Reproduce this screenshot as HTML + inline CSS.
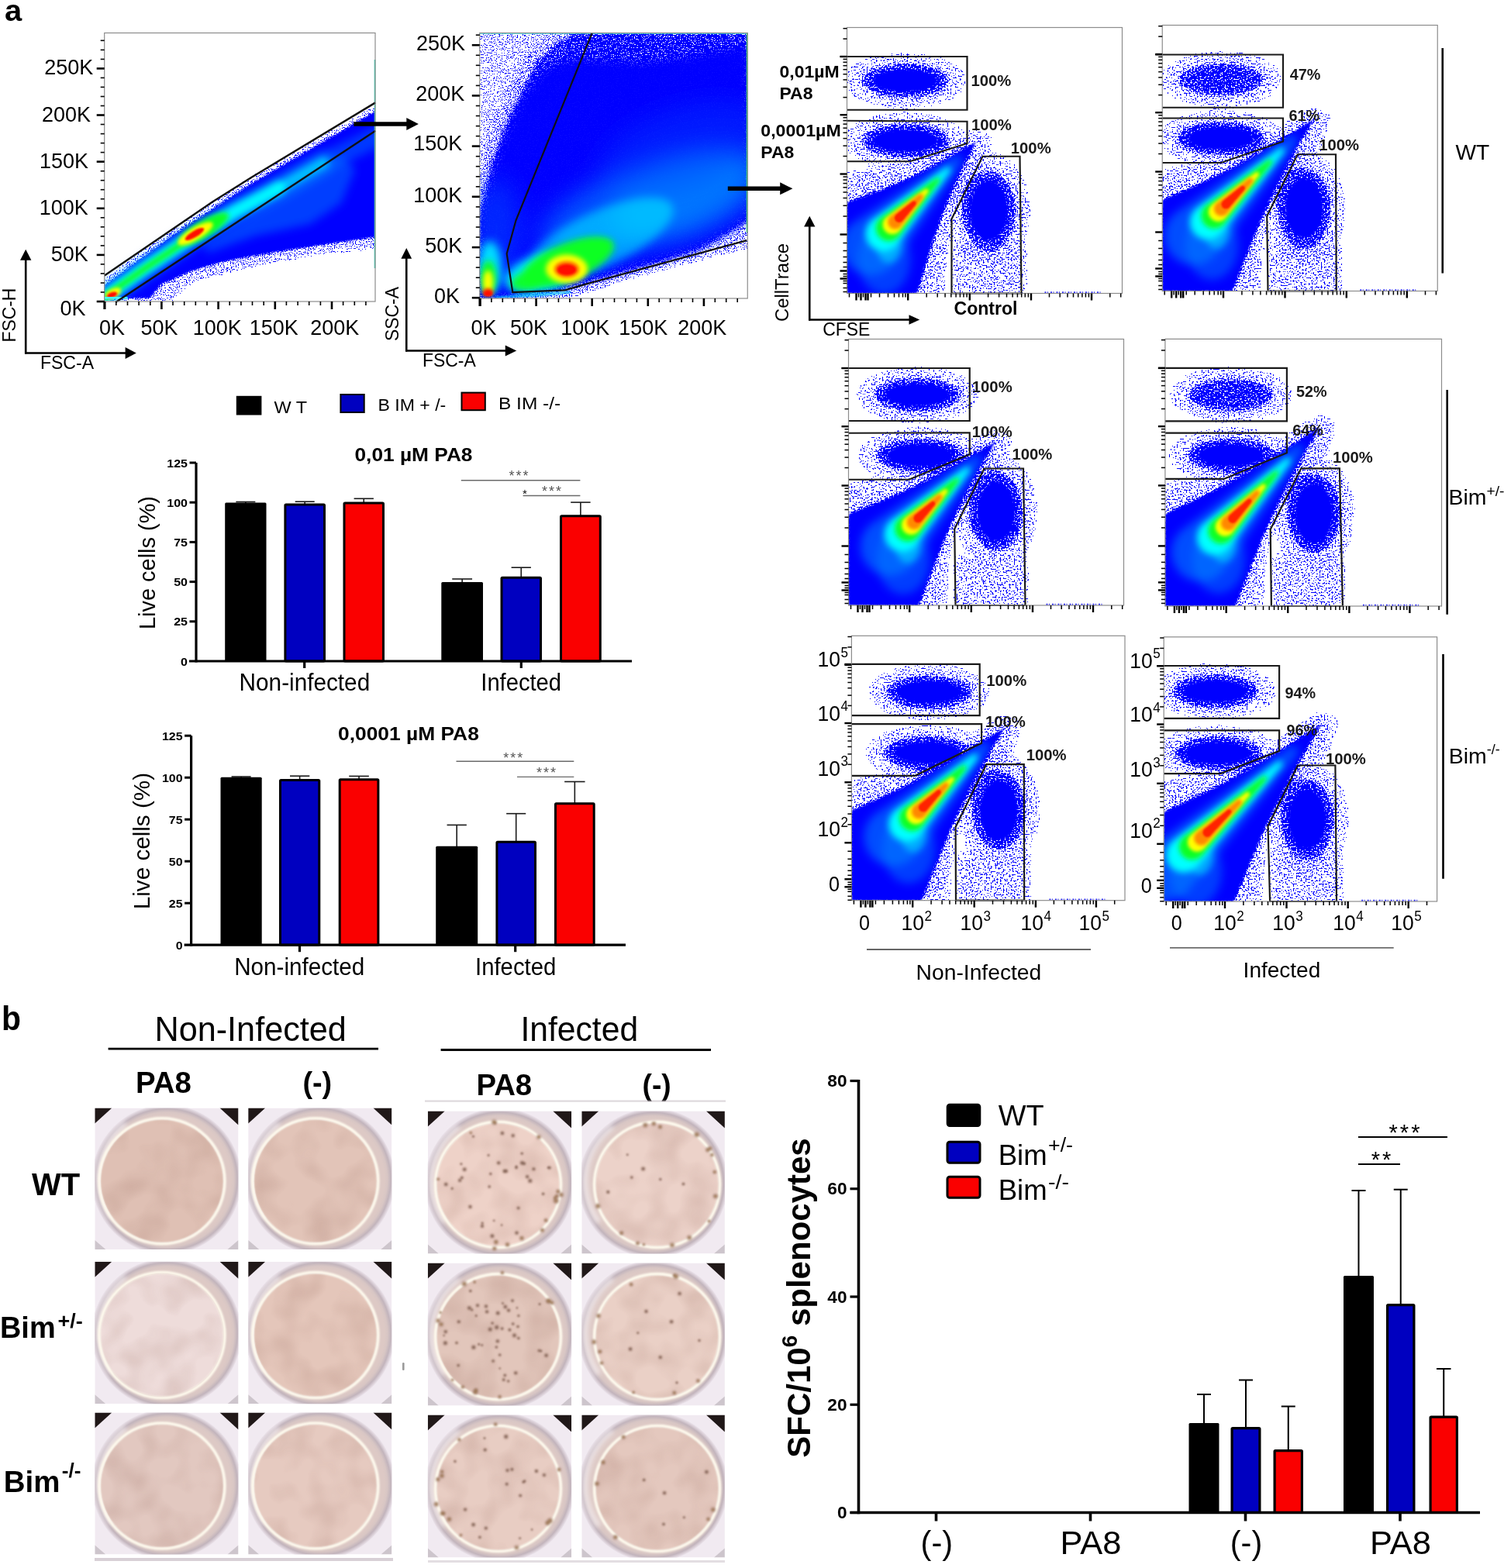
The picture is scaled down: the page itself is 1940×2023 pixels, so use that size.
<!DOCTYPE html>
<html><head><meta charset="utf-8"><title>Figure</title>
<style>html,body{margin:0;padding:0;background:#fff;}svg{display:block;}</style></head>
<body><svg xmlns="http://www.w3.org/2000/svg" width="1940" height="2023" viewBox="0 0 1940 2023" font-family="Liberation Sans, Arial, sans-serif">
<rect width="1940" height="2023" fill="#fff"/>
<defs>
<filter id="b1" x="-20%" y="-20%" width="140%" height="140%"><feGaussianBlur stdDeviation="1"/></filter>
<filter id="b2" x="-20%" y="-20%" width="140%" height="140%"><feGaussianBlur stdDeviation="2"/></filter>
<filter id="b3" x="-30%" y="-30%" width="160%" height="160%"><feGaussianBlur stdDeviation="3"/></filter>
<filter id="b4" x="-30%" y="-30%" width="160%" height="160%"><feGaussianBlur stdDeviation="4"/></filter>
<filter id="b6" x="-40%" y="-40%" width="180%" height="180%"><feGaussianBlur stdDeviation="6"/></filter>
<filter id="b10" x="-50%" y="-50%" width="200%" height="200%"><feGaussianBlur stdDeviation="10"/></filter>
<filter id="b16" x="-50%" y="-50%" width="200%" height="200%"><feGaussianBlur stdDeviation="16"/></filter>
<filter id="spk" x="-30%" y="-30%" width="160%" height="160%" color-interpolation-filters="sRGB">
  <feGaussianBlur in="SourceAlpha" stdDeviation="5" result="b"/>
  <feTurbulence type="fractalNoise" baseFrequency="0.5" numOctaves="2" seed="11" result="n"/>
  <feColorMatrix in="n" type="matrix" values="0 0 0 0 0  0 0 0 0 0  0 0 0 0 0  3.2 0 0 0 -1.1" result="na"/>
  <feComposite in="b" in2="na" operator="arithmetic" k1="0" k2="1" k3="1" k4="-1" result="s"/>
  <feComponentTransfer in="s" result="m"><feFuncA type="discrete" tableValues="0 1 1 1 1 1 1 1 1 1 1 1 1 1 1 1 1 1 1 1"/></feComponentTransfer>
  <feFlood flood-color="#0000ff" result="f"/>
  <feComposite in="f" in2="m" operator="in"/>
</filter>
<filter id="spk2" x="-30%" y="-30%" width="160%" height="160%" color-interpolation-filters="sRGB">
  <feGaussianBlur in="SourceAlpha" stdDeviation="2" result="b"/>
  <feTurbulence type="fractalNoise" baseFrequency="0.7" numOctaves="2" seed="5" result="n"/>
  <feColorMatrix in="n" type="matrix" values="0 0 0 0 0  0 0 0 0 0  0 0 0 0 0  3.2 0 0 0 -1.1" result="na"/>
  <feComposite in="b" in2="na" operator="arithmetic" k1="0" k2="1" k3="1" k4="-1" result="s"/>
  <feComponentTransfer in="s" result="m"><feFuncA type="discrete" tableValues="0 1 1 1 1 1 1 1 1 1 1 1 1 1 1 1 1 1 1 1"/></feComponentTransfer>
  <feFlood flood-color="#0000ff" result="f"/>
  <feComposite in="f" in2="m" operator="in"/>
</filter>
</defs>

<rect x="304.80" y="510.80" width="32.60" height="24.70" fill="#000"/>
<text x="353.4" y="533.0" font-size="22" textLength="42.6" lengthAdjust="spacingAndGlyphs">W T</text>
<rect x="439.40" y="509.00" width="30.30" height="23.00" fill="#0000c0" stroke="#000" stroke-width="2"/>
<text x="487.5" y="530.2" font-size="22" textLength="87.8" lengthAdjust="spacingAndGlyphs">B IM + /-</text>
<rect x="595.50" y="506.60" width="30.30" height="22.60" fill="#fa0000" stroke="#000" stroke-width="2"/>
<text x="643.0" y="527.8" font-size="22" textLength="80.2" lengthAdjust="spacingAndGlyphs">B IM -/-</text>
<line x1="316.85" y1="650.50" x2="316.85" y2="647.50" stroke="#1a1a1a" stroke-width="1.6" />
<line x1="304.35" y1="647.50" x2="329.35" y2="647.50" stroke="#1a1a1a" stroke-width="1.6" />
<line x1="393.20" y1="651.50" x2="393.20" y2="647.20" stroke="#1a1a1a" stroke-width="1.6" />
<line x1="380.70" y1="647.20" x2="405.70" y2="647.20" stroke="#1a1a1a" stroke-width="1.6" />
<line x1="469.25" y1="649.60" x2="469.25" y2="643.30" stroke="#1a1a1a" stroke-width="1.6" />
<line x1="456.60" y1="643.30" x2="481.90" y2="643.30" stroke="#1a1a1a" stroke-width="1.6" />
<line x1="596.15" y1="753.00" x2="596.15" y2="747.00" stroke="#1a1a1a" stroke-width="1.6" />
<line x1="583.25" y1="747.00" x2="609.05" y2="747.00" stroke="#1a1a1a" stroke-width="1.6" />
<line x1="672.25" y1="745.70" x2="672.25" y2="732.20" stroke="#1a1a1a" stroke-width="1.6" />
<line x1="659.60" y1="732.20" x2="684.90" y2="732.20" stroke="#1a1a1a" stroke-width="1.6" />
<line x1="748.90" y1="666.20" x2="748.90" y2="648.10" stroke="#1a1a1a" stroke-width="1.6" />
<line x1="736.20" y1="648.10" x2="761.60" y2="648.10" stroke="#1a1a1a" stroke-width="1.6" />
<rect x="290.20" y="648.50" width="53.30" height="204.50" fill="#000" rx="1.5"/>
<rect x="367.90" y="651.00" width="50.60" height="202.00" fill="#0000c0" stroke="#000" stroke-width="3" rx="1"/>
<rect x="444.00" y="649.10" width="50.50" height="203.90" fill="#fa0000" stroke="#000" stroke-width="3" rx="1"/>
<rect x="569.30" y="751.00" width="53.70" height="102.00" fill="#000" rx="1.5"/>
<rect x="647.00" y="745.20" width="50.50" height="107.80" fill="#0000c0" stroke="#000" stroke-width="3" rx="1"/>
<rect x="723.50" y="665.70" width="50.80" height="187.30" fill="#fa0000" stroke="#000" stroke-width="3" rx="1"/>
<line x1="253.00" y1="597.00" x2="253.00" y2="854.50" stroke="#000" stroke-width="3.2" />
<line x1="244.00" y1="853.00" x2="815.00" y2="853.00" stroke="#000" stroke-width="3.2" />
<line x1="244.50" y1="801.80" x2="253.00" y2="801.80" stroke="#000" stroke-width="3" />
<line x1="244.50" y1="750.60" x2="253.00" y2="750.60" stroke="#000" stroke-width="3" />
<line x1="244.50" y1="699.40" x2="253.00" y2="699.40" stroke="#000" stroke-width="3" />
<line x1="244.50" y1="648.20" x2="253.00" y2="648.20" stroke="#000" stroke-width="3" />
<line x1="244.50" y1="597.00" x2="253.00" y2="597.00" stroke="#000" stroke-width="3" />
<text x="242.0" y="858.5" font-size="15.5" font-weight="bold" text-anchor="end" textLength="8.9" lengthAdjust="spacingAndGlyphs">0</text>
<text x="242.0" y="807.3" font-size="15.5" font-weight="bold" text-anchor="end" textLength="17.8" lengthAdjust="spacingAndGlyphs">25</text>
<text x="242.0" y="756.1" font-size="15.5" font-weight="bold" text-anchor="end" textLength="17.8" lengthAdjust="spacingAndGlyphs">50</text>
<text x="242.0" y="704.9" font-size="15.5" font-weight="bold" text-anchor="end" textLength="17.8" lengthAdjust="spacingAndGlyphs">75</text>
<text x="242.0" y="653.7" font-size="15.5" font-weight="bold" text-anchor="end" textLength="26.7" lengthAdjust="spacingAndGlyphs">100</text>
<text x="242.0" y="602.5" font-size="15.5" font-weight="bold" text-anchor="end" textLength="26.7" lengthAdjust="spacingAndGlyphs">125</text>
<line x1="392.70" y1="853.00" x2="392.70" y2="862.00" stroke="#000" stroke-width="3.2" />
<line x1="672.30" y1="853.00" x2="672.30" y2="862.00" stroke="#000" stroke-width="3.2" />
<text x="457.5" y="595.3" font-size="24" font-weight="bold" textLength="152.0" lengthAdjust="spacingAndGlyphs">0,01 µM PA8</text>
<text x="308.6" y="890.6" font-size="31" textLength="168.6" lengthAdjust="spacingAndGlyphs">Non-infected</text>
<text x="620.3" y="890.6" font-size="31" textLength="103.7" lengthAdjust="spacingAndGlyphs">Infected</text>
<text transform="translate(200.0,726.0) rotate(-90)" font-size="29" text-anchor="middle" textLength="172.0" lengthAdjust="spacingAndGlyphs">Live cells (%)</text>
<line x1="594.80" y1="619.80" x2="748.40" y2="619.80" stroke="#6a6a6a" stroke-width="1.4" />
<text x="670.0" y="620.0" font-size="18" text-anchor="middle" fill="#555" letter-spacing="2">***</text>
<line x1="674.60" y1="639.50" x2="748.40" y2="639.50" stroke="#6a6a6a" stroke-width="1.4" />
<text x="712.6" y="639.5" font-size="18" text-anchor="middle" fill="#555" letter-spacing="2">***</text>
<text x="677.0" y="641.5" font-size="15" text-anchor="middle">*</text>
<line x1="311.10" y1="1004.80" x2="311.10" y2="1002.00" stroke="#1a1a1a" stroke-width="1.6" />
<line x1="298.60" y1="1002.00" x2="323.60" y2="1002.00" stroke="#1a1a1a" stroke-width="1.6" />
<line x1="386.65" y1="1007.00" x2="386.65" y2="1001.20" stroke="#1a1a1a" stroke-width="1.6" />
<line x1="374.00" y1="1001.20" x2="399.30" y2="1001.20" stroke="#1a1a1a" stroke-width="1.6" />
<line x1="463.05" y1="1006.30" x2="463.05" y2="1001.40" stroke="#1a1a1a" stroke-width="1.6" />
<line x1="450.25" y1="1001.40" x2="475.85" y2="1001.40" stroke="#1a1a1a" stroke-width="1.6" />
<line x1="589.20" y1="1093.80" x2="589.20" y2="1064.40" stroke="#1a1a1a" stroke-width="1.6" />
<line x1="576.55" y1="1064.40" x2="601.85" y2="1064.40" stroke="#1a1a1a" stroke-width="1.6" />
<line x1="665.70" y1="1086.70" x2="665.70" y2="1049.70" stroke="#1a1a1a" stroke-width="1.6" />
<line x1="653.15" y1="1049.70" x2="678.25" y2="1049.70" stroke="#1a1a1a" stroke-width="1.6" />
<line x1="741.35" y1="1037.30" x2="741.35" y2="1008.50" stroke="#1a1a1a" stroke-width="1.6" />
<line x1="728.15" y1="1008.50" x2="754.55" y2="1008.50" stroke="#1a1a1a" stroke-width="1.6" />
<rect x="284.50" y="1002.80" width="53.20" height="216.40" fill="#000" rx="1.5"/>
<rect x="361.50" y="1006.50" width="50.30" height="212.70" fill="#0000c0" stroke="#000" stroke-width="3" rx="1"/>
<rect x="438.20" y="1005.80" width="49.70" height="213.40" fill="#fa0000" stroke="#000" stroke-width="3" rx="1"/>
<rect x="562.20" y="1091.80" width="54.00" height="127.40" fill="#000" rx="1.5"/>
<rect x="640.90" y="1086.20" width="49.60" height="133.00" fill="#0000c0" stroke="#000" stroke-width="3" rx="1"/>
<rect x="716.50" y="1036.80" width="49.70" height="182.40" fill="#fa0000" stroke="#000" stroke-width="3" rx="1"/>
<line x1="246.60" y1="949.20" x2="246.60" y2="1220.70" stroke="#000" stroke-width="3.2" />
<line x1="237.60" y1="1219.20" x2="807.00" y2="1219.20" stroke="#000" stroke-width="3.2" />
<line x1="238.10" y1="1165.20" x2="246.60" y2="1165.20" stroke="#000" stroke-width="3" />
<line x1="238.10" y1="1111.20" x2="246.60" y2="1111.20" stroke="#000" stroke-width="3" />
<line x1="238.10" y1="1057.20" x2="246.60" y2="1057.20" stroke="#000" stroke-width="3" />
<line x1="238.10" y1="1003.20" x2="246.60" y2="1003.20" stroke="#000" stroke-width="3" />
<line x1="238.10" y1="949.20" x2="246.60" y2="949.20" stroke="#000" stroke-width="3" />
<text x="235.6" y="1224.7" font-size="15.5" font-weight="bold" text-anchor="end" textLength="8.9" lengthAdjust="spacingAndGlyphs">0</text>
<text x="235.6" y="1170.7" font-size="15.5" font-weight="bold" text-anchor="end" textLength="17.8" lengthAdjust="spacingAndGlyphs">25</text>
<text x="235.6" y="1116.7" font-size="15.5" font-weight="bold" text-anchor="end" textLength="17.8" lengthAdjust="spacingAndGlyphs">50</text>
<text x="235.6" y="1062.7" font-size="15.5" font-weight="bold" text-anchor="end" textLength="17.8" lengthAdjust="spacingAndGlyphs">75</text>
<text x="235.6" y="1008.7" font-size="15.5" font-weight="bold" text-anchor="end" textLength="26.7" lengthAdjust="spacingAndGlyphs">100</text>
<text x="235.6" y="954.7" font-size="15.5" font-weight="bold" text-anchor="end" textLength="26.7" lengthAdjust="spacingAndGlyphs">125</text>
<line x1="386.50" y1="1219.20" x2="386.50" y2="1228.20" stroke="#000" stroke-width="3.2" />
<line x1="664.70" y1="1219.20" x2="664.70" y2="1228.20" stroke="#000" stroke-width="3.2" />
<text x="436.0" y="955.0" font-size="24" font-weight="bold" textLength="181.8" lengthAdjust="spacingAndGlyphs">0,0001 µM PA8</text>
<text x="302.2" y="1257.9" font-size="31" textLength="168.1" lengthAdjust="spacingAndGlyphs">Non-infected</text>
<text x="613.0" y="1257.9" font-size="31" textLength="104.3" lengthAdjust="spacingAndGlyphs">Infected</text>
<text transform="translate(193.2,1085.1) rotate(-90)" font-size="29" text-anchor="middle" textLength="176.2" lengthAdjust="spacingAndGlyphs">Live cells (%)</text>
<line x1="588.50" y1="982.30" x2="740.30" y2="982.30" stroke="#6a6a6a" stroke-width="1.4" />
<text x="662.8" y="983.5" font-size="18" text-anchor="middle" fill="#555" letter-spacing="2">***</text>
<line x1="667.00" y1="1002.40" x2="740.30" y2="1002.40" stroke="#6a6a6a" stroke-width="1.4" />
<text x="705.5" y="1003.0" font-size="18" text-anchor="middle" fill="#555" letter-spacing="2">***</text>
<line x1="1553.00" y1="1838.00" x2="1553.00" y2="1799.00" stroke="#000" stroke-width="2" />
<line x1="1544.00" y1="1799.00" x2="1562.00" y2="1799.00" stroke="#000" stroke-width="2" />
<line x1="1607.00" y1="1843.00" x2="1607.00" y2="1780.50" stroke="#000" stroke-width="2" />
<line x1="1598.00" y1="1780.50" x2="1616.00" y2="1780.50" stroke="#000" stroke-width="2" />
<line x1="1661.75" y1="1872.00" x2="1661.75" y2="1814.50" stroke="#000" stroke-width="2" />
<line x1="1652.75" y1="1814.50" x2="1670.75" y2="1814.50" stroke="#000" stroke-width="2" />
<line x1="1752.50" y1="1648.00" x2="1752.50" y2="1536.00" stroke="#000" stroke-width="2" />
<line x1="1743.50" y1="1536.00" x2="1761.50" y2="1536.00" stroke="#000" stroke-width="2" />
<line x1="1806.75" y1="1684.00" x2="1806.75" y2="1534.70" stroke="#000" stroke-width="2" />
<line x1="1797.75" y1="1534.70" x2="1815.75" y2="1534.70" stroke="#000" stroke-width="2" />
<line x1="1862.25" y1="1828.50" x2="1862.25" y2="1766.00" stroke="#000" stroke-width="2" />
<line x1="1853.00" y1="1766.00" x2="1871.50" y2="1766.00" stroke="#000" stroke-width="2" />
<rect x="1533.50" y="1836.00" width="39.00" height="115.50" fill="#000" rx="1.5"/>
<rect x="1589.10" y="1842.60" width="35.80" height="108.90" fill="#0000c0" stroke="#000" stroke-width="3.2" rx="1"/>
<rect x="1644.10" y="1871.60" width="35.30" height="79.90" fill="#fa0000" stroke="#000" stroke-width="3.2" rx="1"/>
<rect x="1733.00" y="1646.00" width="39.00" height="305.50" fill="#000" rx="1.5"/>
<rect x="1789.60" y="1683.60" width="34.30" height="267.90" fill="#0000c0" stroke="#000" stroke-width="3.2" rx="1"/>
<rect x="1845.10" y="1828.10" width="34.30" height="123.40" fill="#fa0000" stroke="#000" stroke-width="3.2" rx="1"/>
<line x1="1107.50" y1="1393.00" x2="1107.50" y2="1953.25" stroke="#000" stroke-width="3.6" />
<line x1="1096.50" y1="1951.50" x2="1909.00" y2="1951.50" stroke="#000" stroke-width="3.6" />
<line x1="1096.50" y1="1951.50" x2="1107.50" y2="1951.50" stroke="#000" stroke-width="3.2" />
<text x="1092.5" y="1959.0" font-size="22" font-weight="bold" text-anchor="end" textLength="12.6" lengthAdjust="spacingAndGlyphs">0</text>
<line x1="1096.50" y1="1812.25" x2="1107.50" y2="1812.25" stroke="#000" stroke-width="3.2" />
<text x="1092.5" y="1819.8" font-size="22" font-weight="bold" text-anchor="end" textLength="25.2" lengthAdjust="spacingAndGlyphs">20</text>
<line x1="1096.50" y1="1673.00" x2="1107.50" y2="1673.00" stroke="#000" stroke-width="3.2" />
<text x="1092.5" y="1680.5" font-size="22" font-weight="bold" text-anchor="end" textLength="25.2" lengthAdjust="spacingAndGlyphs">40</text>
<line x1="1096.50" y1="1533.75" x2="1107.50" y2="1533.75" stroke="#000" stroke-width="3.2" />
<text x="1092.5" y="1541.2" font-size="22" font-weight="bold" text-anchor="end" textLength="25.2" lengthAdjust="spacingAndGlyphs">60</text>
<line x1="1096.50" y1="1394.50" x2="1107.50" y2="1394.50" stroke="#000" stroke-width="3.2" />
<text x="1092.5" y="1402.0" font-size="22" font-weight="bold" text-anchor="end" textLength="25.2" lengthAdjust="spacingAndGlyphs">80</text>
<line x1="1207.50" y1="1951.50" x2="1207.50" y2="1962.50" stroke="#000" stroke-width="3.6" />
<line x1="1406.50" y1="1951.50" x2="1406.50" y2="1962.50" stroke="#000" stroke-width="3.6" />
<line x1="1606.50" y1="1951.50" x2="1606.50" y2="1962.50" stroke="#000" stroke-width="3.6" />
<line x1="1806.00" y1="1951.50" x2="1806.00" y2="1962.50" stroke="#000" stroke-width="3.6" />
<text x="1208.3" y="2005.0" font-size="42" text-anchor="middle" textLength="41.5" lengthAdjust="spacingAndGlyphs">(-)</text>
<text x="1407.0" y="2005.0" font-size="42" text-anchor="middle" textLength="79.0" lengthAdjust="spacingAndGlyphs">PA8</text>
<text x="1607.5" y="2005.0" font-size="42" text-anchor="middle" textLength="41.5" lengthAdjust="spacingAndGlyphs">(-)</text>
<text x="1806.5" y="2005.0" font-size="42" text-anchor="middle" textLength="79.0" lengthAdjust="spacingAndGlyphs">PA8</text>
<rect x="1222.00" y="1425.00" width="42.00" height="27.60" fill="#000" stroke="#000" stroke-width="2.6" rx="3"/>
<rect x="1222.00" y="1473.20" width="42.00" height="27.00" fill="#0000c0" stroke="#000" stroke-width="3" rx="3"/>
<rect x="1222.00" y="1518.30" width="42.00" height="27.00" fill="#fa0000" stroke="#000" stroke-width="3" rx="3"/>
<text x="1287.7" y="1451.9" font-size="37" textLength="59.0" lengthAdjust="spacingAndGlyphs">WT</text>
<text x="1287.7" y="1503.0" font-size="37" textLength="63.0" lengthAdjust="spacingAndGlyphs">Bim</text>
<text x="1352.0" y="1486.0" font-size="26" textLength="32.0" lengthAdjust="spacingAndGlyphs">+/-</text>
<text x="1287.7" y="1547.7" font-size="37" textLength="63.0" lengthAdjust="spacingAndGlyphs">Bim</text>
<text x="1352.0" y="1533.8" font-size="26" textLength="27.0" lengthAdjust="spacingAndGlyphs">-/-</text>
<line x1="1752.00" y1="1467.00" x2="1867.00" y2="1467.00" stroke="#000" stroke-width="2" />
<text x="1813.0" y="1471.0" font-size="29" text-anchor="middle" letter-spacing="3">***</text>
<line x1="1752.00" y1="1502.00" x2="1806.00" y2="1502.00" stroke="#000" stroke-width="2" />
<text x="1783.0" y="1506.0" font-size="29" text-anchor="middle" letter-spacing="3">**</text>
<text transform="translate(1045,1674.5) rotate(-90)" font-size="42" font-weight="bold" text-anchor="middle">SFC/10<tspan font-size="28" dy="-17">6</tspan><tspan dy="17"> splenocytes</tspan></text>
<clipPath id="cp1"><rect x="1092.50" y="35.50" width="355.00" height="343.00"/></clipPath>
<clipPath id="cp2"><polygon points="1092.5,378.5 1092.5,261.5 1113.4,254.3 1134.2,246.7 1155.1,238.3 1176.0,229.0 1196.9,218.6 1217.8,207.2 1238.6,195.1 1259.5,182.5 1245.4,207.0 1233.4,231.5 1222.7,256.0 1213.2,280.5 1204.7,305.0 1196.9,329.5 1189.6,354.0 1182.5,378.5"/></clipPath>
<g clip-path="url(#cp1)"><g filter="url(#spk)"><ellipse cx="1167.5" cy="104.0" rx="77.0" ry="34.0" fill="#000" fill-opacity="0.16"/><ellipse cx="1168.0" cy="181.5" rx="78.0" ry="34.0" fill="#000" fill-opacity="0.16"/><ellipse cx="1167.5" cy="104.0" rx="55.0" ry="21.0" fill="#000"/><ellipse cx="1168.0" cy="181.5" rx="56.0" ry="21.0" fill="#000"/><polygon points="1092.5,225.5 1132.5,217.5 1192.5,205.5 1255.5,170.5 1277.5,178.5 1263.5,222.5 1242.5,250.5 1222.5,295.5 1217.5,335.5 1214.5,378.5 1092.5,378.5" fill="#000" fill-opacity="0.3"/><polygon points="1092.5,378.5 1092.5,261.5 1113.4,254.3 1134.2,246.7 1155.1,238.3 1176.0,229.0 1196.9,218.6 1217.8,207.2 1238.6,195.1 1259.5,182.5 1245.4,207.0 1233.4,231.5 1222.7,256.0 1213.2,280.5 1204.7,305.0 1196.9,329.5 1189.6,354.0 1182.5,378.5" fill="#000"/><ellipse cx="1275.5" cy="271.5" rx="50.0" ry="72.0" fill="#000" fill-opacity="0.22"/><ellipse cx="1275.5" cy="271.5" rx="34.0" ry="50.0" fill="#000" fill-opacity="0.95"/><polygon points="1232.5,315.5 1320.5,315.5 1320.5,378.5 1232.5,378.5" fill="#000" fill-opacity="0.26"/></g><g filter="url(#b1)"><ellipse cx="1167.5" cy="104.0" rx="41.2" ry="14.0" fill="#0000ff"/><ellipse cx="1168.0" cy="181.5" rx="42.0" ry="14.0" fill="#0000ff"/><polygon points="1092.5,378.5 1092.5,261.5 1113.4,254.3 1134.2,246.7 1155.1,238.3 1176.0,229.0 1196.9,218.6 1217.8,207.2 1238.6,195.1 1259.5,182.5 1245.4,207.0 1233.4,231.5 1222.7,256.0 1213.2,280.5 1204.7,305.0 1196.9,329.5 1189.6,354.0 1182.5,378.5" fill="#0000ff"/><ellipse cx="1275.5" cy="271.5" rx="24.0" ry="38.0" fill="#0000ff"/></g><line x1="1347.5" y1="377.3" x2="1422.5" y2="377.3" stroke="#0000ff" stroke-width="2.2" stroke-dasharray="2 1.5 1 3" stroke-opacity="0.8"/><g clip-path="url(#cp2)"><g filter="url(#b6)"><ellipse cx="1171.5" cy="106.0" rx="32.0" ry="9.0" fill="#0050ff" fill-opacity="0.6"/><ellipse cx="1172.0" cy="183.5" rx="32.0" ry="9.0" fill="#0050ff" fill-opacity="0.6"/><ellipse cx="1140.5" cy="334.5" rx="34.0" ry="45.0" fill="#0070ff" fill-opacity="0.55"/><polygon points="1239.2,212.4 1240.7,210.2 1241.3,207.5 1240.8,204.8 1239.3,202.5 1237.0,201.0 1234.3,200.4 1231.6,201.0 1229.4,202.5 1096.5,290.3 1088.2,302.6 1085.2,317.1 1088.0,331.7 1096.2,344.0 1108.4,352.3 1123.0,355.3 1137.5,352.5 1149.9,344.3" fill="#0080ff" fill-opacity="0.6"/></g><g filter="url(#b4)"><polygon points="1225.4,221.9 1226.3,220.6 1226.6,219.0 1226.3,217.5 1225.4,216.2 1224.1,215.3 1222.6,215.0 1221.1,215.3 1219.8,216.2 1123.1,285.1 1118.1,292.5 1116.3,301.3 1118.0,310.1 1122.9,317.6 1130.3,322.6 1139.1,324.4 1147.9,322.7 1155.4,317.8" fill="#00ffff"/><ellipse cx="1146.5" cy="317.5" rx="16.0" ry="22.0" fill="#00ffff" fill-opacity="0.45"/></g><g filter="url(#b3)"><polygon points="1211.5,234.2 1212.2,233.2 1212.4,232.0 1212.2,230.9 1211.6,229.9 1210.6,229.3 1209.4,229.0 1208.3,229.2 1207.3,229.9 1134.6,282.1 1130.9,287.6 1129.6,294.1 1130.8,300.6 1134.5,306.1 1140.0,309.9 1146.5,311.2 1153.0,309.9 1158.5,306.3" fill="#10ff20"/></g><g filter="url(#b2)"><polygon points="1196.9,248.6 1197.6,247.6 1197.8,246.5 1197.6,245.3 1196.9,244.4 1196.0,243.7 1194.8,243.5 1193.7,243.7 1192.7,244.3 1142.2,281.0 1139.4,285.0 1138.5,289.8 1139.4,294.6 1142.1,298.6 1146.1,301.4 1150.9,302.3 1155.7,301.4 1159.7,298.7" fill="#ffff00"/></g><g filter="url(#b2)"><polygon points="1190.0,256.2 1190.7,255.1 1191.0,253.7 1190.7,252.4 1190.0,251.2 1188.9,250.5 1187.5,250.2 1186.2,250.5 1185.0,251.2 1147.9,279.5 1145.9,282.6 1145.1,286.2 1145.8,289.8 1147.9,292.9 1150.9,295.0 1154.6,295.7 1158.2,295.0 1161.3,293.0" fill="#ff8800"/></g><g filter="url(#b1)"><polygon points="1180.8,264.5 1181.5,263.5 1181.7,262.4 1181.5,261.2 1180.9,260.3 1179.9,259.6 1178.7,259.4 1177.6,259.6 1176.6,260.2 1155.7,277.1 1154.4,278.9 1153.9,281.1 1154.4,283.4 1155.6,285.3 1157.5,286.5 1159.7,287.0 1161.9,286.5 1163.8,285.3" fill="#ff2000"/></g></g></g>
<polyline points="1083.50,73.00 1247.50,73.00 1247.50,141.75 1092.50,141.75" fill="none" stroke="#1a1a1a" stroke-width="2.2" />
<polyline points="1092.50,155.75 1247.50,156.75 1247.50,185.00 1173.75,208.25 1092.50,208.25" fill="none" stroke="#1a1a1a" stroke-width="2.2" />
<polygon points="1227.50,378.50 1227.50,282.50 1267.50,201.75 1315.50,201.75 1317.50,378.50" fill="none" stroke="#1a1a1a" stroke-width="2.2" />
<rect x="1092.50" y="35.50" width="355.00" height="343.00" fill="none" stroke="#8c8c8c" stroke-width="1.2"/>
<g stroke="#000"><line x1="1083.5" y1="73.0" x2="1092.5" y2="73.0" stroke-width="2.4"/><line x1="1083.5" y1="148.2" x2="1092.5" y2="148.2" stroke-width="2.4"/><line x1="1083.5" y1="224.5" x2="1092.5" y2="224.5" stroke-width="2.4"/><line x1="1083.5" y1="302.5" x2="1092.5" y2="302.5" stroke-width="2.4"/><line x1="1087.5" y1="125.6" x2="1092.5" y2="125.6" stroke-width="1.5"/><line x1="1087.5" y1="112.3" x2="1092.5" y2="112.3" stroke-width="1.5"/><line x1="1087.5" y1="102.9" x2="1092.5" y2="102.9" stroke-width="1.5"/><line x1="1087.5" y1="95.7" x2="1092.5" y2="95.7" stroke-width="1.5"/><line x1="1087.5" y1="89.7" x2="1092.5" y2="89.7" stroke-width="1.5"/><line x1="1087.5" y1="84.7" x2="1092.5" y2="84.7" stroke-width="1.5"/><line x1="1087.5" y1="80.3" x2="1092.5" y2="80.3" stroke-width="1.5"/><line x1="1087.5" y1="76.4" x2="1092.5" y2="76.4" stroke-width="1.5"/><line x1="1087.5" y1="201.5" x2="1092.5" y2="201.5" stroke-width="1.5"/><line x1="1087.5" y1="188.1" x2="1092.5" y2="188.1" stroke-width="1.5"/><line x1="1087.5" y1="178.6" x2="1092.5" y2="178.6" stroke-width="1.5"/><line x1="1087.5" y1="171.2" x2="1092.5" y2="171.2" stroke-width="1.5"/><line x1="1087.5" y1="165.2" x2="1092.5" y2="165.2" stroke-width="1.5"/><line x1="1087.5" y1="160.1" x2="1092.5" y2="160.1" stroke-width="1.5"/><line x1="1087.5" y1="155.6" x2="1092.5" y2="155.6" stroke-width="1.5"/><line x1="1087.5" y1="151.7" x2="1092.5" y2="151.7" stroke-width="1.5"/><line x1="1087.5" y1="279.0" x2="1092.5" y2="279.0" stroke-width="1.5"/><line x1="1087.5" y1="265.3" x2="1092.5" y2="265.3" stroke-width="1.5"/><line x1="1087.5" y1="255.5" x2="1092.5" y2="255.5" stroke-width="1.5"/><line x1="1087.5" y1="248.0" x2="1092.5" y2="248.0" stroke-width="1.5"/><line x1="1087.5" y1="241.8" x2="1092.5" y2="241.8" stroke-width="1.5"/><line x1="1087.5" y1="236.6" x2="1092.5" y2="236.6" stroke-width="1.5"/><line x1="1087.5" y1="232.1" x2="1092.5" y2="232.1" stroke-width="1.5"/><line x1="1087.5" y1="228.1" x2="1092.5" y2="228.1" stroke-width="1.5"/><line x1="1087.5" y1="50.1" x2="1092.5" y2="50.1" stroke-width="1.5"/><line x1="1087.5" y1="36.7" x2="1092.5" y2="36.7" stroke-width="1.5"/><line x1="1087.5" y1="313.5" x2="1092.5" y2="313.5" stroke-width="1.5"/><line x1="1087.5" y1="323.5" x2="1092.5" y2="323.5" stroke-width="1.5"/><line x1="1087.5" y1="331.5" x2="1092.5" y2="331.5" stroke-width="1.5"/><line x1="1087.5" y1="338.5" x2="1092.5" y2="338.5" stroke-width="1.5"/><line x1="1087.5" y1="344.5" x2="1092.5" y2="344.5" stroke-width="1.5"/><line x1="1083.5" y1="349.5" x2="1092.5" y2="349.5" stroke-width="2.4"/><line x1="1087.5" y1="353.5" x2="1092.5" y2="353.5" stroke-width="1.5"/><line x1="1087.5" y1="356.5" x2="1092.5" y2="356.5" stroke-width="1.5"/><line x1="1083.5" y1="359.5" x2="1092.5" y2="359.5" stroke-width="2.4"/><line x1="1087.5" y1="362.5" x2="1092.5" y2="362.5" stroke-width="1.5"/><line x1="1087.5" y1="365.5" x2="1092.5" y2="365.5" stroke-width="1.5"/><line x1="1087.5" y1="371.5" x2="1092.5" y2="371.5" stroke-width="1.5"/><line x1="1087.5" y1="376.5" x2="1092.5" y2="376.5" stroke-width="1.5"/><line x1="1171.2" y1="378.5" x2="1171.2" y2="387.5" stroke-width="2.4"/><line x1="1250.8" y1="378.5" x2="1250.8" y2="387.5" stroke-width="2.4"/><line x1="1330.0" y1="378.5" x2="1330.0" y2="387.5" stroke-width="2.4"/><line x1="1408.0" y1="378.5" x2="1408.0" y2="387.5" stroke-width="2.4"/><line x1="1195.2" y1="378.5" x2="1195.2" y2="383.5" stroke-width="1.5"/><line x1="1209.2" y1="378.5" x2="1209.2" y2="383.5" stroke-width="1.5"/><line x1="1219.1" y1="378.5" x2="1219.1" y2="383.5" stroke-width="1.5"/><line x1="1226.8" y1="378.5" x2="1226.8" y2="383.5" stroke-width="1.5"/><line x1="1233.1" y1="378.5" x2="1233.1" y2="383.5" stroke-width="1.5"/><line x1="1238.4" y1="378.5" x2="1238.4" y2="383.5" stroke-width="1.5"/><line x1="1243.0" y1="378.5" x2="1243.0" y2="383.5" stroke-width="1.5"/><line x1="1247.1" y1="378.5" x2="1247.1" y2="383.5" stroke-width="1.5"/><line x1="1274.6" y1="378.5" x2="1274.6" y2="383.5" stroke-width="1.5"/><line x1="1288.6" y1="378.5" x2="1288.6" y2="383.5" stroke-width="1.5"/><line x1="1298.5" y1="378.5" x2="1298.5" y2="383.5" stroke-width="1.5"/><line x1="1306.1" y1="378.5" x2="1306.1" y2="383.5" stroke-width="1.5"/><line x1="1312.4" y1="378.5" x2="1312.4" y2="383.5" stroke-width="1.5"/><line x1="1317.7" y1="378.5" x2="1317.7" y2="383.5" stroke-width="1.5"/><line x1="1322.3" y1="378.5" x2="1322.3" y2="383.5" stroke-width="1.5"/><line x1="1326.4" y1="378.5" x2="1326.4" y2="383.5" stroke-width="1.5"/><line x1="1353.5" y1="378.5" x2="1353.5" y2="383.5" stroke-width="1.5"/><line x1="1367.2" y1="378.5" x2="1367.2" y2="383.5" stroke-width="1.5"/><line x1="1377.0" y1="378.5" x2="1377.0" y2="383.5" stroke-width="1.5"/><line x1="1384.5" y1="378.5" x2="1384.5" y2="383.5" stroke-width="1.5"/><line x1="1390.7" y1="378.5" x2="1390.7" y2="383.5" stroke-width="1.5"/><line x1="1395.9" y1="378.5" x2="1395.9" y2="383.5" stroke-width="1.5"/><line x1="1400.4" y1="378.5" x2="1400.4" y2="383.5" stroke-width="1.5"/><line x1="1404.4" y1="378.5" x2="1404.4" y2="383.5" stroke-width="1.5"/><line x1="1431.8" y1="378.5" x2="1431.8" y2="383.5" stroke-width="1.5"/><line x1="1445.7" y1="378.5" x2="1445.7" y2="383.5" stroke-width="1.5"/><line x1="1134.5" y1="378.5" x2="1134.5" y2="383.5" stroke-width="1.5"/><line x1="1145.5" y1="378.5" x2="1145.5" y2="383.5" stroke-width="1.5"/><line x1="1153.5" y1="378.5" x2="1153.5" y2="383.5" stroke-width="1.5"/><line x1="1159.5" y1="378.5" x2="1159.5" y2="383.5" stroke-width="1.5"/><line x1="1164.5" y1="378.5" x2="1164.5" y2="383.5" stroke-width="1.5"/><line x1="1168.0" y1="378.5" x2="1168.0" y2="383.5" stroke-width="1.5"/><line x1="1095.5" y1="378.5" x2="1095.5" y2="383.5" stroke-width="1.5"/><line x1="1104.5" y1="378.5" x2="1104.5" y2="387.5" stroke-width="2.4"/><line x1="1107.5" y1="378.5" x2="1107.5" y2="383.5" stroke-width="1.5"/><line x1="1110.5" y1="378.5" x2="1110.5" y2="387.5" stroke-width="2.4"/><line x1="1113.5" y1="378.5" x2="1113.5" y2="383.5" stroke-width="1.5"/><line x1="1116.5" y1="378.5" x2="1116.5" y2="387.5" stroke-width="2.4"/><line x1="1119.5" y1="378.5" x2="1119.5" y2="387.5" stroke-width="2.4"/><line x1="1123.5" y1="378.5" x2="1123.5" y2="383.5" stroke-width="1.5"/></g>
<text x="1252.5" y="111.0" font-size="20" font-weight="bold" fill="#1a1a1a" textLength="51.9" lengthAdjust="spacingAndGlyphs">100%</text>
<text x="1253.0" y="167.5" font-size="20" font-weight="bold" fill="#1a1a1a" textLength="51.9" lengthAdjust="spacingAndGlyphs">100%</text>
<text x="1303.8" y="197.5" font-size="20" font-weight="bold" fill="#1a1a1a" textLength="51.9" lengthAdjust="spacingAndGlyphs">100%</text>
<clipPath id="cp3"><rect x="1499.25" y="32.50" width="355.00" height="343.00"/></clipPath>
<clipPath id="cp4"><polygon points="1499.2,375.5 1499.2,258.5 1523.8,248.1 1548.2,237.2 1572.8,225.6 1597.2,213.0 1621.8,199.3 1646.2,184.7 1670.8,169.3 1695.2,153.5 1677.5,181.2 1661.9,209.0 1647.6,236.8 1634.5,264.5 1622.3,292.2 1610.9,320.0 1600.0,347.8 1589.2,375.5"/></clipPath>
<g clip-path="url(#cp3)"><g filter="url(#spk)"><ellipse cx="1575.0" cy="102.5" rx="77.0" ry="34.0" fill="#000" fill-opacity="0.16"/><ellipse cx="1574.8" cy="178.5" rx="78.0" ry="34.0" fill="#000" fill-opacity="0.16"/><ellipse cx="1575.0" cy="102.5" rx="55.0" ry="21.0" fill="#000" fill-opacity="0.85"/><ellipse cx="1574.8" cy="178.5" rx="56.0" ry="21.0" fill="#000"/><polygon points="1499.2,222.5 1539.2,214.5 1599.2,202.5 1691.2,141.5 1713.2,149.5 1699.2,193.5 1649.2,247.5 1629.2,292.5 1624.2,332.5 1621.2,375.5 1499.2,375.5" fill="#000" fill-opacity="0.3"/><polygon points="1499.2,375.5 1499.2,258.5 1523.8,248.1 1548.2,237.2 1572.8,225.6 1597.2,213.0 1621.8,199.3 1646.2,184.7 1670.8,169.3 1695.2,153.5 1677.5,181.2 1661.9,209.0 1647.6,236.8 1634.5,264.5 1622.3,292.2 1610.9,320.0 1600.0,347.8 1589.2,375.5" fill="#000"/><ellipse cx="1682.2" cy="268.5" rx="50.0" ry="72.0" fill="#000" fill-opacity="0.22"/><ellipse cx="1682.2" cy="268.5" rx="34.0" ry="50.0" fill="#000" fill-opacity="0.95"/><polygon points="1639.2,312.5 1727.2,312.5 1727.2,375.5 1639.2,375.5" fill="#000" fill-opacity="0.26"/></g><g filter="url(#b1)"><ellipse cx="1575.0" cy="102.5" rx="41.2" ry="14.0" fill="#0000ff" fill-opacity="0"/><ellipse cx="1574.8" cy="178.5" rx="42.0" ry="14.0" fill="#0000ff"/><polygon points="1499.2,375.5 1499.2,258.5 1523.8,248.1 1548.2,237.2 1572.8,225.6 1597.2,213.0 1621.8,199.3 1646.2,184.7 1670.8,169.3 1695.2,153.5 1677.5,181.2 1661.9,209.0 1647.6,236.8 1634.5,264.5 1622.3,292.2 1610.9,320.0 1600.0,347.8 1589.2,375.5" fill="#0000ff"/><ellipse cx="1682.2" cy="268.5" rx="24.0" ry="38.0" fill="#0000ff"/></g><line x1="1754.25" y1="374.3" x2="1829.25" y2="374.3" stroke="#0000ff" stroke-width="2.2" stroke-dasharray="2 1.5 1 3" stroke-opacity="0.8"/><g clip-path="url(#cp4)"><g filter="url(#b6)"><ellipse cx="1579.0" cy="104.5" rx="32.0" ry="9.0" fill="#0050ff" fill-opacity="0.6"/><ellipse cx="1578.8" cy="180.5" rx="32.0" ry="9.0" fill="#0050ff" fill-opacity="0.6"/><ellipse cx="1563.2" cy="316.0" rx="34.0" ry="45.0" fill="#0070ff" fill-opacity="0.55"/><polygon points="1671.3,186.4 1672.9,184.1 1673.4,181.5 1672.9,178.8 1671.5,176.5 1669.2,174.9 1666.6,174.4 1663.9,174.8 1661.6,176.3 1513.1,276.7 1504.6,288.9 1501.5,303.4 1504.1,318.0 1512.1,330.5 1524.3,338.9 1538.8,342.0 1553.4,339.4 1565.9,331.4" fill="#0080ff" fill-opacity="0.6"/></g><g filter="url(#b4)"><polygon points="1655.8,197.1 1656.7,195.9 1657.1,194.3 1656.8,192.8 1655.9,191.5 1654.7,190.6 1653.1,190.3 1651.6,190.5 1650.3,191.4 1541.9,269.7 1536.7,277.1 1534.8,285.9 1536.4,294.7 1541.3,302.3 1548.7,307.4 1557.4,309.3 1566.3,307.7 1573.8,302.8" fill="#00ffff"/><ellipse cx="1569.2" cy="299.0" rx="16.0" ry="22.0" fill="#00ffff" fill-opacity="0.45"/></g><g filter="url(#b3)"><polygon points="1640.1,211.0 1640.8,210.0 1641.0,208.8 1640.8,207.7 1640.2,206.7 1639.2,206.0 1638.1,205.8 1636.9,206.0 1635.9,206.6 1554.4,266.0 1550.6,271.4 1549.2,277.9 1550.4,284.5 1554.0,290.0 1559.4,293.8 1565.9,295.2 1572.4,294.0 1578.0,290.4" fill="#10ff20"/></g><g filter="url(#b2)"><polygon points="1623.4,227.1 1624.1,226.1 1624.3,225.0 1624.1,223.8 1623.5,222.9 1622.5,222.2 1621.4,221.9 1620.2,222.1 1619.2,222.8 1562.5,264.4 1559.7,268.4 1558.7,273.2 1559.6,278.0 1562.2,282.1 1566.2,284.8 1571.0,285.9 1575.8,285.0 1579.9,282.4" fill="#ffff00"/></g><g filter="url(#b2)"><polygon points="1615.4,235.5 1616.2,234.4 1616.5,233.1 1616.2,231.7 1615.5,230.6 1614.4,229.8 1613.0,229.5 1611.7,229.8 1610.5,230.5 1568.8,262.5 1566.7,265.6 1565.9,269.2 1566.5,272.8 1568.5,275.9 1571.6,278.1 1575.2,278.8 1578.9,278.2 1582.0,276.2" fill="#ff8800"/></g><g filter="url(#b1)"><polygon points="1605.0,244.9 1605.7,243.9 1605.9,242.8 1605.7,241.6 1605.1,240.6 1604.1,239.9 1603.0,239.7 1601.8,239.9 1600.9,240.5 1577.2,259.5 1575.9,261.4 1575.4,263.6 1575.8,265.8 1577.1,267.7 1578.9,269.0 1581.1,269.5 1583.4,269.1 1585.3,267.9" fill="#ff2000"/></g></g></g>
<polyline points="1490.25,70.50 1655.00,70.50 1655.00,138.75 1499.25,138.75" fill="none" stroke="#1a1a1a" stroke-width="2.2" />
<polyline points="1499.25,152.50 1655.00,152.50 1655.00,182.50 1575.00,210.00 1499.25,210.00" fill="none" stroke="#1a1a1a" stroke-width="2.2" />
<polygon points="1635.50,375.50 1634.25,278.75 1673.75,199.25 1723.00,199.25 1723.75,375.50" fill="none" stroke="#1a1a1a" stroke-width="2.2" />
<rect x="1499.25" y="32.50" width="355.00" height="343.00" fill="none" stroke="#8c8c8c" stroke-width="1.2"/>
<g stroke="#000"><line x1="1490.2" y1="70.0" x2="1499.2" y2="70.0" stroke-width="2.4"/><line x1="1490.2" y1="145.2" x2="1499.2" y2="145.2" stroke-width="2.4"/><line x1="1490.2" y1="221.5" x2="1499.2" y2="221.5" stroke-width="2.4"/><line x1="1490.2" y1="299.5" x2="1499.2" y2="299.5" stroke-width="2.4"/><line x1="1494.2" y1="122.6" x2="1499.2" y2="122.6" stroke-width="1.5"/><line x1="1494.2" y1="109.3" x2="1499.2" y2="109.3" stroke-width="1.5"/><line x1="1494.2" y1="99.9" x2="1499.2" y2="99.9" stroke-width="1.5"/><line x1="1494.2" y1="92.7" x2="1499.2" y2="92.7" stroke-width="1.5"/><line x1="1494.2" y1="86.7" x2="1499.2" y2="86.7" stroke-width="1.5"/><line x1="1494.2" y1="81.7" x2="1499.2" y2="81.7" stroke-width="1.5"/><line x1="1494.2" y1="77.3" x2="1499.2" y2="77.3" stroke-width="1.5"/><line x1="1494.2" y1="73.4" x2="1499.2" y2="73.4" stroke-width="1.5"/><line x1="1494.2" y1="198.5" x2="1499.2" y2="198.5" stroke-width="1.5"/><line x1="1494.2" y1="185.1" x2="1499.2" y2="185.1" stroke-width="1.5"/><line x1="1494.2" y1="175.6" x2="1499.2" y2="175.6" stroke-width="1.5"/><line x1="1494.2" y1="168.2" x2="1499.2" y2="168.2" stroke-width="1.5"/><line x1="1494.2" y1="162.2" x2="1499.2" y2="162.2" stroke-width="1.5"/><line x1="1494.2" y1="157.1" x2="1499.2" y2="157.1" stroke-width="1.5"/><line x1="1494.2" y1="152.6" x2="1499.2" y2="152.6" stroke-width="1.5"/><line x1="1494.2" y1="148.7" x2="1499.2" y2="148.7" stroke-width="1.5"/><line x1="1494.2" y1="276.0" x2="1499.2" y2="276.0" stroke-width="1.5"/><line x1="1494.2" y1="262.3" x2="1499.2" y2="262.3" stroke-width="1.5"/><line x1="1494.2" y1="252.5" x2="1499.2" y2="252.5" stroke-width="1.5"/><line x1="1494.2" y1="245.0" x2="1499.2" y2="245.0" stroke-width="1.5"/><line x1="1494.2" y1="238.8" x2="1499.2" y2="238.8" stroke-width="1.5"/><line x1="1494.2" y1="233.6" x2="1499.2" y2="233.6" stroke-width="1.5"/><line x1="1494.2" y1="229.1" x2="1499.2" y2="229.1" stroke-width="1.5"/><line x1="1494.2" y1="225.1" x2="1499.2" y2="225.1" stroke-width="1.5"/><line x1="1494.2" y1="47.1" x2="1499.2" y2="47.1" stroke-width="1.5"/><line x1="1494.2" y1="33.7" x2="1499.2" y2="33.7" stroke-width="1.5"/><line x1="1494.2" y1="310.5" x2="1499.2" y2="310.5" stroke-width="1.5"/><line x1="1494.2" y1="320.5" x2="1499.2" y2="320.5" stroke-width="1.5"/><line x1="1494.2" y1="328.5" x2="1499.2" y2="328.5" stroke-width="1.5"/><line x1="1494.2" y1="335.5" x2="1499.2" y2="335.5" stroke-width="1.5"/><line x1="1494.2" y1="341.5" x2="1499.2" y2="341.5" stroke-width="1.5"/><line x1="1490.2" y1="346.5" x2="1499.2" y2="346.5" stroke-width="2.4"/><line x1="1494.2" y1="350.5" x2="1499.2" y2="350.5" stroke-width="1.5"/><line x1="1494.2" y1="353.5" x2="1499.2" y2="353.5" stroke-width="1.5"/><line x1="1490.2" y1="356.5" x2="1499.2" y2="356.5" stroke-width="2.4"/><line x1="1494.2" y1="359.5" x2="1499.2" y2="359.5" stroke-width="1.5"/><line x1="1494.2" y1="362.5" x2="1499.2" y2="362.5" stroke-width="1.5"/><line x1="1494.2" y1="368.5" x2="1499.2" y2="368.5" stroke-width="1.5"/><line x1="1494.2" y1="373.5" x2="1499.2" y2="373.5" stroke-width="1.5"/><line x1="1578.0" y1="375.5" x2="1578.0" y2="384.5" stroke-width="2.4"/><line x1="1657.5" y1="375.5" x2="1657.5" y2="384.5" stroke-width="2.4"/><line x1="1736.8" y1="375.5" x2="1736.8" y2="384.5" stroke-width="2.4"/><line x1="1814.8" y1="375.5" x2="1814.8" y2="384.5" stroke-width="2.4"/><line x1="1601.9" y1="375.5" x2="1601.9" y2="380.5" stroke-width="1.5"/><line x1="1615.9" y1="375.5" x2="1615.9" y2="380.5" stroke-width="1.5"/><line x1="1625.9" y1="375.5" x2="1625.9" y2="380.5" stroke-width="1.5"/><line x1="1633.6" y1="375.5" x2="1633.6" y2="380.5" stroke-width="1.5"/><line x1="1639.9" y1="375.5" x2="1639.9" y2="380.5" stroke-width="1.5"/><line x1="1645.2" y1="375.5" x2="1645.2" y2="380.5" stroke-width="1.5"/><line x1="1649.8" y1="375.5" x2="1649.8" y2="380.5" stroke-width="1.5"/><line x1="1653.9" y1="375.5" x2="1653.9" y2="380.5" stroke-width="1.5"/><line x1="1681.4" y1="375.5" x2="1681.4" y2="380.5" stroke-width="1.5"/><line x1="1695.3" y1="375.5" x2="1695.3" y2="380.5" stroke-width="1.5"/><line x1="1705.2" y1="375.5" x2="1705.2" y2="380.5" stroke-width="1.5"/><line x1="1712.9" y1="375.5" x2="1712.9" y2="380.5" stroke-width="1.5"/><line x1="1719.2" y1="375.5" x2="1719.2" y2="380.5" stroke-width="1.5"/><line x1="1724.5" y1="375.5" x2="1724.5" y2="380.5" stroke-width="1.5"/><line x1="1729.1" y1="375.5" x2="1729.1" y2="380.5" stroke-width="1.5"/><line x1="1733.1" y1="375.5" x2="1733.1" y2="380.5" stroke-width="1.5"/><line x1="1760.2" y1="375.5" x2="1760.2" y2="380.5" stroke-width="1.5"/><line x1="1774.0" y1="375.5" x2="1774.0" y2="380.5" stroke-width="1.5"/><line x1="1783.7" y1="375.5" x2="1783.7" y2="380.5" stroke-width="1.5"/><line x1="1791.3" y1="375.5" x2="1791.3" y2="380.5" stroke-width="1.5"/><line x1="1797.4" y1="375.5" x2="1797.4" y2="380.5" stroke-width="1.5"/><line x1="1802.7" y1="375.5" x2="1802.7" y2="380.5" stroke-width="1.5"/><line x1="1807.2" y1="375.5" x2="1807.2" y2="380.5" stroke-width="1.5"/><line x1="1811.2" y1="375.5" x2="1811.2" y2="380.5" stroke-width="1.5"/><line x1="1838.5" y1="375.5" x2="1838.5" y2="380.5" stroke-width="1.5"/><line x1="1852.4" y1="375.5" x2="1852.4" y2="380.5" stroke-width="1.5"/><line x1="1541.2" y1="375.5" x2="1541.2" y2="380.5" stroke-width="1.5"/><line x1="1552.2" y1="375.5" x2="1552.2" y2="380.5" stroke-width="1.5"/><line x1="1560.2" y1="375.5" x2="1560.2" y2="380.5" stroke-width="1.5"/><line x1="1566.2" y1="375.5" x2="1566.2" y2="380.5" stroke-width="1.5"/><line x1="1571.2" y1="375.5" x2="1571.2" y2="380.5" stroke-width="1.5"/><line x1="1574.8" y1="375.5" x2="1574.8" y2="380.5" stroke-width="1.5"/><line x1="1502.2" y1="375.5" x2="1502.2" y2="380.5" stroke-width="1.5"/><line x1="1511.2" y1="375.5" x2="1511.2" y2="384.5" stroke-width="2.4"/><line x1="1514.2" y1="375.5" x2="1514.2" y2="380.5" stroke-width="1.5"/><line x1="1517.2" y1="375.5" x2="1517.2" y2="384.5" stroke-width="2.4"/><line x1="1520.2" y1="375.5" x2="1520.2" y2="380.5" stroke-width="1.5"/><line x1="1523.2" y1="375.5" x2="1523.2" y2="384.5" stroke-width="2.4"/><line x1="1526.2" y1="375.5" x2="1526.2" y2="384.5" stroke-width="2.4"/><line x1="1530.2" y1="375.5" x2="1530.2" y2="380.5" stroke-width="1.5"/></g>
<text x="1663.8" y="103.0" font-size="20" font-weight="bold" fill="#1a1a1a" textLength="39.6" lengthAdjust="spacingAndGlyphs">47%</text>
<text x="1662.5" y="156.0" font-size="20" font-weight="bold" fill="#1a1a1a" textLength="39.6" lengthAdjust="spacingAndGlyphs">61%</text>
<text x="1701.2" y="193.8" font-size="20" font-weight="bold" fill="#1a1a1a" textLength="51.9" lengthAdjust="spacingAndGlyphs">100%</text>
<clipPath id="cp5"><rect x="1094.50" y="437.50" width="355.00" height="343.50"/></clipPath>
<clipPath id="cp6"><polygon points="1094.5,781.0 1094.5,663.5 1118.2,654.4 1142.0,644.9 1165.8,634.7 1189.5,623.5 1213.2,611.2 1237.0,597.9 1260.8,583.9 1284.5,569.5 1267.5,595.9 1252.6,622.4 1239.1,648.8 1226.7,675.2 1215.3,701.7 1204.7,728.1 1194.5,754.6 1184.5,781.0"/></clipPath>
<g clip-path="url(#cp5)"><g filter="url(#spk)"><ellipse cx="1183.5" cy="509.5" rx="77.0" ry="34.0" fill="#000" fill-opacity="0.16"/><ellipse cx="1186.5" cy="587.5" rx="78.0" ry="34.0" fill="#000" fill-opacity="0.16"/><ellipse cx="1183.5" cy="509.5" rx="55.0" ry="21.0" fill="#000"/><ellipse cx="1186.5" cy="587.5" rx="56.0" ry="21.0" fill="#000"/><polygon points="1094.5,627.5 1134.5,619.5 1194.5,607.5 1280.5,557.5 1302.5,565.5 1288.5,609.5 1244.5,652.5 1224.5,697.5 1219.5,737.5 1216.5,781.0 1094.5,781.0" fill="#000" fill-opacity="0.3"/><polygon points="1094.5,781.0 1094.5,663.5 1118.2,654.4 1142.0,644.9 1165.8,634.7 1189.5,623.5 1213.2,611.2 1237.0,597.9 1260.8,583.9 1284.5,569.5 1267.5,595.9 1252.6,622.4 1239.1,648.8 1226.7,675.2 1215.3,701.7 1204.7,728.1 1194.5,754.6 1184.5,781.0" fill="#000"/><ellipse cx="1285.0" cy="660.0" rx="50.0" ry="72.0" fill="#000" fill-opacity="0.22"/><ellipse cx="1285.0" cy="660.0" rx="34.0" ry="50.0" fill="#000" fill-opacity="0.95"/><polygon points="1234.5,717.5 1322.5,717.5 1322.5,781.0 1234.5,781.0" fill="#000" fill-opacity="0.26"/></g><g filter="url(#b1)"><ellipse cx="1183.5" cy="509.5" rx="41.2" ry="14.0" fill="#0000ff"/><ellipse cx="1186.5" cy="587.5" rx="42.0" ry="14.0" fill="#0000ff"/><polygon points="1094.5,781.0 1094.5,663.5 1118.2,654.4 1142.0,644.9 1165.8,634.7 1189.5,623.5 1213.2,611.2 1237.0,597.9 1260.8,583.9 1284.5,569.5 1267.5,595.9 1252.6,622.4 1239.1,648.8 1226.7,675.2 1215.3,701.7 1204.7,728.1 1194.5,754.6 1184.5,781.0" fill="#0000ff"/><ellipse cx="1285.0" cy="660.0" rx="24.0" ry="38.0" fill="#0000ff"/></g><line x1="1349.5" y1="779.8" x2="1424.5" y2="779.8" stroke="#0000ff" stroke-width="2.2" stroke-dasharray="2 1.5 1 3" stroke-opacity="0.8"/><g clip-path="url(#cp6)"><g filter="url(#b6)"><ellipse cx="1187.5" cy="511.5" rx="32.0" ry="9.0" fill="#0050ff" fill-opacity="0.6"/><ellipse cx="1190.5" cy="589.5" rx="32.0" ry="9.0" fill="#0050ff" fill-opacity="0.6"/><ellipse cx="1165.0" cy="722.0" rx="34.0" ry="45.0" fill="#0070ff" fill-opacity="0.55"/><polygon points="1264.1,599.6 1265.6,597.3 1266.1,594.6 1265.6,591.9 1264.1,589.7 1261.9,588.1 1259.2,587.6 1256.5,588.1 1254.2,589.6 1120.7,678.1 1112.4,690.3 1109.4,704.9 1112.2,719.4 1120.4,731.8 1132.7,740.1 1147.2,743.1 1161.8,740.3 1174.2,732.1" fill="#0080ff" fill-opacity="0.6"/></g><g filter="url(#b4)"><polygon points="1250.2,609.1 1251.1,607.8 1251.4,606.2 1251.1,604.7 1250.2,603.4 1248.9,602.5 1247.4,602.2 1245.9,602.5 1244.6,603.4 1147.4,672.7 1142.4,680.2 1140.6,688.9 1142.3,697.8 1147.2,705.3 1154.7,710.3 1163.5,712.1 1172.3,710.4 1179.8,705.4" fill="#00ffff"/><ellipse cx="1171.0" cy="705.0" rx="16.0" ry="22.0" fill="#00ffff" fill-opacity="0.45"/></g><g filter="url(#b3)"><polygon points="1236.3,621.4 1236.9,620.5 1237.2,619.3 1236.9,618.2 1236.3,617.2 1235.3,616.5 1234.2,616.3 1233.0,616.5 1232.0,617.2 1159.0,669.7 1155.3,675.2 1154.0,681.7 1155.2,688.2 1158.9,693.8 1164.4,697.5 1170.9,698.8 1177.4,697.5 1182.9,693.9" fill="#10ff20"/></g><g filter="url(#b2)"><polygon points="1221.6,636.0 1222.2,635.0 1222.5,633.8 1222.2,632.7 1221.6,631.7 1220.6,631.1 1219.5,630.8 1218.3,631.1 1217.3,631.7 1166.6,668.6 1163.8,672.6 1162.9,677.4 1163.8,682.2 1166.5,686.2 1170.5,689.0 1175.3,689.9 1180.1,689.0 1184.2,686.3" fill="#ffff00"/></g><g filter="url(#b2)"><polygon points="1214.6,643.6 1215.3,642.5 1215.6,641.1 1215.3,639.8 1214.6,638.6 1213.5,637.9 1212.1,637.6 1210.8,637.9 1209.6,638.6 1172.4,667.1 1170.3,670.1 1169.5,673.8 1170.2,677.4 1172.3,680.5 1175.4,682.6 1179.0,683.3 1182.6,682.6 1185.7,680.6" fill="#ff8800"/></g><g filter="url(#b1)"><polygon points="1205.4,652.0 1206.1,651.0 1206.3,649.8 1206.1,648.7 1205.4,647.7 1204.5,647.1 1203.3,646.8 1202.2,647.0 1201.2,647.7 1180.1,664.6 1178.8,666.5 1178.4,668.7 1178.8,670.9 1180.1,672.8 1181.9,674.1 1184.1,674.5 1186.4,674.1 1188.3,672.8" fill="#ff2000"/></g></g></g>
<polyline points="1085.50,475.00 1250.75,475.00 1250.75,543.00 1094.50,543.00" fill="none" stroke="#1a1a1a" stroke-width="2.2" />
<polyline points="1094.50,558.75 1250.75,558.25 1250.75,586.25 1172.50,618.75 1094.50,618.75" fill="none" stroke="#1a1a1a" stroke-width="2.2" />
<polygon points="1232.50,781.00 1231.25,682.50 1269.50,604.50 1320.00,604.50 1322.50,781.00" fill="none" stroke="#1a1a1a" stroke-width="2.2" />
<rect x="1094.50" y="437.50" width="355.00" height="343.50" fill="none" stroke="#8c8c8c" stroke-width="1.2"/>
<g stroke="#000"><line x1="1085.5" y1="475.0" x2="1094.5" y2="475.0" stroke-width="2.4"/><line x1="1085.5" y1="550.2" x2="1094.5" y2="550.2" stroke-width="2.4"/><line x1="1085.5" y1="626.5" x2="1094.5" y2="626.5" stroke-width="2.4"/><line x1="1085.5" y1="704.5" x2="1094.5" y2="704.5" stroke-width="2.4"/><line x1="1089.5" y1="527.6" x2="1094.5" y2="527.6" stroke-width="1.5"/><line x1="1089.5" y1="514.3" x2="1094.5" y2="514.3" stroke-width="1.5"/><line x1="1089.5" y1="504.9" x2="1094.5" y2="504.9" stroke-width="1.5"/><line x1="1089.5" y1="497.7" x2="1094.5" y2="497.7" stroke-width="1.5"/><line x1="1089.5" y1="491.7" x2="1094.5" y2="491.7" stroke-width="1.5"/><line x1="1089.5" y1="486.7" x2="1094.5" y2="486.7" stroke-width="1.5"/><line x1="1089.5" y1="482.3" x2="1094.5" y2="482.3" stroke-width="1.5"/><line x1="1089.5" y1="478.4" x2="1094.5" y2="478.4" stroke-width="1.5"/><line x1="1089.5" y1="603.5" x2="1094.5" y2="603.5" stroke-width="1.5"/><line x1="1089.5" y1="590.1" x2="1094.5" y2="590.1" stroke-width="1.5"/><line x1="1089.5" y1="580.6" x2="1094.5" y2="580.6" stroke-width="1.5"/><line x1="1089.5" y1="573.2" x2="1094.5" y2="573.2" stroke-width="1.5"/><line x1="1089.5" y1="567.2" x2="1094.5" y2="567.2" stroke-width="1.5"/><line x1="1089.5" y1="562.1" x2="1094.5" y2="562.1" stroke-width="1.5"/><line x1="1089.5" y1="557.6" x2="1094.5" y2="557.6" stroke-width="1.5"/><line x1="1089.5" y1="553.7" x2="1094.5" y2="553.7" stroke-width="1.5"/><line x1="1089.5" y1="681.0" x2="1094.5" y2="681.0" stroke-width="1.5"/><line x1="1089.5" y1="667.3" x2="1094.5" y2="667.3" stroke-width="1.5"/><line x1="1089.5" y1="657.5" x2="1094.5" y2="657.5" stroke-width="1.5"/><line x1="1089.5" y1="650.0" x2="1094.5" y2="650.0" stroke-width="1.5"/><line x1="1089.5" y1="643.8" x2="1094.5" y2="643.8" stroke-width="1.5"/><line x1="1089.5" y1="638.6" x2="1094.5" y2="638.6" stroke-width="1.5"/><line x1="1089.5" y1="634.1" x2="1094.5" y2="634.1" stroke-width="1.5"/><line x1="1089.5" y1="630.1" x2="1094.5" y2="630.1" stroke-width="1.5"/><line x1="1089.5" y1="452.1" x2="1094.5" y2="452.1" stroke-width="1.5"/><line x1="1089.5" y1="438.7" x2="1094.5" y2="438.7" stroke-width="1.5"/><line x1="1089.5" y1="715.5" x2="1094.5" y2="715.5" stroke-width="1.5"/><line x1="1089.5" y1="725.5" x2="1094.5" y2="725.5" stroke-width="1.5"/><line x1="1089.5" y1="733.5" x2="1094.5" y2="733.5" stroke-width="1.5"/><line x1="1089.5" y1="740.5" x2="1094.5" y2="740.5" stroke-width="1.5"/><line x1="1089.5" y1="746.5" x2="1094.5" y2="746.5" stroke-width="1.5"/><line x1="1085.5" y1="751.5" x2="1094.5" y2="751.5" stroke-width="2.4"/><line x1="1089.5" y1="755.5" x2="1094.5" y2="755.5" stroke-width="1.5"/><line x1="1089.5" y1="758.5" x2="1094.5" y2="758.5" stroke-width="1.5"/><line x1="1085.5" y1="761.5" x2="1094.5" y2="761.5" stroke-width="2.4"/><line x1="1089.5" y1="764.5" x2="1094.5" y2="764.5" stroke-width="1.5"/><line x1="1089.5" y1="767.5" x2="1094.5" y2="767.5" stroke-width="1.5"/><line x1="1089.5" y1="773.5" x2="1094.5" y2="773.5" stroke-width="1.5"/><line x1="1089.5" y1="778.5" x2="1094.5" y2="778.5" stroke-width="1.5"/><line x1="1173.2" y1="781.0" x2="1173.2" y2="790.0" stroke-width="2.4"/><line x1="1252.8" y1="781.0" x2="1252.8" y2="790.0" stroke-width="2.4"/><line x1="1332.0" y1="781.0" x2="1332.0" y2="790.0" stroke-width="2.4"/><line x1="1410.0" y1="781.0" x2="1410.0" y2="790.0" stroke-width="2.4"/><line x1="1197.2" y1="781.0" x2="1197.2" y2="786.0" stroke-width="1.5"/><line x1="1211.2" y1="781.0" x2="1211.2" y2="786.0" stroke-width="1.5"/><line x1="1221.1" y1="781.0" x2="1221.1" y2="786.0" stroke-width="1.5"/><line x1="1228.8" y1="781.0" x2="1228.8" y2="786.0" stroke-width="1.5"/><line x1="1235.1" y1="781.0" x2="1235.1" y2="786.0" stroke-width="1.5"/><line x1="1240.4" y1="781.0" x2="1240.4" y2="786.0" stroke-width="1.5"/><line x1="1245.0" y1="781.0" x2="1245.0" y2="786.0" stroke-width="1.5"/><line x1="1249.1" y1="781.0" x2="1249.1" y2="786.0" stroke-width="1.5"/><line x1="1276.6" y1="781.0" x2="1276.6" y2="786.0" stroke-width="1.5"/><line x1="1290.6" y1="781.0" x2="1290.6" y2="786.0" stroke-width="1.5"/><line x1="1300.5" y1="781.0" x2="1300.5" y2="786.0" stroke-width="1.5"/><line x1="1308.1" y1="781.0" x2="1308.1" y2="786.0" stroke-width="1.5"/><line x1="1314.4" y1="781.0" x2="1314.4" y2="786.0" stroke-width="1.5"/><line x1="1319.7" y1="781.0" x2="1319.7" y2="786.0" stroke-width="1.5"/><line x1="1324.3" y1="781.0" x2="1324.3" y2="786.0" stroke-width="1.5"/><line x1="1328.4" y1="781.0" x2="1328.4" y2="786.0" stroke-width="1.5"/><line x1="1355.5" y1="781.0" x2="1355.5" y2="786.0" stroke-width="1.5"/><line x1="1369.2" y1="781.0" x2="1369.2" y2="786.0" stroke-width="1.5"/><line x1="1379.0" y1="781.0" x2="1379.0" y2="786.0" stroke-width="1.5"/><line x1="1386.5" y1="781.0" x2="1386.5" y2="786.0" stroke-width="1.5"/><line x1="1392.7" y1="781.0" x2="1392.7" y2="786.0" stroke-width="1.5"/><line x1="1397.9" y1="781.0" x2="1397.9" y2="786.0" stroke-width="1.5"/><line x1="1402.4" y1="781.0" x2="1402.4" y2="786.0" stroke-width="1.5"/><line x1="1406.4" y1="781.0" x2="1406.4" y2="786.0" stroke-width="1.5"/><line x1="1433.8" y1="781.0" x2="1433.8" y2="786.0" stroke-width="1.5"/><line x1="1447.7" y1="781.0" x2="1447.7" y2="786.0" stroke-width="1.5"/><line x1="1136.5" y1="781.0" x2="1136.5" y2="786.0" stroke-width="1.5"/><line x1="1147.5" y1="781.0" x2="1147.5" y2="786.0" stroke-width="1.5"/><line x1="1155.5" y1="781.0" x2="1155.5" y2="786.0" stroke-width="1.5"/><line x1="1161.5" y1="781.0" x2="1161.5" y2="786.0" stroke-width="1.5"/><line x1="1166.5" y1="781.0" x2="1166.5" y2="786.0" stroke-width="1.5"/><line x1="1170.0" y1="781.0" x2="1170.0" y2="786.0" stroke-width="1.5"/><line x1="1097.5" y1="781.0" x2="1097.5" y2="786.0" stroke-width="1.5"/><line x1="1106.5" y1="781.0" x2="1106.5" y2="790.0" stroke-width="2.4"/><line x1="1109.5" y1="781.0" x2="1109.5" y2="786.0" stroke-width="1.5"/><line x1="1112.5" y1="781.0" x2="1112.5" y2="790.0" stroke-width="2.4"/><line x1="1115.5" y1="781.0" x2="1115.5" y2="786.0" stroke-width="1.5"/><line x1="1118.5" y1="781.0" x2="1118.5" y2="790.0" stroke-width="2.4"/><line x1="1121.5" y1="781.0" x2="1121.5" y2="790.0" stroke-width="2.4"/><line x1="1125.5" y1="781.0" x2="1125.5" y2="786.0" stroke-width="1.5"/></g>
<text x="1253.8" y="506.2" font-size="20" font-weight="bold" fill="#1a1a1a" textLength="51.9" lengthAdjust="spacingAndGlyphs">100%</text>
<text x="1253.8" y="563.8" font-size="20" font-weight="bold" fill="#1a1a1a" textLength="51.9" lengthAdjust="spacingAndGlyphs">100%</text>
<text x="1305.5" y="593.2" font-size="20" font-weight="bold" fill="#1a1a1a" textLength="51.9" lengthAdjust="spacingAndGlyphs">100%</text>
<clipPath id="cp7"><rect x="1502.90" y="437.40" width="356.60" height="344.60"/></clipPath>
<clipPath id="cp8"><polygon points="1502.9,782.0 1502.9,663.4 1527.9,652.0 1552.9,640.1 1577.9,627.5 1602.9,613.9 1627.9,599.2 1652.9,583.6 1677.9,567.2 1702.9,550.4 1684.7,579.3 1668.5,608.3 1653.7,637.2 1640.1,666.2 1627.5,695.1 1615.6,724.1 1604.1,753.0 1592.9,782.0"/></clipPath>
<g clip-path="url(#cp7)"><g filter="url(#spk)"><ellipse cx="1587.6" cy="509.4" rx="77.0" ry="34.0" fill="#000" fill-opacity="0.16"/><ellipse cx="1587.9" cy="587.4" rx="78.0" ry="34.0" fill="#000" fill-opacity="0.16"/><ellipse cx="1587.6" cy="509.4" rx="55.0" ry="21.0" fill="#000" fill-opacity="0.85"/><ellipse cx="1587.9" cy="587.4" rx="56.0" ry="21.0" fill="#000"/><polygon points="1502.9,627.4 1542.9,619.4 1602.9,607.4 1698.9,538.4 1720.9,546.4 1706.9,590.4 1652.9,652.4 1632.9,697.4 1627.9,737.4 1624.9,782.0 1502.9,782.0" fill="#000" fill-opacity="0.3"/><polygon points="1502.9,782.0 1502.9,663.4 1527.9,652.0 1552.9,640.1 1577.9,627.5 1602.9,613.9 1627.9,599.2 1652.9,583.6 1677.9,567.2 1702.9,550.4 1684.7,579.3 1668.5,608.3 1653.7,637.2 1640.1,666.2 1627.5,695.1 1615.6,724.1 1604.1,753.0 1592.9,782.0" fill="#000"/><ellipse cx="1694.9" cy="662.4" rx="50.0" ry="72.0" fill="#000" fill-opacity="0.22"/><ellipse cx="1694.9" cy="662.4" rx="34.0" ry="50.0" fill="#000" fill-opacity="0.95"/><polygon points="1642.9,717.4 1730.9,717.4 1730.9,782.0 1642.9,782.0" fill="#000" fill-opacity="0.26"/></g><g filter="url(#b1)"><ellipse cx="1587.6" cy="509.4" rx="41.2" ry="14.0" fill="#0000ff" fill-opacity="0"/><ellipse cx="1587.9" cy="587.4" rx="42.0" ry="14.0" fill="#0000ff"/><polygon points="1502.9,782.0 1502.9,663.4 1527.9,652.0 1552.9,640.1 1577.9,627.5 1602.9,613.9 1627.9,599.2 1652.9,583.6 1677.9,567.2 1702.9,550.4 1684.7,579.3 1668.5,608.3 1653.7,637.2 1640.1,666.2 1627.5,695.1 1615.6,724.1 1604.1,753.0 1592.9,782.0" fill="#0000ff"/><ellipse cx="1694.9" cy="662.4" rx="24.0" ry="38.0" fill="#0000ff"/></g><line x1="1757.9" y1="780.8" x2="1832.9" y2="780.8" stroke="#0000ff" stroke-width="2.2" stroke-dasharray="2 1.5 1 3" stroke-opacity="0.8"/><g clip-path="url(#cp8)"><g filter="url(#b6)"><ellipse cx="1591.6" cy="511.4" rx="32.0" ry="9.0" fill="#0050ff" fill-opacity="0.6"/><ellipse cx="1591.9" cy="589.4" rx="32.0" ry="9.0" fill="#0050ff" fill-opacity="0.6"/><ellipse cx="1571.9" cy="720.7" rx="34.0" ry="45.0" fill="#0070ff" fill-opacity="0.55"/><polygon points="1679.4,585.2 1680.9,582.9 1681.4,580.2 1680.8,577.6 1679.2,575.3 1676.9,573.9 1674.2,573.4 1671.5,574.0 1669.3,575.6 1521.1,686.4 1513.1,699.0 1510.6,713.6 1513.9,728.1 1522.4,740.2 1534.9,748.1 1549.6,750.6 1564.0,747.4 1576.1,738.8" fill="#0080ff" fill-opacity="0.6"/></g><g filter="url(#b4)"><polygon points="1664.0,597.1 1664.9,595.8 1665.1,594.2 1664.8,592.7 1663.9,591.4 1662.6,590.6 1661.0,590.3 1659.5,590.7 1658.2,591.6 1550.1,677.6 1545.3,685.2 1543.8,694.1 1545.8,702.8 1551.0,710.2 1558.5,715.0 1567.4,716.5 1576.1,714.5 1583.5,709.3" fill="#00ffff"/><ellipse cx="1577.9" cy="703.7" rx="16.0" ry="22.0" fill="#00ffff" fill-opacity="0.45"/></g><g filter="url(#b3)"><polygon points="1648.4,612.1 1649.0,611.1 1649.2,609.9 1649.0,608.8 1648.3,607.8 1647.3,607.2 1646.2,607.0 1645.0,607.2 1644.1,607.9 1562.8,673.1 1559.2,678.7 1558.1,685.2 1559.5,691.7 1563.4,697.1 1569.0,700.7 1575.5,701.8 1582.0,700.3 1587.4,696.5" fill="#10ff20"/></g><g filter="url(#b2)"><polygon points="1631.9,629.5 1632.5,628.5 1632.7,627.3 1632.4,626.2 1631.8,625.2 1630.8,624.6 1629.6,624.4 1628.5,624.6 1627.5,625.3 1571.0,671.0 1568.4,675.1 1567.5,679.9 1568.6,684.6 1571.4,688.6 1575.6,691.2 1580.4,692.1 1585.1,691.0 1589.1,688.2" fill="#ffff00"/></g><g filter="url(#b2)"><polygon points="1623.9,638.5 1624.7,637.3 1624.9,636.0 1624.6,634.7 1623.8,633.5 1622.7,632.8 1621.3,632.6 1620.0,632.9 1618.9,633.7 1577.3,668.7 1575.3,671.8 1574.7,675.5 1575.5,679.1 1577.6,682.1 1580.8,684.1 1584.4,684.7 1588.0,683.9 1591.1,681.8" fill="#ff8800"/></g><g filter="url(#b1)"><polygon points="1613.7,648.6 1614.3,647.6 1614.5,646.4 1614.2,645.3 1613.5,644.3 1612.6,643.7 1611.4,643.5 1610.3,643.8 1609.3,644.5 1585.8,665.1 1584.6,667.1 1584.2,669.3 1584.7,671.5 1586.0,673.3 1587.9,674.6 1590.1,674.9 1592.3,674.4 1594.2,673.1" fill="#ff2000"/></g></g></g>
<polyline points="1493.90,474.90 1659.90,474.90 1659.90,543.40 1502.90,543.40" fill="none" stroke="#1a1a1a" stroke-width="2.2" />
<polyline points="1502.90,558.60 1659.90,558.60 1659.90,584.20 1578.70,617.90 1502.90,617.90" fill="none" stroke="#1a1a1a" stroke-width="2.2" />
<polygon points="1639.90,782.00 1638.70,683.00 1678.30,604.30 1727.90,604.30 1731.90,782.00" fill="none" stroke="#1a1a1a" stroke-width="2.2" />
<rect x="1502.90" y="437.40" width="356.60" height="344.60" fill="none" stroke="#8c8c8c" stroke-width="1.2"/>
<g stroke="#000"><line x1="1493.9" y1="474.9" x2="1502.9" y2="474.9" stroke-width="2.4"/><line x1="1493.9" y1="550.1" x2="1502.9" y2="550.1" stroke-width="2.4"/><line x1="1493.9" y1="626.4" x2="1502.9" y2="626.4" stroke-width="2.4"/><line x1="1493.9" y1="704.4" x2="1502.9" y2="704.4" stroke-width="2.4"/><line x1="1497.9" y1="527.5" x2="1502.9" y2="527.5" stroke-width="1.5"/><line x1="1497.9" y1="514.2" x2="1502.9" y2="514.2" stroke-width="1.5"/><line x1="1497.9" y1="504.8" x2="1502.9" y2="504.8" stroke-width="1.5"/><line x1="1497.9" y1="497.6" x2="1502.9" y2="497.6" stroke-width="1.5"/><line x1="1497.9" y1="491.6" x2="1502.9" y2="491.6" stroke-width="1.5"/><line x1="1497.9" y1="486.6" x2="1502.9" y2="486.6" stroke-width="1.5"/><line x1="1497.9" y1="482.2" x2="1502.9" y2="482.2" stroke-width="1.5"/><line x1="1497.9" y1="478.3" x2="1502.9" y2="478.3" stroke-width="1.5"/><line x1="1497.9" y1="603.4" x2="1502.9" y2="603.4" stroke-width="1.5"/><line x1="1497.9" y1="590.0" x2="1502.9" y2="590.0" stroke-width="1.5"/><line x1="1497.9" y1="580.5" x2="1502.9" y2="580.5" stroke-width="1.5"/><line x1="1497.9" y1="573.1" x2="1502.9" y2="573.1" stroke-width="1.5"/><line x1="1497.9" y1="567.1" x2="1502.9" y2="567.1" stroke-width="1.5"/><line x1="1497.9" y1="562.0" x2="1502.9" y2="562.0" stroke-width="1.5"/><line x1="1497.9" y1="557.5" x2="1502.9" y2="557.5" stroke-width="1.5"/><line x1="1497.9" y1="553.6" x2="1502.9" y2="553.6" stroke-width="1.5"/><line x1="1497.9" y1="680.9" x2="1502.9" y2="680.9" stroke-width="1.5"/><line x1="1497.9" y1="667.2" x2="1502.9" y2="667.2" stroke-width="1.5"/><line x1="1497.9" y1="657.4" x2="1502.9" y2="657.4" stroke-width="1.5"/><line x1="1497.9" y1="649.9" x2="1502.9" y2="649.9" stroke-width="1.5"/><line x1="1497.9" y1="643.7" x2="1502.9" y2="643.7" stroke-width="1.5"/><line x1="1497.9" y1="638.5" x2="1502.9" y2="638.5" stroke-width="1.5"/><line x1="1497.9" y1="634.0" x2="1502.9" y2="634.0" stroke-width="1.5"/><line x1="1497.9" y1="630.0" x2="1502.9" y2="630.0" stroke-width="1.5"/><line x1="1497.9" y1="452.0" x2="1502.9" y2="452.0" stroke-width="1.5"/><line x1="1497.9" y1="438.6" x2="1502.9" y2="438.6" stroke-width="1.5"/><line x1="1497.9" y1="715.4" x2="1502.9" y2="715.4" stroke-width="1.5"/><line x1="1497.9" y1="725.4" x2="1502.9" y2="725.4" stroke-width="1.5"/><line x1="1497.9" y1="733.4" x2="1502.9" y2="733.4" stroke-width="1.5"/><line x1="1497.9" y1="740.4" x2="1502.9" y2="740.4" stroke-width="1.5"/><line x1="1497.9" y1="746.4" x2="1502.9" y2="746.4" stroke-width="1.5"/><line x1="1493.9" y1="751.4" x2="1502.9" y2="751.4" stroke-width="2.4"/><line x1="1497.9" y1="755.4" x2="1502.9" y2="755.4" stroke-width="1.5"/><line x1="1497.9" y1="758.4" x2="1502.9" y2="758.4" stroke-width="1.5"/><line x1="1493.9" y1="761.4" x2="1502.9" y2="761.4" stroke-width="2.4"/><line x1="1497.9" y1="764.4" x2="1502.9" y2="764.4" stroke-width="1.5"/><line x1="1497.9" y1="767.4" x2="1502.9" y2="767.4" stroke-width="1.5"/><line x1="1497.9" y1="773.4" x2="1502.9" y2="773.4" stroke-width="1.5"/><line x1="1497.9" y1="778.4" x2="1502.9" y2="778.4" stroke-width="1.5"/><line x1="1581.7" y1="782.0" x2="1581.7" y2="791.0" stroke-width="2.4"/><line x1="1661.2" y1="782.0" x2="1661.2" y2="791.0" stroke-width="2.4"/><line x1="1740.4" y1="782.0" x2="1740.4" y2="791.0" stroke-width="2.4"/><line x1="1818.4" y1="782.0" x2="1818.4" y2="791.0" stroke-width="2.4"/><line x1="1605.6" y1="782.0" x2="1605.6" y2="787.0" stroke-width="1.5"/><line x1="1619.6" y1="782.0" x2="1619.6" y2="787.0" stroke-width="1.5"/><line x1="1629.5" y1="782.0" x2="1629.5" y2="787.0" stroke-width="1.5"/><line x1="1637.2" y1="782.0" x2="1637.2" y2="787.0" stroke-width="1.5"/><line x1="1643.5" y1="782.0" x2="1643.5" y2="787.0" stroke-width="1.5"/><line x1="1648.8" y1="782.0" x2="1648.8" y2="787.0" stroke-width="1.5"/><line x1="1653.4" y1="782.0" x2="1653.4" y2="787.0" stroke-width="1.5"/><line x1="1657.5" y1="782.0" x2="1657.5" y2="787.0" stroke-width="1.5"/><line x1="1685.0" y1="782.0" x2="1685.0" y2="787.0" stroke-width="1.5"/><line x1="1699.0" y1="782.0" x2="1699.0" y2="787.0" stroke-width="1.5"/><line x1="1708.9" y1="782.0" x2="1708.9" y2="787.0" stroke-width="1.5"/><line x1="1716.5" y1="782.0" x2="1716.5" y2="787.0" stroke-width="1.5"/><line x1="1722.8" y1="782.0" x2="1722.8" y2="787.0" stroke-width="1.5"/><line x1="1728.1" y1="782.0" x2="1728.1" y2="787.0" stroke-width="1.5"/><line x1="1732.7" y1="782.0" x2="1732.7" y2="787.0" stroke-width="1.5"/><line x1="1736.8" y1="782.0" x2="1736.8" y2="787.0" stroke-width="1.5"/><line x1="1763.9" y1="782.0" x2="1763.9" y2="787.0" stroke-width="1.5"/><line x1="1777.6" y1="782.0" x2="1777.6" y2="787.0" stroke-width="1.5"/><line x1="1787.4" y1="782.0" x2="1787.4" y2="787.0" stroke-width="1.5"/><line x1="1794.9" y1="782.0" x2="1794.9" y2="787.0" stroke-width="1.5"/><line x1="1801.1" y1="782.0" x2="1801.1" y2="787.0" stroke-width="1.5"/><line x1="1806.3" y1="782.0" x2="1806.3" y2="787.0" stroke-width="1.5"/><line x1="1810.8" y1="782.0" x2="1810.8" y2="787.0" stroke-width="1.5"/><line x1="1814.8" y1="782.0" x2="1814.8" y2="787.0" stroke-width="1.5"/><line x1="1842.2" y1="782.0" x2="1842.2" y2="787.0" stroke-width="1.5"/><line x1="1856.1" y1="782.0" x2="1856.1" y2="787.0" stroke-width="1.5"/><line x1="1544.9" y1="782.0" x2="1544.9" y2="787.0" stroke-width="1.5"/><line x1="1555.9" y1="782.0" x2="1555.9" y2="787.0" stroke-width="1.5"/><line x1="1563.9" y1="782.0" x2="1563.9" y2="787.0" stroke-width="1.5"/><line x1="1569.9" y1="782.0" x2="1569.9" y2="787.0" stroke-width="1.5"/><line x1="1574.9" y1="782.0" x2="1574.9" y2="787.0" stroke-width="1.5"/><line x1="1578.4" y1="782.0" x2="1578.4" y2="787.0" stroke-width="1.5"/><line x1="1505.9" y1="782.0" x2="1505.9" y2="787.0" stroke-width="1.5"/><line x1="1514.9" y1="782.0" x2="1514.9" y2="791.0" stroke-width="2.4"/><line x1="1517.9" y1="782.0" x2="1517.9" y2="787.0" stroke-width="1.5"/><line x1="1520.9" y1="782.0" x2="1520.9" y2="791.0" stroke-width="2.4"/><line x1="1523.9" y1="782.0" x2="1523.9" y2="787.0" stroke-width="1.5"/><line x1="1526.9" y1="782.0" x2="1526.9" y2="791.0" stroke-width="2.4"/><line x1="1529.9" y1="782.0" x2="1529.9" y2="791.0" stroke-width="2.4"/><line x1="1533.9" y1="782.0" x2="1533.9" y2="787.0" stroke-width="1.5"/></g>
<text x="1671.9" y="511.9" font-size="20" font-weight="bold" fill="#1a1a1a" textLength="39.6" lengthAdjust="spacingAndGlyphs">52%</text>
<text x="1667.3" y="561.7" font-size="20" font-weight="bold" fill="#1a1a1a" textLength="39.6" lengthAdjust="spacingAndGlyphs">64%</text>
<text x="1718.9" y="597.4" font-size="20" font-weight="bold" fill="#1a1a1a" textLength="51.9" lengthAdjust="spacingAndGlyphs">100%</text>
<clipPath id="cp9"><rect x="1098.40" y="820.30" width="352.60" height="341.40"/></clipPath>
<clipPath id="cp10"><polygon points="1098.4,1161.7 1098.4,1046.3 1123.2,1035.5 1147.9,1024.2 1172.7,1012.3 1197.4,999.3 1222.2,985.3 1246.9,970.2 1271.7,954.5 1296.4,938.3 1278.4,966.2 1262.5,994.1 1248.0,1022.1 1234.6,1050.0 1222.2,1077.9 1210.6,1105.8 1199.4,1133.8 1188.4,1161.7"/></clipPath>
<g clip-path="url(#cp9)"><g filter="url(#spk)"><ellipse cx="1198.8" cy="893.0" rx="77.0" ry="34.0" fill="#000" fill-opacity="0.16"/><ellipse cx="1196.3" cy="971.3" rx="78.0" ry="34.0" fill="#000" fill-opacity="0.16"/><ellipse cx="1198.8" cy="893.0" rx="55.0" ry="21.0" fill="#000"/><ellipse cx="1196.3" cy="971.3" rx="56.0" ry="21.0" fill="#000"/><polygon points="1098.4,1010.3 1138.4,1002.3 1198.4,990.3 1292.4,926.3 1314.4,934.3 1300.4,978.3 1248.4,1035.3 1228.4,1080.3 1223.4,1120.3 1220.4,1161.7 1098.4,1161.7" fill="#000" fill-opacity="0.3"/><polygon points="1098.4,1161.7 1098.4,1046.3 1123.2,1035.5 1147.9,1024.2 1172.7,1012.3 1197.4,999.3 1222.2,985.3 1246.9,970.2 1271.7,954.5 1296.4,938.3 1278.4,966.2 1262.5,994.1 1248.0,1022.1 1234.6,1050.0 1222.2,1077.9 1210.6,1105.8 1199.4,1133.8 1188.4,1161.7" fill="#000"/><ellipse cx="1288.4" cy="1045.3" rx="50.0" ry="72.0" fill="#000" fill-opacity="0.22"/><ellipse cx="1288.4" cy="1045.3" rx="34.0" ry="50.0" fill="#000" fill-opacity="0.95"/><polygon points="1238.4,1100.3 1326.4,1100.3 1326.4,1161.7 1238.4,1161.7" fill="#000" fill-opacity="0.26"/></g><g filter="url(#b1)"><ellipse cx="1198.8" cy="893.0" rx="41.2" ry="14.0" fill="#0000ff"/><ellipse cx="1196.3" cy="971.3" rx="42.0" ry="14.0" fill="#0000ff"/><polygon points="1098.4,1161.7 1098.4,1046.3 1123.2,1035.5 1147.9,1024.2 1172.7,1012.3 1197.4,999.3 1222.2,985.3 1246.9,970.2 1271.7,954.5 1296.4,938.3 1278.4,966.2 1262.5,994.1 1248.0,1022.1 1234.6,1050.0 1222.2,1077.9 1210.6,1105.8 1199.4,1133.8 1188.4,1161.7" fill="#0000ff"/><ellipse cx="1288.4" cy="1045.3" rx="24.0" ry="38.0" fill="#0000ff"/></g><line x1="1353.4" y1="1160.4999999999998" x2="1428.4" y2="1160.4999999999998" stroke="#0000ff" stroke-width="2.2" stroke-dasharray="2 1.5 1 3" stroke-opacity="0.8"/><g clip-path="url(#cp10)"><g filter="url(#b6)"><ellipse cx="1202.8" cy="895.0" rx="32.0" ry="9.0" fill="#0050ff" fill-opacity="0.6"/><ellipse cx="1200.3" cy="973.3" rx="32.0" ry="9.0" fill="#0050ff" fill-opacity="0.6"/><ellipse cx="1172.0" cy="1094.7" rx="34.0" ry="45.0" fill="#0070ff" fill-opacity="0.55"/><polygon points="1274.6,969.5 1276.1,967.2 1276.7,964.5 1276.2,961.8 1274.7,959.6 1272.4,958.0 1269.8,957.5 1267.1,958.0 1264.8,959.5 1125.4,1052.6 1117.0,1064.8 1114.0,1079.3 1116.7,1093.9 1124.8,1106.3 1137.1,1114.7 1151.6,1117.7 1166.2,1115.0 1178.6,1106.9" fill="#0080ff" fill-opacity="0.6"/></g><g filter="url(#b4)"><polygon points="1260.1,979.4 1261.0,978.2 1261.3,976.6 1261.0,975.1 1260.2,973.8 1258.9,972.9 1257.3,972.6 1255.8,972.9 1254.5,973.7 1152.9,1046.6 1147.9,1054.0 1146.0,1062.8 1147.7,1071.6 1152.6,1079.1 1160.0,1084.2 1168.8,1086.0 1177.6,1084.4 1185.1,1079.5" fill="#00ffff"/><ellipse cx="1178.0" cy="1077.7" rx="16.0" ry="22.0" fill="#00ffff" fill-opacity="0.45"/></g><g filter="url(#b3)"><polygon points="1245.5,992.4 1246.1,991.4 1246.4,990.3 1246.1,989.1 1245.5,988.1 1244.5,987.5 1243.4,987.2 1242.2,987.5 1241.3,988.1 1164.9,1043.3 1161.1,1048.8 1159.8,1055.3 1161.0,1061.8 1164.6,1067.3 1170.1,1071.1 1176.6,1072.4 1183.1,1071.2 1188.7,1067.6" fill="#10ff20"/></g><g filter="url(#b2)"><polygon points="1230.0,1007.5 1230.6,1006.6 1230.9,1005.4 1230.7,1004.3 1230.0,1003.3 1229.1,1002.6 1227.9,1002.4 1226.8,1002.6 1225.8,1003.3 1172.7,1042.0 1169.9,1046.0 1168.9,1050.8 1169.8,1055.6 1172.5,1059.6 1176.5,1062.4 1181.3,1063.4 1186.1,1062.5 1190.2,1059.8" fill="#ffff00"/></g><g filter="url(#b2)"><polygon points="1222.6,1015.5 1223.4,1014.4 1223.6,1013.0 1223.4,1011.7 1222.6,1010.5 1221.5,1009.8 1220.2,1009.5 1218.8,1009.7 1217.7,1010.5 1178.6,1040.3 1176.6,1043.4 1175.8,1047.0 1176.5,1050.6 1178.5,1053.8 1181.6,1055.8 1185.2,1056.6 1188.8,1055.9 1191.9,1053.9" fill="#ff8800"/></g><g filter="url(#b1)"><polygon points="1212.9,1024.2 1213.6,1023.3 1213.8,1022.1 1213.6,1021.0 1213.0,1020.0 1212.0,1019.3 1210.9,1019.1 1209.7,1019.3 1208.7,1019.9 1186.7,1037.7 1185.4,1039.5 1184.9,1041.7 1185.3,1044.0 1186.6,1045.9 1188.4,1047.1 1190.6,1047.6 1192.9,1047.2 1194.8,1045.9" fill="#ff2000"/></g></g></g>
<polyline points="1089.40,856.80 1263.70,856.80 1263.70,923.20 1098.40,923.20" fill="none" stroke="#1a1a1a" stroke-width="2.2" />
<polyline points="1098.40,934.20 1266.10,934.20 1266.10,958.70 1180.40,1000.80 1098.40,1000.80" fill="none" stroke="#1a1a1a" stroke-width="2.2" />
<polygon points="1233.00,1161.70 1232.60,1067.00 1272.30,986.10 1320.80,986.10 1321.20,1161.70" fill="none" stroke="#1a1a1a" stroke-width="2.2" />
<rect x="1098.40" y="820.30" width="352.60" height="341.40" fill="none" stroke="#8c8c8c" stroke-width="1.2"/>
<g stroke="#000"><line x1="1089.4" y1="857.8" x2="1098.4" y2="857.8" stroke-width="2.4"/><line x1="1089.4" y1="933.0" x2="1098.4" y2="933.0" stroke-width="2.4"/><line x1="1089.4" y1="1009.3" x2="1098.4" y2="1009.3" stroke-width="2.4"/><line x1="1089.4" y1="1087.3" x2="1098.4" y2="1087.3" stroke-width="2.4"/><line x1="1093.4" y1="910.4" x2="1098.4" y2="910.4" stroke-width="1.5"/><line x1="1093.4" y1="897.1" x2="1098.4" y2="897.1" stroke-width="1.5"/><line x1="1093.4" y1="887.7" x2="1098.4" y2="887.7" stroke-width="1.5"/><line x1="1093.4" y1="880.5" x2="1098.4" y2="880.5" stroke-width="1.5"/><line x1="1093.4" y1="874.5" x2="1098.4" y2="874.5" stroke-width="1.5"/><line x1="1093.4" y1="869.5" x2="1098.4" y2="869.5" stroke-width="1.5"/><line x1="1093.4" y1="865.1" x2="1098.4" y2="865.1" stroke-width="1.5"/><line x1="1093.4" y1="861.2" x2="1098.4" y2="861.2" stroke-width="1.5"/><line x1="1093.4" y1="986.3" x2="1098.4" y2="986.3" stroke-width="1.5"/><line x1="1093.4" y1="972.9" x2="1098.4" y2="972.9" stroke-width="1.5"/><line x1="1093.4" y1="963.4" x2="1098.4" y2="963.4" stroke-width="1.5"/><line x1="1093.4" y1="956.0" x2="1098.4" y2="956.0" stroke-width="1.5"/><line x1="1093.4" y1="950.0" x2="1098.4" y2="950.0" stroke-width="1.5"/><line x1="1093.4" y1="944.9" x2="1098.4" y2="944.9" stroke-width="1.5"/><line x1="1093.4" y1="940.4" x2="1098.4" y2="940.4" stroke-width="1.5"/><line x1="1093.4" y1="936.5" x2="1098.4" y2="936.5" stroke-width="1.5"/><line x1="1093.4" y1="1063.8" x2="1098.4" y2="1063.8" stroke-width="1.5"/><line x1="1093.4" y1="1050.1" x2="1098.4" y2="1050.1" stroke-width="1.5"/><line x1="1093.4" y1="1040.3" x2="1098.4" y2="1040.3" stroke-width="1.5"/><line x1="1093.4" y1="1032.8" x2="1098.4" y2="1032.8" stroke-width="1.5"/><line x1="1093.4" y1="1026.6" x2="1098.4" y2="1026.6" stroke-width="1.5"/><line x1="1093.4" y1="1021.4" x2="1098.4" y2="1021.4" stroke-width="1.5"/><line x1="1093.4" y1="1016.9" x2="1098.4" y2="1016.9" stroke-width="1.5"/><line x1="1093.4" y1="1012.9" x2="1098.4" y2="1012.9" stroke-width="1.5"/><line x1="1093.4" y1="834.9" x2="1098.4" y2="834.9" stroke-width="1.5"/><line x1="1093.4" y1="821.5" x2="1098.4" y2="821.5" stroke-width="1.5"/><line x1="1093.4" y1="1098.3" x2="1098.4" y2="1098.3" stroke-width="1.5"/><line x1="1093.4" y1="1108.3" x2="1098.4" y2="1108.3" stroke-width="1.5"/><line x1="1093.4" y1="1116.3" x2="1098.4" y2="1116.3" stroke-width="1.5"/><line x1="1093.4" y1="1123.3" x2="1098.4" y2="1123.3" stroke-width="1.5"/><line x1="1093.4" y1="1129.3" x2="1098.4" y2="1129.3" stroke-width="1.5"/><line x1="1089.4" y1="1134.3" x2="1098.4" y2="1134.3" stroke-width="2.4"/><line x1="1093.4" y1="1138.3" x2="1098.4" y2="1138.3" stroke-width="1.5"/><line x1="1093.4" y1="1141.3" x2="1098.4" y2="1141.3" stroke-width="1.5"/><line x1="1089.4" y1="1144.3" x2="1098.4" y2="1144.3" stroke-width="2.4"/><line x1="1093.4" y1="1147.3" x2="1098.4" y2="1147.3" stroke-width="1.5"/><line x1="1093.4" y1="1150.3" x2="1098.4" y2="1150.3" stroke-width="1.5"/><line x1="1093.4" y1="1156.3" x2="1098.4" y2="1156.3" stroke-width="1.5"/><line x1="1093.4" y1="1161.3" x2="1098.4" y2="1161.3" stroke-width="1.5"/><line x1="1177.2" y1="1161.7" x2="1177.2" y2="1170.7" stroke-width="2.4"/><line x1="1256.7" y1="1161.7" x2="1256.7" y2="1170.7" stroke-width="2.4"/><line x1="1335.9" y1="1161.7" x2="1335.9" y2="1170.7" stroke-width="2.4"/><line x1="1413.9" y1="1161.7" x2="1413.9" y2="1170.7" stroke-width="2.4"/><line x1="1201.1" y1="1161.7" x2="1201.1" y2="1166.7" stroke-width="1.5"/><line x1="1215.1" y1="1161.7" x2="1215.1" y2="1166.7" stroke-width="1.5"/><line x1="1225.0" y1="1161.7" x2="1225.0" y2="1166.7" stroke-width="1.5"/><line x1="1232.7" y1="1161.7" x2="1232.7" y2="1166.7" stroke-width="1.5"/><line x1="1239.0" y1="1161.7" x2="1239.0" y2="1166.7" stroke-width="1.5"/><line x1="1244.3" y1="1161.7" x2="1244.3" y2="1166.7" stroke-width="1.5"/><line x1="1248.9" y1="1161.7" x2="1248.9" y2="1166.7" stroke-width="1.5"/><line x1="1253.0" y1="1161.7" x2="1253.0" y2="1166.7" stroke-width="1.5"/><line x1="1280.5" y1="1161.7" x2="1280.5" y2="1166.7" stroke-width="1.5"/><line x1="1294.5" y1="1161.7" x2="1294.5" y2="1166.7" stroke-width="1.5"/><line x1="1304.4" y1="1161.7" x2="1304.4" y2="1166.7" stroke-width="1.5"/><line x1="1312.0" y1="1161.7" x2="1312.0" y2="1166.7" stroke-width="1.5"/><line x1="1318.3" y1="1161.7" x2="1318.3" y2="1166.7" stroke-width="1.5"/><line x1="1323.6" y1="1161.7" x2="1323.6" y2="1166.7" stroke-width="1.5"/><line x1="1328.2" y1="1161.7" x2="1328.2" y2="1166.7" stroke-width="1.5"/><line x1="1332.3" y1="1161.7" x2="1332.3" y2="1166.7" stroke-width="1.5"/><line x1="1359.4" y1="1161.7" x2="1359.4" y2="1166.7" stroke-width="1.5"/><line x1="1373.1" y1="1161.7" x2="1373.1" y2="1166.7" stroke-width="1.5"/><line x1="1382.9" y1="1161.7" x2="1382.9" y2="1166.7" stroke-width="1.5"/><line x1="1390.4" y1="1161.7" x2="1390.4" y2="1166.7" stroke-width="1.5"/><line x1="1396.6" y1="1161.7" x2="1396.6" y2="1166.7" stroke-width="1.5"/><line x1="1401.8" y1="1161.7" x2="1401.8" y2="1166.7" stroke-width="1.5"/><line x1="1406.3" y1="1161.7" x2="1406.3" y2="1166.7" stroke-width="1.5"/><line x1="1410.3" y1="1161.7" x2="1410.3" y2="1166.7" stroke-width="1.5"/><line x1="1437.7" y1="1161.7" x2="1437.7" y2="1166.7" stroke-width="1.5"/><line x1="1140.4" y1="1161.7" x2="1140.4" y2="1166.7" stroke-width="1.5"/><line x1="1151.4" y1="1161.7" x2="1151.4" y2="1166.7" stroke-width="1.5"/><line x1="1159.4" y1="1161.7" x2="1159.4" y2="1166.7" stroke-width="1.5"/><line x1="1165.4" y1="1161.7" x2="1165.4" y2="1166.7" stroke-width="1.5"/><line x1="1170.4" y1="1161.7" x2="1170.4" y2="1166.7" stroke-width="1.5"/><line x1="1173.9" y1="1161.7" x2="1173.9" y2="1166.7" stroke-width="1.5"/><line x1="1101.4" y1="1161.7" x2="1101.4" y2="1166.7" stroke-width="1.5"/><line x1="1110.4" y1="1161.7" x2="1110.4" y2="1170.7" stroke-width="2.4"/><line x1="1113.4" y1="1161.7" x2="1113.4" y2="1166.7" stroke-width="1.5"/><line x1="1116.4" y1="1161.7" x2="1116.4" y2="1170.7" stroke-width="2.4"/><line x1="1119.4" y1="1161.7" x2="1119.4" y2="1166.7" stroke-width="1.5"/><line x1="1122.4" y1="1161.7" x2="1122.4" y2="1170.7" stroke-width="2.4"/><line x1="1125.4" y1="1161.7" x2="1125.4" y2="1170.7" stroke-width="2.4"/><line x1="1129.4" y1="1161.7" x2="1129.4" y2="1166.7" stroke-width="1.5"/></g>
<text x="1272.3" y="884.5" font-size="20" font-weight="bold" fill="#1a1a1a" textLength="51.9" lengthAdjust="spacingAndGlyphs">100%</text>
<text x="1271.0" y="938.4" font-size="20" font-weight="bold" fill="#1a1a1a" textLength="51.9" lengthAdjust="spacingAndGlyphs">100%</text>
<text x="1323.7" y="981.2" font-size="20" font-weight="bold" fill="#1a1a1a" textLength="51.9" lengthAdjust="spacingAndGlyphs">100%</text>
<clipPath id="cp11"><rect x="1501.20" y="821.80" width="352.40" height="341.20"/></clipPath>
<clipPath id="cp12"><polygon points="1501.2,1163.0 1501.2,1047.8 1526.7,1036.2 1552.2,1024.2 1577.7,1011.5 1603.2,997.8 1628.7,983.0 1654.2,967.2 1679.7,950.7 1705.2,933.8 1686.5,962.4 1669.8,991.1 1654.5,1019.8 1640.4,1048.4 1627.3,1077.0 1614.9,1105.7 1602.9,1134.3 1591.2,1163.0"/></clipPath>
<g clip-path="url(#cp11)"><g filter="url(#spk)"><ellipse cx="1567.7" cy="891.8" rx="77.0" ry="34.0" fill="#000" fill-opacity="0.16"/><ellipse cx="1571.2" cy="971.8" rx="78.0" ry="34.0" fill="#000" fill-opacity="0.16"/><ellipse cx="1567.7" cy="891.8" rx="55.0" ry="21.0" fill="#000"/><ellipse cx="1571.2" cy="971.8" rx="56.0" ry="21.0" fill="#000"/><polygon points="1501.2,1011.8 1541.2,1003.8 1601.2,991.8 1701.2,921.8 1723.2,929.8 1709.2,973.8 1651.2,1036.8 1631.2,1081.8 1626.2,1121.8 1623.2,1163.0 1501.2,1163.0" fill="#000" fill-opacity="0.3"/><polygon points="1501.2,1163.0 1501.2,1047.8 1526.7,1036.2 1552.2,1024.2 1577.7,1011.5 1603.2,997.8 1628.7,983.0 1654.2,967.2 1679.7,950.7 1705.2,933.8 1686.5,962.4 1669.8,991.1 1654.5,1019.8 1640.4,1048.4 1627.3,1077.0 1614.9,1105.7 1602.9,1134.3 1591.2,1163.0" fill="#000"/><ellipse cx="1686.2" cy="1056.8" rx="50.0" ry="72.0" fill="#000" fill-opacity="0.22"/><ellipse cx="1686.2" cy="1056.8" rx="34.0" ry="50.0" fill="#000" fill-opacity="0.95"/><polygon points="1641.2,1101.8 1729.2,1101.8 1729.2,1163.0 1641.2,1163.0" fill="#000" fill-opacity="0.26"/></g><g filter="url(#b1)"><ellipse cx="1567.7" cy="891.8" rx="41.2" ry="14.0" fill="#0000ff"/><ellipse cx="1571.2" cy="971.8" rx="42.0" ry="14.0" fill="#0000ff"/><polygon points="1501.2,1163.0 1501.2,1047.8 1526.7,1036.2 1552.2,1024.2 1577.7,1011.5 1603.2,997.8 1628.7,983.0 1654.2,967.2 1679.7,950.7 1705.2,933.8 1686.5,962.4 1669.8,991.1 1654.5,1019.8 1640.4,1048.4 1627.3,1077.0 1614.9,1105.7 1602.9,1134.3 1591.2,1163.0" fill="#0000ff"/><ellipse cx="1686.2" cy="1056.8" rx="24.0" ry="38.0" fill="#0000ff"/></g><line x1="1756.2" y1="1161.8" x2="1831.2" y2="1161.8" stroke="#0000ff" stroke-width="2.2" stroke-dasharray="2 1.5 1 3" stroke-opacity="0.8"/><g clip-path="url(#cp12)"><g filter="url(#b6)"><ellipse cx="1571.7" cy="893.8" rx="32.0" ry="9.0" fill="#0050ff" fill-opacity="0.6"/><ellipse cx="1575.2" cy="973.8" rx="32.0" ry="9.0" fill="#0050ff" fill-opacity="0.6"/><ellipse cx="1542.2" cy="1123.8" rx="34.0" ry="45.0" fill="#0070ff" fill-opacity="0.55"/><polygon points="1672.6,974.3 1674.2,972.1 1674.8,969.5 1674.3,966.8 1672.9,964.5 1670.6,962.9 1668.0,962.3 1665.3,962.7 1663.0,964.2 1476.8,1098.0 1468.3,1110.1 1465.0,1124.5 1467.5,1139.1 1475.4,1151.7 1487.5,1160.3 1502.0,1163.5 1516.6,1161.0 1529.1,1153.1" fill="#0080ff" fill-opacity="0.6"/></g><g filter="url(#b4)"><polygon points="1653.2,988.6 1654.1,987.3 1654.4,985.8 1654.2,984.3 1653.3,983.0 1652.1,982.1 1650.5,981.7 1649.0,982.0 1647.7,982.8 1511.0,1086.2 1505.8,1093.6 1503.8,1102.3 1505.4,1111.2 1510.1,1118.7 1517.5,1123.9 1526.2,1125.9 1535.1,1124.4 1542.7,1119.6" fill="#00ffff"/><ellipse cx="1548.2" cy="1106.8" rx="16.0" ry="22.0" fill="#00ffff" fill-opacity="0.45"/></g><g filter="url(#b3)"><polygon points="1633.0,1006.4 1633.7,1005.4 1633.9,1004.3 1633.7,1003.2 1633.1,1002.2 1632.1,1001.5 1631.0,1001.2 1629.8,1001.4 1628.9,1002.0 1526.0,1080.3 1522.1,1085.7 1520.7,1092.2 1521.8,1098.7 1525.3,1104.3 1530.7,1108.2 1537.2,1109.6 1543.8,1108.5 1549.4,1105.0" fill="#10ff20"/></g><g filter="url(#b2)"><polygon points="1611.3,1027.0 1612.0,1026.0 1612.2,1024.9 1612.0,1023.7 1611.4,1022.7 1610.5,1022.0 1609.3,1021.8 1608.2,1022.0 1607.2,1022.6 1535.6,1077.4 1532.8,1081.4 1531.7,1086.1 1532.5,1090.9 1535.1,1095.1 1539.1,1097.9 1543.8,1099.0 1548.7,1098.1 1552.8,1095.5" fill="#ffff00"/></g><g filter="url(#b2)"><polygon points="1600.8,1037.6 1601.6,1036.5 1601.9,1035.2 1601.7,1033.8 1600.9,1032.7 1599.8,1031.9 1598.5,1031.6 1597.1,1031.8 1596.0,1032.5 1543.1,1074.4 1540.9,1077.5 1540.1,1081.1 1540.7,1084.7 1542.7,1087.9 1545.7,1090.0 1549.3,1090.8 1553.0,1090.2 1556.1,1088.2" fill="#ff8800"/></g><g filter="url(#b1)"><polygon points="1587.4,1049.6 1588.1,1048.6 1588.4,1047.5 1588.2,1046.3 1587.6,1045.3 1586.6,1044.7 1585.5,1044.4 1584.3,1044.6 1583.3,1045.2 1553.2,1069.9 1551.9,1071.8 1551.4,1074.0 1551.8,1076.2 1553.0,1078.1 1554.8,1079.4 1557.0,1079.9 1559.3,1079.6 1561.2,1078.3" fill="#ff2000"/></g></g></g>
<polyline points="1492.20,859.00 1650.10,859.00 1650.10,926.90 1501.20,926.90" fill="none" stroke="#1a1a1a" stroke-width="2.2" />
<polyline points="1501.20,942.30 1650.10,942.30 1650.10,968.90 1574.30,998.10 1501.20,998.10" fill="none" stroke="#1a1a1a" stroke-width="2.2" />
<polygon points="1638.10,1163.00 1635.50,1066.00 1674.00,987.50 1722.40,987.50 1724.00,1163.00" fill="none" stroke="#1a1a1a" stroke-width="2.2" />
<rect x="1501.20" y="821.80" width="352.40" height="341.20" fill="none" stroke="#8c8c8c" stroke-width="1.2"/>
<g stroke="#000"><line x1="1492.2" y1="859.3" x2="1501.2" y2="859.3" stroke-width="2.4"/><line x1="1492.2" y1="934.5" x2="1501.2" y2="934.5" stroke-width="2.4"/><line x1="1492.2" y1="1010.8" x2="1501.2" y2="1010.8" stroke-width="2.4"/><line x1="1492.2" y1="1088.8" x2="1501.2" y2="1088.8" stroke-width="2.4"/><line x1="1496.2" y1="911.9" x2="1501.2" y2="911.9" stroke-width="1.5"/><line x1="1496.2" y1="898.6" x2="1501.2" y2="898.6" stroke-width="1.5"/><line x1="1496.2" y1="889.2" x2="1501.2" y2="889.2" stroke-width="1.5"/><line x1="1496.2" y1="882.0" x2="1501.2" y2="882.0" stroke-width="1.5"/><line x1="1496.2" y1="876.0" x2="1501.2" y2="876.0" stroke-width="1.5"/><line x1="1496.2" y1="871.0" x2="1501.2" y2="871.0" stroke-width="1.5"/><line x1="1496.2" y1="866.6" x2="1501.2" y2="866.6" stroke-width="1.5"/><line x1="1496.2" y1="862.7" x2="1501.2" y2="862.7" stroke-width="1.5"/><line x1="1496.2" y1="987.8" x2="1501.2" y2="987.8" stroke-width="1.5"/><line x1="1496.2" y1="974.4" x2="1501.2" y2="974.4" stroke-width="1.5"/><line x1="1496.2" y1="964.9" x2="1501.2" y2="964.9" stroke-width="1.5"/><line x1="1496.2" y1="957.5" x2="1501.2" y2="957.5" stroke-width="1.5"/><line x1="1496.2" y1="951.5" x2="1501.2" y2="951.5" stroke-width="1.5"/><line x1="1496.2" y1="946.4" x2="1501.2" y2="946.4" stroke-width="1.5"/><line x1="1496.2" y1="941.9" x2="1501.2" y2="941.9" stroke-width="1.5"/><line x1="1496.2" y1="938.0" x2="1501.2" y2="938.0" stroke-width="1.5"/><line x1="1496.2" y1="1065.3" x2="1501.2" y2="1065.3" stroke-width="1.5"/><line x1="1496.2" y1="1051.6" x2="1501.2" y2="1051.6" stroke-width="1.5"/><line x1="1496.2" y1="1041.8" x2="1501.2" y2="1041.8" stroke-width="1.5"/><line x1="1496.2" y1="1034.3" x2="1501.2" y2="1034.3" stroke-width="1.5"/><line x1="1496.2" y1="1028.1" x2="1501.2" y2="1028.1" stroke-width="1.5"/><line x1="1496.2" y1="1022.9" x2="1501.2" y2="1022.9" stroke-width="1.5"/><line x1="1496.2" y1="1018.4" x2="1501.2" y2="1018.4" stroke-width="1.5"/><line x1="1496.2" y1="1014.4" x2="1501.2" y2="1014.4" stroke-width="1.5"/><line x1="1496.2" y1="836.4" x2="1501.2" y2="836.4" stroke-width="1.5"/><line x1="1496.2" y1="823.0" x2="1501.2" y2="823.0" stroke-width="1.5"/><line x1="1496.2" y1="1099.8" x2="1501.2" y2="1099.8" stroke-width="1.5"/><line x1="1496.2" y1="1109.8" x2="1501.2" y2="1109.8" stroke-width="1.5"/><line x1="1496.2" y1="1117.8" x2="1501.2" y2="1117.8" stroke-width="1.5"/><line x1="1496.2" y1="1124.8" x2="1501.2" y2="1124.8" stroke-width="1.5"/><line x1="1496.2" y1="1130.8" x2="1501.2" y2="1130.8" stroke-width="1.5"/><line x1="1492.2" y1="1135.8" x2="1501.2" y2="1135.8" stroke-width="2.4"/><line x1="1496.2" y1="1139.8" x2="1501.2" y2="1139.8" stroke-width="1.5"/><line x1="1496.2" y1="1142.8" x2="1501.2" y2="1142.8" stroke-width="1.5"/><line x1="1492.2" y1="1145.8" x2="1501.2" y2="1145.8" stroke-width="2.4"/><line x1="1496.2" y1="1148.8" x2="1501.2" y2="1148.8" stroke-width="1.5"/><line x1="1496.2" y1="1151.8" x2="1501.2" y2="1151.8" stroke-width="1.5"/><line x1="1496.2" y1="1157.8" x2="1501.2" y2="1157.8" stroke-width="1.5"/><line x1="1496.2" y1="1162.8" x2="1501.2" y2="1162.8" stroke-width="1.5"/><line x1="1580.0" y1="1163.0" x2="1580.0" y2="1172.0" stroke-width="2.4"/><line x1="1659.5" y1="1163.0" x2="1659.5" y2="1172.0" stroke-width="2.4"/><line x1="1738.7" y1="1163.0" x2="1738.7" y2="1172.0" stroke-width="2.4"/><line x1="1816.7" y1="1163.0" x2="1816.7" y2="1172.0" stroke-width="2.4"/><line x1="1603.9" y1="1163.0" x2="1603.9" y2="1168.0" stroke-width="1.5"/><line x1="1617.9" y1="1163.0" x2="1617.9" y2="1168.0" stroke-width="1.5"/><line x1="1627.8" y1="1163.0" x2="1627.8" y2="1168.0" stroke-width="1.5"/><line x1="1635.5" y1="1163.0" x2="1635.5" y2="1168.0" stroke-width="1.5"/><line x1="1641.8" y1="1163.0" x2="1641.8" y2="1168.0" stroke-width="1.5"/><line x1="1647.1" y1="1163.0" x2="1647.1" y2="1168.0" stroke-width="1.5"/><line x1="1651.7" y1="1163.0" x2="1651.7" y2="1168.0" stroke-width="1.5"/><line x1="1655.8" y1="1163.0" x2="1655.8" y2="1168.0" stroke-width="1.5"/><line x1="1683.3" y1="1163.0" x2="1683.3" y2="1168.0" stroke-width="1.5"/><line x1="1697.3" y1="1163.0" x2="1697.3" y2="1168.0" stroke-width="1.5"/><line x1="1707.2" y1="1163.0" x2="1707.2" y2="1168.0" stroke-width="1.5"/><line x1="1714.8" y1="1163.0" x2="1714.8" y2="1168.0" stroke-width="1.5"/><line x1="1721.1" y1="1163.0" x2="1721.1" y2="1168.0" stroke-width="1.5"/><line x1="1726.4" y1="1163.0" x2="1726.4" y2="1168.0" stroke-width="1.5"/><line x1="1731.0" y1="1163.0" x2="1731.0" y2="1168.0" stroke-width="1.5"/><line x1="1735.1" y1="1163.0" x2="1735.1" y2="1168.0" stroke-width="1.5"/><line x1="1762.2" y1="1163.0" x2="1762.2" y2="1168.0" stroke-width="1.5"/><line x1="1775.9" y1="1163.0" x2="1775.9" y2="1168.0" stroke-width="1.5"/><line x1="1785.7" y1="1163.0" x2="1785.7" y2="1168.0" stroke-width="1.5"/><line x1="1793.2" y1="1163.0" x2="1793.2" y2="1168.0" stroke-width="1.5"/><line x1="1799.4" y1="1163.0" x2="1799.4" y2="1168.0" stroke-width="1.5"/><line x1="1804.6" y1="1163.0" x2="1804.6" y2="1168.0" stroke-width="1.5"/><line x1="1809.1" y1="1163.0" x2="1809.1" y2="1168.0" stroke-width="1.5"/><line x1="1813.1" y1="1163.0" x2="1813.1" y2="1168.0" stroke-width="1.5"/><line x1="1840.5" y1="1163.0" x2="1840.5" y2="1168.0" stroke-width="1.5"/><line x1="1543.2" y1="1163.0" x2="1543.2" y2="1168.0" stroke-width="1.5"/><line x1="1554.2" y1="1163.0" x2="1554.2" y2="1168.0" stroke-width="1.5"/><line x1="1562.2" y1="1163.0" x2="1562.2" y2="1168.0" stroke-width="1.5"/><line x1="1568.2" y1="1163.0" x2="1568.2" y2="1168.0" stroke-width="1.5"/><line x1="1573.2" y1="1163.0" x2="1573.2" y2="1168.0" stroke-width="1.5"/><line x1="1576.7" y1="1163.0" x2="1576.7" y2="1168.0" stroke-width="1.5"/><line x1="1504.2" y1="1163.0" x2="1504.2" y2="1168.0" stroke-width="1.5"/><line x1="1513.2" y1="1163.0" x2="1513.2" y2="1172.0" stroke-width="2.4"/><line x1="1516.2" y1="1163.0" x2="1516.2" y2="1168.0" stroke-width="1.5"/><line x1="1519.2" y1="1163.0" x2="1519.2" y2="1172.0" stroke-width="2.4"/><line x1="1522.2" y1="1163.0" x2="1522.2" y2="1168.0" stroke-width="1.5"/><line x1="1525.2" y1="1163.0" x2="1525.2" y2="1172.0" stroke-width="2.4"/><line x1="1528.2" y1="1163.0" x2="1528.2" y2="1172.0" stroke-width="2.4"/><line x1="1532.2" y1="1163.0" x2="1532.2" y2="1168.0" stroke-width="1.5"/></g>
<text x="1657.6" y="900.5" font-size="20" font-weight="bold" fill="#1a1a1a" textLength="39.6" lengthAdjust="spacingAndGlyphs">94%</text>
<text x="1659.4" y="948.9" font-size="20" font-weight="bold" fill="#1a1a1a" textLength="39.6" lengthAdjust="spacingAndGlyphs">96%</text>
<text x="1710.0" y="986.2" font-size="20" font-weight="bold" fill="#1a1a1a" textLength="51.9" lengthAdjust="spacingAndGlyphs">100%</text>
<clipPath id="cp13"><rect x="134.70" y="42.50" width="349.30" height="345.50"/></clipPath>
<g clip-path="url(#cp13)"><g filter="url(#spk2)"><polygon points="134.7,362.0 225.7,294.0 321.5,231.0 417.2,176.0 486.0,137.0 486.0,320.0 420.0,326.0 330.0,342.0 250.0,362.0 215.0,392.0 134.7,392.0" fill="#000" fill-opacity="0.22"/><polygon points="134.7,369.0 225.7,302.0 321.5,239.0 417.2,183.0 482.4,145.0 486.0,143.0 486.0,305.0 440.0,311.8 380.0,320.8 321.5,330.6 280.0,339.0 244.9,350.0 206.6,367.0 193.2,384.3 134.7,384.3" fill="#000"/></g><g filter="url(#b1)"><polygon points="134.7,369.0 225.7,302.0 321.5,239.0 417.2,183.0 482.4,145.0 486.0,143.0 486.0,305.0 440.0,311.8 380.0,320.8 321.5,330.6 280.0,339.0 244.9,350.0 206.6,367.0 193.2,384.3 134.7,384.3" fill="#0000ff"/></g><g filter="url(#b6)"><polygon points="262.0,318.0 330.0,272.0 400.0,226.0 440.0,200.0 458.0,218.0 440.0,262.0 400.0,289.0 330.0,304.0 268.0,326.0" fill="#0068ff" fill-opacity="0.6"/></g><g filter="url(#b6)"><polyline points="135.0,383.0 187.4,346.0 244.9,307.7 302.3,273.2 359.8,242.6 417.2,210.0" fill="none" stroke="#0090ff" stroke-width="30" stroke-linecap="round" stroke-linejoin="round" stroke-opacity="0.55"/><polyline points="359.8,242.6 417.2,210.0 484.3,177.4" fill="none" stroke="#0070ff" stroke-width="26" stroke-linecap="round" stroke-linejoin="round" stroke-opacity="0.5"/></g><g filter="url(#b4)"><polyline points="135.0,383.0 187.4,346.0 244.9,307.7 302.3,273.2 359.8,242.6" fill="none" stroke="#00ffff" stroke-width="18" stroke-linecap="round" stroke-linejoin="round" stroke-opacity="0.95"/><polyline points="359.8,242.6 417.2,210.0" fill="none" stroke="#00ffff" stroke-width="14" stroke-linecap="round" stroke-linejoin="round" stroke-opacity="0.6"/></g><g filter="url(#b3)"><polyline points="135.0,383.0 187.4,346.0 244.9,307.7" fill="none" stroke="#10ff20" stroke-width="8" stroke-linecap="round" stroke-linejoin="round"/><ellipse cx="262.0" cy="296.0" rx="38.0" ry="11.0" fill="#10ff20" transform="rotate(-31 262.0 296.0)"/></g><g filter="url(#b2)"><ellipse cx="252.0" cy="301.5" rx="26.0" ry="8.0" fill="#ffff00" transform="rotate(-31 252.0 301.5)"/><ellipse cx="146.0" cy="378.0" rx="11.0" ry="5.5" fill="#ffff00" transform="rotate(-25 146.0 378.0)"/></g><g filter="url(#b1)"><ellipse cx="251.0" cy="302.0" rx="14.0" ry="4.2" fill="#ff1000" transform="rotate(-31 251.0 302.0)"/><ellipse cx="144.5" cy="380.5" rx="7.0" ry="3.5" fill="#ff1000" transform="rotate(-20 144.5 380.5)"/></g><rect x="134.7" y="383" width="30" height="2.5" fill="#40ffff"/></g>
<line x1="483.50" y1="77.00" x2="483.50" y2="346.00" stroke="#30d0b0" stroke-width="1.6" />
<polyline points="134.80,355.60 274.00,260.60 324.50,228.70 484.30,132.40" fill="none" stroke="#111" stroke-width="2.4" />
<polyline points="149.10,390.00 484.30,168.80" fill="none" stroke="#111" stroke-width="2.4" />
<rect x="134.70" y="42.50" width="349.30" height="346.50" fill="none" stroke="#8c8c8c" stroke-width="1.2"/>
<g stroke="#000"><line x1="124.7" y1="389.0" x2="134.7" y2="389.0" stroke-width="2.6"/><line x1="129.7" y1="377.0" x2="134.7" y2="377.0" stroke-width="1.6"/><line x1="129.7" y1="365.0" x2="134.7" y2="365.0" stroke-width="1.6"/><line x1="129.7" y1="352.9" x2="134.7" y2="352.9" stroke-width="1.6"/><line x1="129.7" y1="340.9" x2="134.7" y2="340.9" stroke-width="1.6"/><line x1="124.7" y1="328.9" x2="134.7" y2="328.9" stroke-width="2.6"/><line x1="129.7" y1="316.9" x2="134.7" y2="316.9" stroke-width="1.6"/><line x1="129.7" y1="304.8" x2="134.7" y2="304.8" stroke-width="1.6"/><line x1="129.7" y1="292.8" x2="134.7" y2="292.8" stroke-width="1.6"/><line x1="129.7" y1="280.8" x2="134.7" y2="280.8" stroke-width="1.6"/><line x1="124.7" y1="268.8" x2="134.7" y2="268.8" stroke-width="2.6"/><line x1="129.7" y1="256.7" x2="134.7" y2="256.7" stroke-width="1.6"/><line x1="129.7" y1="244.7" x2="134.7" y2="244.7" stroke-width="1.6"/><line x1="129.7" y1="232.7" x2="134.7" y2="232.7" stroke-width="1.6"/><line x1="129.7" y1="220.7" x2="134.7" y2="220.7" stroke-width="1.6"/><line x1="124.7" y1="208.6" x2="134.7" y2="208.6" stroke-width="2.6"/><line x1="129.7" y1="196.6" x2="134.7" y2="196.6" stroke-width="1.6"/><line x1="129.7" y1="184.6" x2="134.7" y2="184.6" stroke-width="1.6"/><line x1="129.7" y1="172.6" x2="134.7" y2="172.6" stroke-width="1.6"/><line x1="129.7" y1="160.5" x2="134.7" y2="160.5" stroke-width="1.6"/><line x1="124.7" y1="148.5" x2="134.7" y2="148.5" stroke-width="2.6"/><line x1="129.7" y1="136.5" x2="134.7" y2="136.5" stroke-width="1.6"/><line x1="129.7" y1="124.5" x2="134.7" y2="124.5" stroke-width="1.6"/><line x1="129.7" y1="112.4" x2="134.7" y2="112.4" stroke-width="1.6"/><line x1="129.7" y1="100.4" x2="134.7" y2="100.4" stroke-width="1.6"/><line x1="124.7" y1="88.4" x2="134.7" y2="88.4" stroke-width="2.6"/><line x1="129.7" y1="76.4" x2="134.7" y2="76.4" stroke-width="1.6"/><line x1="129.7" y1="64.4" x2="134.7" y2="64.4" stroke-width="1.6"/><line x1="129.7" y1="52.3" x2="134.7" y2="52.3" stroke-width="1.6"/><line x1="135.2" y1="389.0" x2="135.2" y2="399.0" stroke-width="2.6"/><line x1="149.8" y1="389.0" x2="149.8" y2="394.0" stroke-width="1.6"/><line x1="164.5" y1="389.0" x2="164.5" y2="394.0" stroke-width="1.6"/><line x1="179.1" y1="389.0" x2="179.1" y2="394.0" stroke-width="1.6"/><line x1="193.8" y1="389.0" x2="193.8" y2="394.0" stroke-width="1.6"/><line x1="208.4" y1="389.0" x2="208.4" y2="399.0" stroke-width="2.6"/><line x1="223.0" y1="389.0" x2="223.0" y2="394.0" stroke-width="1.6"/><line x1="237.7" y1="389.0" x2="237.7" y2="394.0" stroke-width="1.6"/><line x1="252.3" y1="389.0" x2="252.3" y2="394.0" stroke-width="1.6"/><line x1="267.0" y1="389.0" x2="267.0" y2="394.0" stroke-width="1.6"/><line x1="281.6" y1="389.0" x2="281.6" y2="399.0" stroke-width="2.6"/><line x1="296.2" y1="389.0" x2="296.2" y2="394.0" stroke-width="1.6"/><line x1="310.9" y1="389.0" x2="310.9" y2="394.0" stroke-width="1.6"/><line x1="325.5" y1="389.0" x2="325.5" y2="394.0" stroke-width="1.6"/><line x1="340.2" y1="389.0" x2="340.2" y2="394.0" stroke-width="1.6"/><line x1="354.8" y1="389.0" x2="354.8" y2="399.0" stroke-width="2.6"/><line x1="369.4" y1="389.0" x2="369.4" y2="394.0" stroke-width="1.6"/><line x1="384.1" y1="389.0" x2="384.1" y2="394.0" stroke-width="1.6"/><line x1="398.7" y1="389.0" x2="398.7" y2="394.0" stroke-width="1.6"/><line x1="413.4" y1="389.0" x2="413.4" y2="394.0" stroke-width="1.6"/><line x1="428.0" y1="389.0" x2="428.0" y2="399.0" stroke-width="2.6"/><line x1="442.6" y1="389.0" x2="442.6" y2="394.0" stroke-width="1.6"/><line x1="457.3" y1="389.0" x2="457.3" y2="394.0" stroke-width="1.6"/><line x1="471.9" y1="389.0" x2="471.9" y2="394.0" stroke-width="1.6"/></g>
<line x1="134.70" y1="389.00" x2="134.70" y2="399.00" stroke="#000" stroke-width="2.6" />
<text x="110.4" y="407.3" font-size="27" text-anchor="end" textLength="33.0" lengthAdjust="spacingAndGlyphs">0K</text>
<text x="113.7" y="337.2" font-size="27" text-anchor="end" textLength="48.0" lengthAdjust="spacingAndGlyphs">50K</text>
<text x="113.7" y="277.3" font-size="27" text-anchor="end" textLength="63.0" lengthAdjust="spacingAndGlyphs">100K</text>
<text x="114.0" y="217.3" font-size="27" text-anchor="end" textLength="63.0" lengthAdjust="spacingAndGlyphs">150K</text>
<text x="117.0" y="157.3" font-size="27" text-anchor="end" textLength="63.0" lengthAdjust="spacingAndGlyphs">200K</text>
<text x="120.3" y="96.4" font-size="27" text-anchor="end" textLength="63.0" lengthAdjust="spacingAndGlyphs">250K</text>
<text x="128.0" y="431.5" font-size="27" textLength="33.0" lengthAdjust="spacingAndGlyphs">0K</text>
<text x="181.5" y="431.5" font-size="27" textLength="48.0" lengthAdjust="spacingAndGlyphs">50K</text>
<text x="248.7" y="431.5" font-size="27" textLength="63.0" lengthAdjust="spacingAndGlyphs">100K</text>
<text x="321.8" y="431.5" font-size="27" textLength="63.0" lengthAdjust="spacingAndGlyphs">150K</text>
<text x="400.3" y="431.5" font-size="27" textLength="63.0" lengthAdjust="spacingAndGlyphs">200K</text>
<line x1="33.20" y1="456.50" x2="33.20" y2="334.80" stroke="#000" stroke-width="2.6" />
<polygon points="26.00,335.80 33.20,321.80 40.40,335.80" fill="#000"/>
<line x1="32.00" y1="455.50" x2="162.60" y2="455.50" stroke="#000" stroke-width="2.6" />
<polygon points="161.60,448.10 175.80,455.50 161.60,462.90" fill="#000"/>
<text transform="translate(20.2,406.6) rotate(-90)" font-size="23.5" text-anchor="middle" textLength="69.8" lengthAdjust="spacingAndGlyphs">FSC-H</text>
<text x="51.9" y="476.0" font-size="23.5" textLength="69.1" lengthAdjust="spacingAndGlyphs">FSC-A</text>
<clipPath id="cp14"><rect x="618.75" y="42.50" width="345.50" height="342.00"/></clipPath>
<g clip-path="url(#cp14)"><g filter="url(#spk2)"><polygon points="618.8,42.0 715.0,42.0 704.0,45.0 678.0,70.0 661.0,105.0 641.0,150.0 624.0,200.0 618.8,250.0" fill="#000" fill-opacity="0.16"/><polygon points="618.8,250.0 624.0,200.0 641.0,150.0 661.0,105.0 678.0,70.0 704.0,45.0 715.0,42.0 745.0,42.0 720.0,55.0 692.0,80.0 675.0,115.0 654.0,160.0 636.0,210.0 618.8,280.0" fill="#000" fill-opacity="0.36"/><polygon points="966.0,270.0 966.0,318.0 900.0,335.0 800.0,362.0 740.0,382.0 680.0,392.0 640.0,392.0 700.0,372.0 800.0,345.0 900.0,316.0" fill="#000" fill-opacity="0.3"/><polygon points="618.8,280.0 636.0,210.0 654.0,160.0 675.0,115.0 692.0,80.0 720.0,55.0 745.0,42.0 966.0,42.0 966.0,282.0 940.0,300.0 900.0,322.0 850.0,337.0 800.0,351.0 755.0,364.0 725.0,372.0 690.0,378.0 660.0,383.0 640.0,386.0 618.8,386.0" fill="#000"/></g><g filter="url(#b6)"><polygon points="618.8,282.0 636.0,215.0 654.0,165.0 675.0,122.0 700.0,90.0 740.0,75.0 830.0,80.0 900.0,70.0 966.0,58.0 966.0,282.0 940.0,300.0 900.0,322.0 850.0,337.0 800.0,351.0 755.0,364.0 725.0,372.0 690.0,378.0 660.0,383.0 640.0,386.0 618.8,386.0" fill="#0000ff" fill-opacity="0.97"/></g><g filter="url(#b16)"><ellipse cx="840.0" cy="262.0" rx="150.0" ry="52.0" fill="#0078ff" fill-opacity="0.7" transform="rotate(-20 840.0 262.0)"/><ellipse cx="885.0" cy="255.0" rx="100.0" ry="50.0" fill="#0090ff" fill-opacity="0.55" transform="rotate(-20 885.0 255.0)"/><ellipse cx="880.0" cy="190.0" rx="110.0" ry="50.0" fill="#0040ff" fill-opacity="0.4" transform="rotate(-18 880.0 190.0)"/><ellipse cx="640.0" cy="300.0" rx="30.0" ry="70.0" fill="#0050ff" fill-opacity="0.5"/></g><g filter="url(#b6)"><ellipse cx="772.0" cy="310.0" rx="105.0" ry="36.0" fill="#00ffff" fill-opacity="0.5" transform="rotate(-25 772.0 310.0)"/><ellipse cx="700.0" cy="352.0" rx="50.0" ry="24.0" fill="#00ffff" fill-opacity="0.9" transform="rotate(-15 700.0 352.0)"/><ellipse cx="632.0" cy="345.0" rx="15.0" ry="34.0" fill="#00ffff" fill-opacity="0.85"/></g><g filter="url(#b4)"><ellipse cx="732.0" cy="338.0" rx="64.0" ry="24.0" fill="#10ff20" transform="rotate(-22 732.0 338.0)"/><ellipse cx="688.0" cy="360.0" rx="30.0" ry="13.0" fill="#10ff20" fill-opacity="0.9" transform="rotate(-15 688.0 360.0)"/><ellipse cx="630.0" cy="358.0" rx="10.0" ry="22.0" fill="#10ff20"/></g><g filter="url(#b3)"><ellipse cx="731.0" cy="347.0" rx="27.0" ry="18.5" fill="#ffff00"/><ellipse cx="629.5" cy="364.0" rx="6.5" ry="15.0" fill="#ffff00"/></g><g filter="url(#b2)"><ellipse cx="731.0" cy="347.5" rx="16.0" ry="10.5" fill="#ff6000"/><ellipse cx="629.5" cy="377.0" rx="7.0" ry="5.0" fill="#ff3000"/></g><g filter="url(#b1)"><ellipse cx="731.0" cy="348.0" rx="12.0" ry="7.0" fill="#ff1000"/><ellipse cx="629.5" cy="379.0" rx="5.5" ry="3.5" fill="#ff1000"/></g><g filter="url(#b1)"><polyline points="640.0,384.0 700.0,380.0 735.0,377.0" fill="none" stroke="#00c0ff" stroke-width="3" stroke-linecap="round" stroke-linejoin="round" stroke-opacity="0.8"/></g></g>
<line x1="618.75" y1="43.00" x2="964.25" y2="43.00" stroke="#30e0e0" stroke-width="1.5" />
<line x1="963.50" y1="43.00" x2="963.50" y2="300.00" stroke="#30d070" stroke-width="1.5" />
<polyline points="763.75,42.50 665.50,284.30 653.70,327.30 661.30,377.10 728.70,374.30 755.50,366.60 963.30,310.10" fill="none" stroke="#111" stroke-width="2.2" />
<rect x="618.75" y="42.50" width="345.50" height="342.50" fill="none" stroke="#8c8c8c" stroke-width="1.2"/>
<g stroke="#000"><line x1="608.8" y1="384.2" x2="618.8" y2="384.2" stroke-width="2.6"/><line x1="613.8" y1="371.2" x2="618.8" y2="371.2" stroke-width="1.6"/><line x1="613.8" y1="358.2" x2="618.8" y2="358.2" stroke-width="1.6"/><line x1="613.8" y1="345.1" x2="618.8" y2="345.1" stroke-width="1.6"/><line x1="613.8" y1="332.1" x2="618.8" y2="332.1" stroke-width="1.6"/><line x1="608.8" y1="319.1" x2="618.8" y2="319.1" stroke-width="2.6"/><line x1="613.8" y1="306.0" x2="618.8" y2="306.0" stroke-width="1.6"/><line x1="613.8" y1="293.0" x2="618.8" y2="293.0" stroke-width="1.6"/><line x1="613.8" y1="279.9" x2="618.8" y2="279.9" stroke-width="1.6"/><line x1="613.8" y1="266.9" x2="618.8" y2="266.9" stroke-width="1.6"/><line x1="608.8" y1="253.8" x2="618.8" y2="253.8" stroke-width="2.6"/><line x1="613.8" y1="240.8" x2="618.8" y2="240.8" stroke-width="1.6"/><line x1="613.8" y1="227.8" x2="618.8" y2="227.8" stroke-width="1.6"/><line x1="613.8" y1="214.7" x2="618.8" y2="214.7" stroke-width="1.6"/><line x1="613.8" y1="201.7" x2="618.8" y2="201.7" stroke-width="1.6"/><line x1="608.8" y1="188.6" x2="618.8" y2="188.6" stroke-width="2.6"/><line x1="613.8" y1="175.6" x2="618.8" y2="175.6" stroke-width="1.6"/><line x1="613.8" y1="162.6" x2="618.8" y2="162.6" stroke-width="1.6"/><line x1="613.8" y1="149.5" x2="618.8" y2="149.5" stroke-width="1.6"/><line x1="613.8" y1="136.5" x2="618.8" y2="136.5" stroke-width="1.6"/><line x1="608.8" y1="123.4" x2="618.8" y2="123.4" stroke-width="2.6"/><line x1="613.8" y1="110.4" x2="618.8" y2="110.4" stroke-width="1.6"/><line x1="613.8" y1="97.4" x2="618.8" y2="97.4" stroke-width="1.6"/><line x1="613.8" y1="84.3" x2="618.8" y2="84.3" stroke-width="1.6"/><line x1="613.8" y1="71.3" x2="618.8" y2="71.3" stroke-width="1.6"/><line x1="608.8" y1="58.2" x2="618.8" y2="58.2" stroke-width="2.6"/><line x1="613.8" y1="45.2" x2="618.8" y2="45.2" stroke-width="1.6"/><line x1="619.5" y1="385.0" x2="619.5" y2="395.0" stroke-width="2.6"/><line x1="633.9" y1="385.0" x2="633.9" y2="390.0" stroke-width="1.6"/><line x1="648.3" y1="385.0" x2="648.3" y2="390.0" stroke-width="1.6"/><line x1="662.8" y1="385.0" x2="662.8" y2="390.0" stroke-width="1.6"/><line x1="677.2" y1="385.0" x2="677.2" y2="390.0" stroke-width="1.6"/><line x1="691.6" y1="385.0" x2="691.6" y2="395.0" stroke-width="2.6"/><line x1="706.0" y1="385.0" x2="706.0" y2="390.0" stroke-width="1.6"/><line x1="720.4" y1="385.0" x2="720.4" y2="390.0" stroke-width="1.6"/><line x1="734.9" y1="385.0" x2="734.9" y2="390.0" stroke-width="1.6"/><line x1="749.3" y1="385.0" x2="749.3" y2="390.0" stroke-width="1.6"/><line x1="763.7" y1="385.0" x2="763.7" y2="395.0" stroke-width="2.6"/><line x1="778.1" y1="385.0" x2="778.1" y2="390.0" stroke-width="1.6"/><line x1="792.5" y1="385.0" x2="792.5" y2="390.0" stroke-width="1.6"/><line x1="807.0" y1="385.0" x2="807.0" y2="390.0" stroke-width="1.6"/><line x1="821.4" y1="385.0" x2="821.4" y2="390.0" stroke-width="1.6"/><line x1="835.8" y1="385.0" x2="835.8" y2="395.0" stroke-width="2.6"/><line x1="850.2" y1="385.0" x2="850.2" y2="390.0" stroke-width="1.6"/><line x1="864.6" y1="385.0" x2="864.6" y2="390.0" stroke-width="1.6"/><line x1="879.1" y1="385.0" x2="879.1" y2="390.0" stroke-width="1.6"/><line x1="893.5" y1="385.0" x2="893.5" y2="390.0" stroke-width="1.6"/><line x1="907.9" y1="385.0" x2="907.9" y2="395.0" stroke-width="2.6"/><line x1="922.3" y1="385.0" x2="922.3" y2="390.0" stroke-width="1.6"/><line x1="936.7" y1="385.0" x2="936.7" y2="390.0" stroke-width="1.6"/><line x1="951.2" y1="385.0" x2="951.2" y2="390.0" stroke-width="1.6"/></g>
<line x1="618.75" y1="385.00" x2="618.75" y2="395.00" stroke="#000" stroke-width="2.6" />
<text x="593.0" y="390.5" font-size="27" text-anchor="end" textLength="33.0" lengthAdjust="spacingAndGlyphs">0K</text>
<text x="596.2" y="326.0" font-size="27" text-anchor="end" textLength="48.0" lengthAdjust="spacingAndGlyphs">50K</text>
<text x="596.2" y="260.8" font-size="27" text-anchor="end" textLength="63.0" lengthAdjust="spacingAndGlyphs">100K</text>
<text x="596.2" y="194.2" font-size="27" text-anchor="end" textLength="63.0" lengthAdjust="spacingAndGlyphs">150K</text>
<text x="599.2" y="130.0" font-size="27" text-anchor="end" textLength="63.0" lengthAdjust="spacingAndGlyphs">200K</text>
<text x="600.0" y="64.8" font-size="27" text-anchor="end" textLength="63.0" lengthAdjust="spacingAndGlyphs">250K</text>
<text x="607.5" y="431.5" font-size="27" textLength="33.0" lengthAdjust="spacingAndGlyphs">0K</text>
<text x="658.0" y="431.5" font-size="27" textLength="48.0" lengthAdjust="spacingAndGlyphs">50K</text>
<text x="723.2" y="431.5" font-size="27" textLength="63.0" lengthAdjust="spacingAndGlyphs">100K</text>
<text x="798.2" y="431.5" font-size="27" textLength="63.0" lengthAdjust="spacingAndGlyphs">150K</text>
<text x="874.2" y="431.5" font-size="27" textLength="63.0" lengthAdjust="spacingAndGlyphs">200K</text>
<line x1="524.25" y1="453.50" x2="524.25" y2="332.80" stroke="#000" stroke-width="2.6" />
<polygon points="517.35,333.80 524.25,320.00 531.15,333.80" fill="#000"/>
<line x1="523.00" y1="452.50" x2="652.75" y2="452.50" stroke="#000" stroke-width="2.6" />
<polygon points="651.75,445.60 666.25,452.50 651.75,459.40" fill="#000"/>
<text transform="translate(513.5,405) rotate(-90)" font-size="23.5" text-anchor="middle" textLength="70" lengthAdjust="spacingAndGlyphs">SSC-A</text>
<text x="545.0" y="472.5" font-size="23.5" textLength="68.8" lengthAdjust="spacingAndGlyphs">FSC-A</text>
<line x1="456.30" y1="160.00" x2="525.30" y2="160.00" stroke="#000" stroke-width="5.4" />
<polygon points="524.30,152.00 539.90,160.00 524.30,168.00" fill="#000"/>
<line x1="938.80" y1="243.30" x2="1007.20" y2="243.30" stroke="#000" stroke-width="5.4" />
<polygon points="1006.20,235.30 1022.40,243.30 1006.20,251.30" fill="#000"/>
<text x="1005.5" y="100.0" font-size="22" font-weight="bold" textLength="77.0" lengthAdjust="spacingAndGlyphs">0,01µM</text>
<text x="1005.5" y="128.0" font-size="22" font-weight="bold" textLength="43.0" lengthAdjust="spacingAndGlyphs">PA8</text>
<text x="981.3" y="175.7" font-size="22" font-weight="bold" textLength="103.4" lengthAdjust="spacingAndGlyphs">0,0001µM</text>
<text x="981.3" y="203.8" font-size="22" font-weight="bold" textLength="43.0" lengthAdjust="spacingAndGlyphs">PA8</text>
<text x="1230.5" y="406.2" font-size="23" font-weight="bold" textLength="82.0" lengthAdjust="spacingAndGlyphs">Control</text>
<line x1="1044.25" y1="413.50" x2="1044.25" y2="291.50" stroke="#000" stroke-width="2.6" />
<polygon points="1037.12,292.50 1044.25,278.75 1051.38,292.50" fill="#000"/>
<line x1="1043.00" y1="412.50" x2="1173.50" y2="412.50" stroke="#000" stroke-width="2.6" />
<polygon points="1172.50,406.25 1186.25,412.50 1172.50,418.75" fill="#000"/>
<text transform="translate(1017,364.4) rotate(-90)" font-size="23.5" text-anchor="middle" textLength="101" lengthAdjust="spacingAndGlyphs">CellTrace</text>
<text x="1061.2" y="432.5" font-size="23.5" textLength="61.2" lengthAdjust="spacingAndGlyphs">CFSE</text>
<line x1="1860.75" y1="62.00" x2="1860.75" y2="352.50" stroke="#000" stroke-width="2.6" />
<text x="1877.5" y="205.5" font-size="28" textLength="43.8" lengthAdjust="spacingAndGlyphs">WT</text>
<line x1="1866.70" y1="503.00" x2="1866.70" y2="792.70" stroke="#000" stroke-width="2.6" />
<text x="1868.5" y="651.0" font-size="28" textLength="49.0" lengthAdjust="spacingAndGlyphs">Bim</text>
<text x="1917.5" y="640.0" font-size="18.5" textLength="23.0" lengthAdjust="spacingAndGlyphs">+/-</text>
<line x1="1861.50" y1="843.90" x2="1861.50" y2="1133.80" stroke="#000" stroke-width="2.6" />
<text x="1868.7" y="985.4" font-size="28" textLength="49.0" lengthAdjust="spacingAndGlyphs">Bim</text>
<text x="1917.7" y="973.0" font-size="18.5" textLength="17.0" lengthAdjust="spacingAndGlyphs">-/-</text>
<text x="1108.0" y="1200.4" font-size="27" textLength="14.0" lengthAdjust="spacingAndGlyphs">0</text>
<text x="1162.4" y="1200.4" font-size="27" textLength="29.5" lengthAdjust="spacingAndGlyphs">10</text>
<text x="1192.4" y="1188.0" font-size="18" textLength="9.5" lengthAdjust="spacingAndGlyphs">2</text>
<text x="1238.4" y="1200.4" font-size="27" textLength="29.5" lengthAdjust="spacingAndGlyphs">10</text>
<text x="1268.4" y="1188.0" font-size="18" textLength="9.5" lengthAdjust="spacingAndGlyphs">3</text>
<text x="1316.4" y="1200.4" font-size="27" textLength="29.5" lengthAdjust="spacingAndGlyphs">10</text>
<text x="1346.4" y="1188.0" font-size="18" textLength="9.5" lengthAdjust="spacingAndGlyphs">4</text>
<text x="1391.4" y="1200.4" font-size="27" textLength="29.5" lengthAdjust="spacingAndGlyphs">10</text>
<text x="1421.4" y="1188.0" font-size="18" textLength="9.5" lengthAdjust="spacingAndGlyphs">5</text>
<text x="1054.4" y="860.0" font-size="27" textLength="29.5" lengthAdjust="spacingAndGlyphs">10</text>
<text x="1084.4" y="847.5" font-size="18" textLength="9.5" lengthAdjust="spacingAndGlyphs">5</text>
<text x="1054.4" y="929.8" font-size="27" textLength="29.5" lengthAdjust="spacingAndGlyphs">10</text>
<text x="1084.4" y="917.3" font-size="18" textLength="9.5" lengthAdjust="spacingAndGlyphs">4</text>
<text x="1054.4" y="1000.8" font-size="27" textLength="29.5" lengthAdjust="spacingAndGlyphs">10</text>
<text x="1084.4" y="988.3" font-size="18" textLength="9.5" lengthAdjust="spacingAndGlyphs">3</text>
<text x="1054.4" y="1079.2" font-size="27" textLength="29.5" lengthAdjust="spacingAndGlyphs">10</text>
<text x="1084.4" y="1066.7" font-size="18" textLength="9.5" lengthAdjust="spacingAndGlyphs">2</text>
<text x="1069.0" y="1150.2" font-size="27" textLength="14.0" lengthAdjust="spacingAndGlyphs">0</text>
<text x="1510.8" y="1200.4" font-size="27" textLength="14.0" lengthAdjust="spacingAndGlyphs">0</text>
<text x="1565.2" y="1200.4" font-size="27" textLength="29.5" lengthAdjust="spacingAndGlyphs">10</text>
<text x="1595.2" y="1188.0" font-size="18" textLength="9.5" lengthAdjust="spacingAndGlyphs">2</text>
<text x="1641.2" y="1200.4" font-size="27" textLength="29.5" lengthAdjust="spacingAndGlyphs">10</text>
<text x="1671.2" y="1188.0" font-size="18" textLength="9.5" lengthAdjust="spacingAndGlyphs">3</text>
<text x="1719.2" y="1200.4" font-size="27" textLength="29.5" lengthAdjust="spacingAndGlyphs">10</text>
<text x="1749.2" y="1188.0" font-size="18" textLength="9.5" lengthAdjust="spacingAndGlyphs">4</text>
<text x="1794.2" y="1200.4" font-size="27" textLength="29.5" lengthAdjust="spacingAndGlyphs">10</text>
<text x="1824.2" y="1188.0" font-size="18" textLength="9.5" lengthAdjust="spacingAndGlyphs">5</text>
<text x="1457.2" y="861.5" font-size="27" textLength="29.5" lengthAdjust="spacingAndGlyphs">10</text>
<text x="1487.2" y="849.0" font-size="18" textLength="9.5" lengthAdjust="spacingAndGlyphs">5</text>
<text x="1457.2" y="931.3" font-size="27" textLength="29.5" lengthAdjust="spacingAndGlyphs">10</text>
<text x="1487.2" y="918.8" font-size="18" textLength="9.5" lengthAdjust="spacingAndGlyphs">4</text>
<text x="1457.2" y="1002.3" font-size="27" textLength="29.5" lengthAdjust="spacingAndGlyphs">10</text>
<text x="1487.2" y="989.8" font-size="18" textLength="9.5" lengthAdjust="spacingAndGlyphs">3</text>
<text x="1457.2" y="1080.7" font-size="27" textLength="29.5" lengthAdjust="spacingAndGlyphs">10</text>
<text x="1487.2" y="1068.2" font-size="18" textLength="9.5" lengthAdjust="spacingAndGlyphs">2</text>
<text x="1471.8" y="1151.7" font-size="27" textLength="14.0" lengthAdjust="spacingAndGlyphs">0</text>
<line x1="1118.00" y1="1225.00" x2="1407.00" y2="1225.00" stroke="#333" stroke-width="1.4" />
<text x="1181.6" y="1264.0" font-size="27.5" textLength="161.7" lengthAdjust="spacingAndGlyphs">Non-Infected</text>
<line x1="1509.00" y1="1222.90" x2="1797.70" y2="1222.90" stroke="#333" stroke-width="1.4" />
<text x="1603.6" y="1261.4" font-size="27.5" textLength="99.7" lengthAdjust="spacingAndGlyphs">Infected</text>
<text x="2.0" y="1329.0" font-size="44" font-weight="bold" textLength="25.0" lengthAdjust="spacingAndGlyphs">b</text>
<text x="6.0" y="27.3" font-size="38" font-weight="bold" textLength="22.2" lengthAdjust="spacingAndGlyphs">a</text>
<text x="199.5" y="1343.0" font-size="43.5" textLength="247.3" lengthAdjust="spacingAndGlyphs">Non-Infected</text>
<line x1="139.60" y1="1353.20" x2="488.00" y2="1353.20" stroke="#000" stroke-width="2.8" />
<text x="671.5" y="1343.0" font-size="43.5" textLength="151.6" lengthAdjust="spacingAndGlyphs">Infected</text>
<line x1="568.60" y1="1354.50" x2="917.00" y2="1354.50" stroke="#000" stroke-width="2.8" />
<text x="175.0" y="1409.8" font-size="38" font-weight="bold" textLength="71.8" lengthAdjust="spacingAndGlyphs">PA8</text>
<text x="390.4" y="1409.8" font-size="38" font-weight="bold" textLength="37.8" lengthAdjust="spacingAndGlyphs">(-)</text>
<text x="614.4" y="1413.0" font-size="38" font-weight="bold" textLength="71.8" lengthAdjust="spacingAndGlyphs">PA8</text>
<text x="828.5" y="1413.0" font-size="38" font-weight="bold" textLength="37.2" lengthAdjust="spacingAndGlyphs">(-)</text>
<text x="41.0" y="1542.2" font-size="40.5" font-weight="bold" textLength="62.2" lengthAdjust="spacingAndGlyphs">WT</text>
<text x="0.0" y="1726.4" font-size="39" font-weight="bold" textLength="71.6" lengthAdjust="spacingAndGlyphs">Bim</text>
<text x="74.6" y="1712.5" font-size="26" font-weight="bold" textLength="32.2" lengthAdjust="spacingAndGlyphs">+/-</text>
<text x="4.7" y="1924.7" font-size="39" font-weight="bold" textLength="72.7" lengthAdjust="spacingAndGlyphs">Bim</text>
<text x="79.8" y="1906.0" font-size="26" font-weight="bold" textLength="24.6" lengthAdjust="spacingAndGlyphs">-/-</text>
<defs>
<radialGradient id="wbg" cx="0.5" cy="0.5" r="0.5">
 <stop offset="0" stop-color="#ddc9c5"/><stop offset="0.86" stop-color="#ddc9c5"/><stop offset="0.9" stop-color="#d8c6c4"/>
 <stop offset="0.945" stop-color="#c2b4bc"/><stop offset="0.975" stop-color="#dacfd7"/><stop offset="1" stop-color="#ede5ed"/>
</radialGradient>
<filter id="wtex" x="0" y="0" width="100%" height="100%" color-interpolation-filters="sRGB">
 <feTurbulence type="fractalNoise" baseFrequency="0.025" numOctaves="2" seed="4" result="n"/>
 <feColorMatrix in="n" type="matrix" values="0 0 0 0 0.62  0 0 0 0 0.45  0 0 0 0 0.4  0 0 0 -0.5 0.3"/>
 <feComposite in2="SourceGraphic" operator="in"/>
</filter>
</defs>
<clipPath id="cp15"><rect x="122.30" y="1429.50" width="185.20" height="182.50"/></clipPath>
<g clip-path="url(#cp15)"><rect x="122.3" y="1429.5" width="185.2" height="182.5" fill="#f1eaf1"/><polygon points="122.3,1429.5 144.3,1429.5 122.3,1449.5" fill="#201818"/><polygon points="307.5,1429.5 283.5,1429.5 307.5,1451.5" fill="#201818"/><polygon points="122.3,1612.0 136.3,1612.0 122.3,1600.0" fill="#8a8088" fill-opacity="0.35"/><polygon points="307.5,1612.0 293.5,1612.0 307.5,1600.0" fill="#8a8088" fill-opacity="0.35"/><circle cx="214.9" cy="1521.8" r="96.6" fill="url(#wbg)"/><g filter="url(#b3)"><path d="M 144.3 1571.8 A 88 88 0 0 1 162.3 1449.5" fill="none" stroke="#fbf6f8" stroke-width="6" stroke-opacity="0.75"/></g><circle cx="208.9" cy="1523.8" r="79" fill="#dfc0b4"/><circle cx="208.9" cy="1523.8" r="79" fill="#fff" filter="url(#wtex)"/><g filter="url(#b1)"><circle cx="208.9" cy="1523.8" r="81" fill="none" stroke="#fffbee" stroke-width="3.6"/></g></g>
<clipPath id="cp16"><rect x="320.20" y="1429.50" width="185.20" height="182.50"/></clipPath>
<g clip-path="url(#cp16)"><rect x="320.2" y="1429.5" width="185.2" height="182.5" fill="#f1eaf1"/><polygon points="320.2,1429.5 342.2,1429.5 320.2,1449.5" fill="#201818"/><polygon points="505.4,1429.5 481.4,1429.5 505.4,1451.5" fill="#201818"/><polygon points="320.2,1612.0 334.2,1612.0 320.2,1600.0" fill="#8a8088" fill-opacity="0.35"/><polygon points="505.4,1612.0 491.4,1612.0 505.4,1600.0" fill="#8a8088" fill-opacity="0.35"/><circle cx="412.8" cy="1521.8" r="96.6" fill="url(#wbg)"/><g filter="url(#b3)"><path d="M 342.2 1571.8 A 88 88 0 0 1 360.2 1449.5" fill="none" stroke="#fbf6f8" stroke-width="6" stroke-opacity="0.75"/></g><circle cx="406.8" cy="1523.8" r="79" fill="#e2c4b8"/><circle cx="406.8" cy="1523.8" r="79" fill="#fff" filter="url(#wtex)"/><g filter="url(#b1)"><circle cx="406.8" cy="1523.8" r="81" fill="none" stroke="#fffbee" stroke-width="3.6"/></g></g>
<clipPath id="cp17"><rect x="551.80" y="1433.40" width="185.40" height="184.00"/></clipPath>
<g clip-path="url(#cp17)"><rect x="551.8" y="1433.4" width="185.4" height="184.0" fill="#f1eaf1"/><polygon points="551.8,1433.4 573.8,1433.4 551.8,1453.4" fill="#201818"/><polygon points="737.1999999999999,1433.4 713.1999999999999,1433.4 737.1999999999999,1455.4" fill="#201818"/><polygon points="551.8,1617.4 565.8,1617.4 551.8,1605.4" fill="#8a8088" fill-opacity="0.35"/><polygon points="737.1999999999999,1617.4 723.1999999999999,1617.4 737.1999999999999,1605.4" fill="#8a8088" fill-opacity="0.35"/><circle cx="644.5" cy="1526.4" r="96.7" fill="url(#wbg)"/><g filter="url(#b3)"><path d="M 573.8 1576.9 A 88 88 0 0 1 591.8 1453.4" fill="none" stroke="#fbf6f8" stroke-width="6" stroke-opacity="0.75"/></g><circle cx="642.5" cy="1528.4" r="79" fill="#eed2c8"/><circle cx="642.5" cy="1528.4" r="79" fill="#fff" filter="url(#wtex)"/><g filter="url(#b1)"><circle cx="642.5" cy="1528.4" r="81" fill="none" stroke="#fffbee" stroke-width="3.6"/></g><g filter="url(#b1)"><circle cx="707.3" cy="1506.4" r="2.1" fill="#a88878" fill-opacity="0.35"/><circle cx="652.9" cy="1510.9" r="3.4" fill="#a88878" fill-opacity="0.35"/><circle cx="622.0" cy="1581.9" r="3.2" fill="#a88878" fill-opacity="0.35"/><circle cx="594.9" cy="1501.8" r="2.3" fill="#a88878" fill-opacity="0.35"/><circle cx="606.5" cy="1556.9" r="3.4" fill="#a88878" fill-opacity="0.35"/><circle cx="708.8" cy="1506.6" r="3.1" fill="#a88878" fill-opacity="0.35"/><circle cx="637.2" cy="1574.8" r="2.1" fill="#a88878" fill-opacity="0.35"/><circle cx="631.2" cy="1530.9" r="2.6" fill="#a88878" fill-opacity="0.35"/><circle cx="676.1" cy="1501.3" r="3.0" fill="#a88878" fill-opacity="0.35"/><circle cx="647.1" cy="1580.6" r="2.0" fill="#a88878" fill-opacity="0.35"/><circle cx="668.6" cy="1558.6" r="3.0" fill="#a88878" fill-opacity="0.35"/><circle cx="610.5" cy="1466.2" r="2.3" fill="#a88878" fill-opacity="0.35"/><circle cx="661.7" cy="1465.1" r="3.4" fill="#a88878" fill-opacity="0.35"/><circle cx="647.9" cy="1462.0" r="3.5" fill="#a88878" fill-opacity="0.35"/><circle cx="683.8" cy="1523.4" r="3.9" fill="#a88878" fill-opacity="0.35"/><circle cx="643.2" cy="1500.3" r="3.4" fill="#a88878" fill-opacity="0.35"/><circle cx="595.8" cy="1519.4" r="3.0" fill="#a88878" fill-opacity="0.35"/><circle cx="575.2" cy="1528.0" r="3.6" fill="#a88878" fill-opacity="0.35"/><circle cx="673.4" cy="1500.4" r="3.8" fill="#a88878" fill-opacity="0.35"/><circle cx="599.2" cy="1508.8" r="3.8" fill="#a88878" fill-opacity="0.35"/><circle cx="583.2" cy="1533.4" r="2.4" fill="#a88878" fill-opacity="0.35"/><circle cx="630.1" cy="1490.5" r="2.3" fill="#a88878" fill-opacity="0.35"/><circle cx="634.9" cy="1594.7" r="3.8" fill="#a88878" fill-opacity="0.35"/><circle cx="680.1" cy="1518.1" r="3.4" fill="#a88878" fill-opacity="0.35"/><circle cx="593.1" cy="1522.9" r="3.3" fill="#a88878" fill-opacity="0.35"/><circle cx="622.2" cy="1578.1" r="2.4" fill="#a88878" fill-opacity="0.35"/><circle cx="688.4" cy="1508.3" r="3.2" fill="#a88878" fill-opacity="0.35"/><circle cx="650.7" cy="1511.0" r="3.4" fill="#a88878" fill-opacity="0.35"/><circle cx="666.5" cy="1590.6" r="3.5" fill="#a88878" fill-opacity="0.35"/><circle cx="632.8" cy="1514.5" r="2.5" fill="#a88878" fill-opacity="0.35"/><circle cx="666.1" cy="1504.9" r="2.2" fill="#a88878" fill-opacity="0.35"/><circle cx="673.2" cy="1488.2" r="2.5" fill="#a88878" fill-opacity="0.35"/><circle cx="666.0" cy="1506.5" r="2.8" fill="#a88878" fill-opacity="0.35"/><circle cx="700.6" cy="1540.2" r="2.7" fill="#a88878" fill-opacity="0.35"/><circle cx="607.3" cy="1461.6" r="2.5" fill="#a88878" fill-opacity="0.35"/><circle cx="724.0" cy="1541.5" r="4.0" fill="#a88878" fill-opacity="0.35"/><circle cx="639.8" cy="1602.5" r="4.2" fill="#a88878" fill-opacity="0.35"/><circle cx="673.0" cy="1597.4" r="4.0" fill="#a88878" fill-opacity="0.35"/><circle cx="717.1" cy="1549.2" r="4.7" fill="#a88878" fill-opacity="0.35"/><circle cx="715.9" cy="1545.4" r="3.1" fill="#a88878" fill-opacity="0.35"/><circle cx="638.7" cy="1449.0" r="2.6" fill="#a88878" fill-opacity="0.35"/><circle cx="718.1" cy="1543.2" r="3.4" fill="#a88878" fill-opacity="0.35"/><circle cx="637.4" cy="1447.7" r="4.5" fill="#a88878" fill-opacity="0.35"/><circle cx="695.0" cy="1466.9" r="4.0" fill="#a88878" fill-opacity="0.35"/><circle cx="654.5" cy="1605.7" r="3.9" fill="#a88878" fill-opacity="0.35"/><circle cx="704.1" cy="1574.4" r="3.4" fill="#a88878" fill-opacity="0.35"/><circle cx="699.5" cy="1587.2" r="3.7" fill="#a88878" fill-opacity="0.35"/><circle cx="565.3" cy="1521.2" r="2.7" fill="#a88878" fill-opacity="0.35"/><circle cx="637.8" cy="1610.9" r="3.8" fill="#a88878" fill-opacity="0.35"/><circle cx="719.8" cy="1537.2" r="3.6" fill="#a88878" fill-opacity="0.35"/><circle cx="707.3" cy="1506.4" r="1.2" fill="#7a5a4c" fill-opacity="0.75"/><circle cx="652.9" cy="1510.9" r="1.9" fill="#7a5a4c" fill-opacity="0.75"/><circle cx="622.0" cy="1581.9" r="1.8" fill="#7a5a4c" fill-opacity="0.75"/><circle cx="594.9" cy="1501.8" r="1.3" fill="#7a5a4c" fill-opacity="0.75"/><circle cx="606.5" cy="1556.9" r="1.9" fill="#7a5a4c" fill-opacity="0.75"/><circle cx="708.8" cy="1506.6" r="1.7" fill="#7a5a4c" fill-opacity="0.75"/><circle cx="637.2" cy="1574.8" r="1.1" fill="#7a5a4c" fill-opacity="0.75"/><circle cx="631.2" cy="1530.9" r="1.5" fill="#7a5a4c" fill-opacity="0.75"/><circle cx="676.1" cy="1501.3" r="1.7" fill="#7a5a4c" fill-opacity="0.75"/><circle cx="647.1" cy="1580.6" r="1.1" fill="#7a5a4c" fill-opacity="0.75"/><circle cx="668.6" cy="1558.6" r="1.7" fill="#7a5a4c" fill-opacity="0.75"/><circle cx="610.5" cy="1466.2" r="1.3" fill="#7a5a4c" fill-opacity="0.75"/><circle cx="661.7" cy="1465.1" r="1.9" fill="#7a5a4c" fill-opacity="0.75"/><circle cx="647.9" cy="1462.0" r="2.0" fill="#7a5a4c" fill-opacity="0.75"/><circle cx="683.8" cy="1523.4" r="2.2" fill="#7a5a4c" fill-opacity="0.75"/><circle cx="643.2" cy="1500.3" r="1.9" fill="#7a5a4c" fill-opacity="0.75"/><circle cx="595.8" cy="1519.4" r="1.6" fill="#7a5a4c" fill-opacity="0.75"/><circle cx="575.2" cy="1528.0" r="2.0" fill="#7a5a4c" fill-opacity="0.75"/><circle cx="673.4" cy="1500.4" r="2.1" fill="#7a5a4c" fill-opacity="0.75"/><circle cx="599.2" cy="1508.8" r="2.1" fill="#7a5a4c" fill-opacity="0.75"/><circle cx="583.2" cy="1533.4" r="1.3" fill="#7a5a4c" fill-opacity="0.75"/><circle cx="630.1" cy="1490.5" r="1.3" fill="#7a5a4c" fill-opacity="0.75"/><circle cx="634.9" cy="1594.7" r="2.1" fill="#7a5a4c" fill-opacity="0.75"/><circle cx="680.1" cy="1518.1" r="1.9" fill="#7a5a4c" fill-opacity="0.75"/><circle cx="593.1" cy="1522.9" r="1.8" fill="#7a5a4c" fill-opacity="0.75"/><circle cx="622.2" cy="1578.1" r="1.3" fill="#7a5a4c" fill-opacity="0.75"/><circle cx="688.4" cy="1508.3" r="1.8" fill="#7a5a4c" fill-opacity="0.75"/><circle cx="650.7" cy="1511.0" r="1.9" fill="#7a5a4c" fill-opacity="0.75"/><circle cx="666.5" cy="1590.6" r="1.9" fill="#7a5a4c" fill-opacity="0.75"/><circle cx="632.8" cy="1514.5" r="1.4" fill="#7a5a4c" fill-opacity="0.75"/><circle cx="666.1" cy="1504.9" r="1.2" fill="#7a5a4c" fill-opacity="0.75"/><circle cx="673.2" cy="1488.2" r="1.4" fill="#7a5a4c" fill-opacity="0.75"/><circle cx="666.0" cy="1506.5" r="1.6" fill="#7a5a4c" fill-opacity="0.75"/><circle cx="700.6" cy="1540.2" r="1.5" fill="#7a5a4c" fill-opacity="0.75"/><circle cx="607.3" cy="1461.6" r="1.4" fill="#9a7450" fill-opacity="0.75"/><circle cx="724.0" cy="1541.5" r="2.2" fill="#9a7450" fill-opacity="0.75"/><circle cx="639.8" cy="1602.5" r="2.4" fill="#9a7450" fill-opacity="0.75"/><circle cx="673.0" cy="1597.4" r="2.2" fill="#9a7450" fill-opacity="0.75"/><circle cx="717.1" cy="1549.2" r="2.6" fill="#9a7450" fill-opacity="0.75"/><circle cx="715.9" cy="1545.4" r="1.7" fill="#9a7450" fill-opacity="0.75"/><circle cx="638.7" cy="1449.0" r="1.4" fill="#9a7450" fill-opacity="0.75"/><circle cx="718.1" cy="1543.2" r="1.9" fill="#9a7450" fill-opacity="0.75"/><circle cx="637.4" cy="1447.7" r="2.5" fill="#9a7450" fill-opacity="0.75"/><circle cx="695.0" cy="1466.9" r="2.2" fill="#9a7450" fill-opacity="0.75"/><circle cx="654.5" cy="1605.7" r="2.2" fill="#9a7450" fill-opacity="0.75"/><circle cx="704.1" cy="1574.4" r="1.9" fill="#9a7450" fill-opacity="0.75"/><circle cx="699.5" cy="1587.2" r="2.1" fill="#9a7450" fill-opacity="0.75"/><circle cx="565.3" cy="1521.2" r="1.5" fill="#9a7450" fill-opacity="0.75"/><circle cx="637.8" cy="1610.9" r="2.1" fill="#9a7450" fill-opacity="0.75"/><circle cx="719.8" cy="1537.2" r="2.0" fill="#9a7450" fill-opacity="0.75"/></g></g>
<clipPath id="cp18"><rect x="750.30" y="1433.40" width="184.60" height="184.00"/></clipPath>
<g clip-path="url(#cp18)"><rect x="750.3" y="1433.4" width="184.6" height="184.0" fill="#f1eaf1"/><polygon points="750.3,1433.4 772.3,1433.4 750.3,1453.4" fill="#201818"/><polygon points="934.9,1433.4 910.9,1433.4 934.9,1455.4" fill="#201818"/><polygon points="750.3,1617.4 764.3,1617.4 750.3,1605.4" fill="#8a8088" fill-opacity="0.35"/><polygon points="934.9,1617.4 920.9,1617.4 934.9,1605.4" fill="#8a8088" fill-opacity="0.35"/><circle cx="842.6" cy="1526.4" r="96.3" fill="url(#wbg)"/><g filter="url(#b3)"><path d="M 772.3 1576.9 A 88 88 0 0 1 790.3 1453.4" fill="none" stroke="#fbf6f8" stroke-width="6" stroke-opacity="0.75"/></g><circle cx="847.6" cy="1528.4" r="79" fill="#ecd2c9"/><circle cx="847.6" cy="1528.4" r="79" fill="#fff" filter="url(#wtex)"/><g filter="url(#b1)"><circle cx="847.6" cy="1528.4" r="81" fill="none" stroke="#fffbee" stroke-width="3.6"/></g><g filter="url(#b1)"><circle cx="814.8" cy="1519.0" r="2.7" fill="#a88878" fill-opacity="0.35"/><circle cx="809.3" cy="1489.8" r="2.1" fill="#a88878" fill-opacity="0.35"/><circle cx="851.8" cy="1521.6" r="2.5" fill="#a88878" fill-opacity="0.35"/><circle cx="881.5" cy="1527.5" r="2.9" fill="#a88878" fill-opacity="0.35"/><circle cx="784.3" cy="1537.9" r="3.2" fill="#a88878" fill-opacity="0.35"/><circle cx="829.6" cy="1508.0" r="3.7" fill="#a88878" fill-opacity="0.35"/><circle cx="843.3" cy="1449.8" r="3.9" fill="#a88878" fill-opacity="0.35"/><circle cx="851.5" cy="1453.9" r="3.7" fill="#a88878" fill-opacity="0.35"/><circle cx="922.9" cy="1543.3" r="4.4" fill="#a88878" fill-opacity="0.35"/><circle cx="832.4" cy="1451.6" r="4.4" fill="#a88878" fill-opacity="0.35"/><circle cx="918.3" cy="1490.1" r="3.3" fill="#a88878" fill-opacity="0.35"/><circle cx="771.3" cy="1556.1" r="4.5" fill="#a88878" fill-opacity="0.35"/><circle cx="914.6" cy="1575.5" r="2.7" fill="#a88878" fill-opacity="0.35"/><circle cx="921.8" cy="1512.1" r="3.4" fill="#a88878" fill-opacity="0.35"/><circle cx="822.5" cy="1604.0" r="3.5" fill="#a88878" fill-opacity="0.35"/><circle cx="801.7" cy="1590.8" r="3.7" fill="#a88878" fill-opacity="0.35"/><circle cx="912.9" cy="1483.5" r="3.9" fill="#a88878" fill-opacity="0.35"/><circle cx="898.7" cy="1463.8" r="4.7" fill="#a88878" fill-opacity="0.35"/><circle cx="889.2" cy="1596.8" r="4.4" fill="#a88878" fill-opacity="0.35"/><circle cx="915.9" cy="1481.8" r="3.7" fill="#a88878" fill-opacity="0.35"/><circle cx="867.0" cy="1606.4" r="4.3" fill="#a88878" fill-opacity="0.35"/><circle cx="830.4" cy="1605.7" r="2.5" fill="#a88878" fill-opacity="0.35"/><circle cx="814.8" cy="1519.0" r="1.5" fill="#7a5a4c" fill-opacity="0.75"/><circle cx="809.3" cy="1489.8" r="1.2" fill="#7a5a4c" fill-opacity="0.75"/><circle cx="851.8" cy="1521.6" r="1.4" fill="#7a5a4c" fill-opacity="0.75"/><circle cx="881.5" cy="1527.5" r="1.6" fill="#7a5a4c" fill-opacity="0.75"/><circle cx="784.3" cy="1537.9" r="1.8" fill="#7a5a4c" fill-opacity="0.75"/><circle cx="829.6" cy="1508.0" r="2.1" fill="#7a5a4c" fill-opacity="0.75"/><circle cx="843.3" cy="1449.8" r="2.2" fill="#9a7450" fill-opacity="0.75"/><circle cx="851.5" cy="1453.9" r="2.1" fill="#9a7450" fill-opacity="0.75"/><circle cx="922.9" cy="1543.3" r="2.4" fill="#9a7450" fill-opacity="0.75"/><circle cx="832.4" cy="1451.6" r="2.4" fill="#9a7450" fill-opacity="0.75"/><circle cx="918.3" cy="1490.1" r="1.8" fill="#9a7450" fill-opacity="0.75"/><circle cx="771.3" cy="1556.1" r="2.5" fill="#9a7450" fill-opacity="0.75"/><circle cx="914.6" cy="1575.5" r="1.5" fill="#9a7450" fill-opacity="0.75"/><circle cx="921.8" cy="1512.1" r="1.9" fill="#9a7450" fill-opacity="0.75"/><circle cx="822.5" cy="1604.0" r="2.0" fill="#9a7450" fill-opacity="0.75"/><circle cx="801.7" cy="1590.8" r="2.1" fill="#9a7450" fill-opacity="0.75"/><circle cx="912.9" cy="1483.5" r="2.2" fill="#9a7450" fill-opacity="0.75"/><circle cx="898.7" cy="1463.8" r="2.6" fill="#9a7450" fill-opacity="0.75"/><circle cx="889.2" cy="1596.8" r="2.4" fill="#9a7450" fill-opacity="0.75"/><circle cx="915.9" cy="1481.8" r="2.0" fill="#9a7450" fill-opacity="0.75"/><circle cx="867.0" cy="1606.4" r="2.4" fill="#9a7450" fill-opacity="0.75"/><circle cx="830.4" cy="1605.7" r="1.4" fill="#9a7450" fill-opacity="0.75"/></g></g>
<clipPath id="cp19"><rect x="122.30" y="1627.70" width="185.20" height="183.50"/></clipPath>
<g clip-path="url(#cp19)"><rect x="122.3" y="1627.7" width="185.2" height="183.5" fill="#f1eaf1"/><polygon points="122.3,1627.7 144.3,1627.7 122.3,1647.7" fill="#201818"/><polygon points="307.5,1627.7 283.5,1627.7 307.5,1649.7" fill="#201818"/><polygon points="122.3,1811.2 136.3,1811.2 122.3,1799.2" fill="#8a8088" fill-opacity="0.35"/><polygon points="307.5,1811.2 293.5,1811.2 307.5,1799.2" fill="#8a8088" fill-opacity="0.35"/><circle cx="214.9" cy="1720.5" r="96.6" fill="url(#wbg)"/><g filter="url(#b3)"><path d="M 144.3 1770.8 A 88 88 0 0 1 162.3 1647.7" fill="none" stroke="#fbf6f8" stroke-width="6" stroke-opacity="0.75"/></g><circle cx="208.9" cy="1722.5" r="79" fill="#eedcda"/><circle cx="208.9" cy="1722.5" r="79" fill="#fff" filter="url(#wtex)"/><g filter="url(#b1)"><circle cx="208.9" cy="1722.5" r="81" fill="none" stroke="#fffbee" stroke-width="3.6"/></g></g>
<clipPath id="cp20"><rect x="320.20" y="1627.70" width="185.20" height="183.50"/></clipPath>
<g clip-path="url(#cp20)"><rect x="320.2" y="1627.7" width="185.2" height="183.5" fill="#f1eaf1"/><polygon points="320.2,1627.7 342.2,1627.7 320.2,1647.7" fill="#201818"/><polygon points="505.4,1627.7 481.4,1627.7 505.4,1649.7" fill="#201818"/><polygon points="320.2,1811.2 334.2,1811.2 320.2,1799.2" fill="#8a8088" fill-opacity="0.35"/><polygon points="505.4,1811.2 491.4,1811.2 505.4,1799.2" fill="#8a8088" fill-opacity="0.35"/><circle cx="412.8" cy="1720.5" r="96.6" fill="url(#wbg)"/><g filter="url(#b3)"><path d="M 342.2 1770.8 A 88 88 0 0 1 360.2 1647.7" fill="none" stroke="#fbf6f8" stroke-width="6" stroke-opacity="0.75"/></g><circle cx="406.8" cy="1722.5" r="79" fill="#e4c6ba"/><circle cx="406.8" cy="1722.5" r="79" fill="#fff" filter="url(#wtex)"/><g filter="url(#b1)"><circle cx="406.8" cy="1722.5" r="81" fill="none" stroke="#fffbee" stroke-width="3.6"/></g></g>
<clipPath id="cp21"><rect x="551.80" y="1629.60" width="185.40" height="184.00"/></clipPath>
<g clip-path="url(#cp21)"><rect x="551.8" y="1629.6" width="185.4" height="184.0" fill="#f1eaf1"/><polygon points="551.8,1629.6 573.8,1629.6 551.8,1649.6" fill="#201818"/><polygon points="737.1999999999999,1629.6 713.1999999999999,1629.6 737.1999999999999,1651.6" fill="#201818"/><polygon points="551.8,1813.6 565.8,1813.6 551.8,1801.6" fill="#8a8088" fill-opacity="0.35"/><polygon points="737.1999999999999,1813.6 723.1999999999999,1813.6 737.1999999999999,1801.6" fill="#8a8088" fill-opacity="0.35"/><circle cx="644.5" cy="1722.6" r="96.7" fill="url(#wbg)"/><g filter="url(#b3)"><path d="M 573.8 1773.1 A 88 88 0 0 1 591.8 1649.6" fill="none" stroke="#fbf6f8" stroke-width="6" stroke-opacity="0.75"/></g><circle cx="642.5" cy="1724.6" r="79" fill="#e2c6bb"/><circle cx="642.5" cy="1724.6" r="79" fill="#fff" filter="url(#wtex)"/><g filter="url(#b1)"><circle cx="642.5" cy="1724.6" r="81" fill="none" stroke="#fffbee" stroke-width="3.6"/></g><g filter="url(#b1)"><circle cx="616.0" cy="1684.3" r="3.3" fill="#a88878" fill-opacity="0.35"/><circle cx="668.9" cy="1726.4" r="2.7" fill="#a88878" fill-opacity="0.35"/><circle cx="656.1" cy="1690.6" r="3.3" fill="#a88878" fill-opacity="0.35"/><circle cx="591.8" cy="1705.2" r="3.3" fill="#a88878" fill-opacity="0.35"/><circle cx="617.7" cy="1734.4" r="2.3" fill="#a88878" fill-opacity="0.35"/><circle cx="704.6" cy="1748.7" r="3.6" fill="#a88878" fill-opacity="0.35"/><circle cx="635.1" cy="1707.0" r="2.6" fill="#a88878" fill-opacity="0.35"/><circle cx="666.9" cy="1687.4" r="2.0" fill="#a88878" fill-opacity="0.35"/><circle cx="657.4" cy="1715.8" r="3.0" fill="#a88878" fill-opacity="0.35"/><circle cx="663.5" cy="1722.9" r="3.9" fill="#a88878" fill-opacity="0.35"/><circle cx="621.7" cy="1735.5" r="2.2" fill="#a88878" fill-opacity="0.35"/><circle cx="614.2" cy="1697.6" r="2.3" fill="#a88878" fill-opacity="0.35"/><circle cx="697.9" cy="1743.1" r="2.3" fill="#a88878" fill-opacity="0.35"/><circle cx="591.2" cy="1761.6" r="2.8" fill="#a88878" fill-opacity="0.35"/><circle cx="589.0" cy="1732.5" r="2.7" fill="#a88878" fill-opacity="0.35"/><circle cx="640.7" cy="1712.5" r="3.9" fill="#a88878" fill-opacity="0.35"/><circle cx="606.8" cy="1665.4" r="2.7" fill="#a88878" fill-opacity="0.35"/><circle cx="627.0" cy="1685.4" r="3.3" fill="#a88878" fill-opacity="0.35"/><circle cx="644.7" cy="1748.1" r="2.7" fill="#a88878" fill-opacity="0.35"/><circle cx="661.0" cy="1678.1" r="3.0" fill="#a88878" fill-opacity="0.35"/><circle cx="647.7" cy="1714.1" r="2.8" fill="#a88878" fill-opacity="0.35"/><circle cx="651.3" cy="1774.3" r="2.8" fill="#a88878" fill-opacity="0.35"/><circle cx="648.5" cy="1681.4" r="2.2" fill="#a88878" fill-opacity="0.35"/><circle cx="665.2" cy="1771.3" r="3.4" fill="#a88878" fill-opacity="0.35"/><circle cx="640.3" cy="1737.9" r="2.7" fill="#a88878" fill-opacity="0.35"/><circle cx="695.4" cy="1742.5" r="2.9" fill="#a88878" fill-opacity="0.35"/><circle cx="636.1" cy="1755.9" r="2.9" fill="#a88878" fill-opacity="0.35"/><circle cx="574.4" cy="1732.8" r="3.9" fill="#a88878" fill-opacity="0.35"/><circle cx="668.0" cy="1711.5" r="2.7" fill="#a88878" fill-opacity="0.35"/><circle cx="642.2" cy="1694.2" r="3.8" fill="#a88878" fill-opacity="0.35"/><circle cx="641.8" cy="1730.3" r="3.5" fill="#a88878" fill-opacity="0.35"/><circle cx="644.7" cy="1765.5" r="2.0" fill="#a88878" fill-opacity="0.35"/><circle cx="632.2" cy="1715.1" r="3.9" fill="#a88878" fill-opacity="0.35"/><circle cx="572.6" cy="1723.0" r="2.0" fill="#a88878" fill-opacity="0.35"/><circle cx="651.8" cy="1685.9" r="3.6" fill="#a88878" fill-opacity="0.35"/><circle cx="649.7" cy="1780.1" r="3.0" fill="#a88878" fill-opacity="0.35"/><circle cx="608.7" cy="1690.0" r="2.5" fill="#a88878" fill-opacity="0.35"/><circle cx="696.1" cy="1682.6" r="2.3" fill="#a88878" fill-opacity="0.35"/><circle cx="668.9" cy="1697.6" r="2.5" fill="#a88878" fill-opacity="0.35"/><circle cx="574.8" cy="1718.1" r="3.4" fill="#a88878" fill-opacity="0.35"/><circle cx="655.7" cy="1781.9" r="2.5" fill="#a88878" fill-opacity="0.35"/><circle cx="628.1" cy="1692.3" r="3.4" fill="#a88878" fill-opacity="0.35"/><circle cx="661.7" cy="1708.0" r="2.8" fill="#a88878" fill-opacity="0.35"/><circle cx="610.9" cy="1738.2" r="3.9" fill="#a88878" fill-opacity="0.35"/><circle cx="605.4" cy="1687.6" r="3.8" fill="#a88878" fill-opacity="0.35"/><circle cx="647.9" cy="1642.1" r="3.3" fill="#a88878" fill-opacity="0.35"/><circle cx="706.9" cy="1678.4" r="4.2" fill="#a88878" fill-opacity="0.35"/><circle cx="597.0" cy="1789.4" r="3.2" fill="#a88878" fill-opacity="0.35"/><circle cx="568.2" cy="1693.4" r="2.4" fill="#a88878" fill-opacity="0.35"/><circle cx="708.6" cy="1678.9" r="4.2" fill="#a88878" fill-opacity="0.35"/><circle cx="711.9" cy="1680.8" r="3.6" fill="#a88878" fill-opacity="0.35"/><circle cx="583.6" cy="1780.3" r="2.6" fill="#a88878" fill-opacity="0.35"/><circle cx="613.1" cy="1796.0" r="4.5" fill="#a88878" fill-opacity="0.35"/><circle cx="565.0" cy="1703.9" r="3.8" fill="#a88878" fill-opacity="0.35"/><circle cx="569.1" cy="1708.6" r="4.0" fill="#a88878" fill-opacity="0.35"/><circle cx="644.6" cy="1802.1" r="3.3" fill="#a88878" fill-opacity="0.35"/><circle cx="612.1" cy="1654.0" r="2.7" fill="#a88878" fill-opacity="0.35"/><circle cx="613.9" cy="1793.7" r="4.0" fill="#a88878" fill-opacity="0.35"/><circle cx="598.9" cy="1656.5" r="4.5" fill="#a88878" fill-opacity="0.35"/><circle cx="616.0" cy="1684.3" r="1.8" fill="#7a5a4c" fill-opacity="0.75"/><circle cx="668.9" cy="1726.4" r="1.5" fill="#7a5a4c" fill-opacity="0.75"/><circle cx="656.1" cy="1690.6" r="1.9" fill="#7a5a4c" fill-opacity="0.75"/><circle cx="591.8" cy="1705.2" r="1.8" fill="#7a5a4c" fill-opacity="0.75"/><circle cx="617.7" cy="1734.4" r="1.3" fill="#7a5a4c" fill-opacity="0.75"/><circle cx="704.6" cy="1748.7" r="2.0" fill="#7a5a4c" fill-opacity="0.75"/><circle cx="635.1" cy="1707.0" r="1.5" fill="#7a5a4c" fill-opacity="0.75"/><circle cx="666.9" cy="1687.4" r="1.1" fill="#7a5a4c" fill-opacity="0.75"/><circle cx="657.4" cy="1715.8" r="1.7" fill="#7a5a4c" fill-opacity="0.75"/><circle cx="663.5" cy="1722.9" r="2.1" fill="#7a5a4c" fill-opacity="0.75"/><circle cx="621.7" cy="1735.5" r="1.2" fill="#7a5a4c" fill-opacity="0.75"/><circle cx="614.2" cy="1697.6" r="1.3" fill="#7a5a4c" fill-opacity="0.75"/><circle cx="697.9" cy="1743.1" r="1.3" fill="#7a5a4c" fill-opacity="0.75"/><circle cx="591.2" cy="1761.6" r="1.6" fill="#7a5a4c" fill-opacity="0.75"/><circle cx="589.0" cy="1732.5" r="1.5" fill="#7a5a4c" fill-opacity="0.75"/><circle cx="640.7" cy="1712.5" r="2.2" fill="#7a5a4c" fill-opacity="0.75"/><circle cx="606.8" cy="1665.4" r="1.5" fill="#7a5a4c" fill-opacity="0.75"/><circle cx="627.0" cy="1685.4" r="1.8" fill="#7a5a4c" fill-opacity="0.75"/><circle cx="644.7" cy="1748.1" r="1.5" fill="#7a5a4c" fill-opacity="0.75"/><circle cx="661.0" cy="1678.1" r="1.7" fill="#7a5a4c" fill-opacity="0.75"/><circle cx="647.7" cy="1714.1" r="1.6" fill="#7a5a4c" fill-opacity="0.75"/><circle cx="651.3" cy="1774.3" r="1.6" fill="#7a5a4c" fill-opacity="0.75"/><circle cx="648.5" cy="1681.4" r="1.2" fill="#7a5a4c" fill-opacity="0.75"/><circle cx="665.2" cy="1771.3" r="1.9" fill="#7a5a4c" fill-opacity="0.75"/><circle cx="640.3" cy="1737.9" r="1.5" fill="#7a5a4c" fill-opacity="0.75"/><circle cx="695.4" cy="1742.5" r="1.6" fill="#7a5a4c" fill-opacity="0.75"/><circle cx="636.1" cy="1755.9" r="1.6" fill="#7a5a4c" fill-opacity="0.75"/><circle cx="574.4" cy="1732.8" r="2.2" fill="#7a5a4c" fill-opacity="0.75"/><circle cx="668.0" cy="1711.5" r="1.5" fill="#7a5a4c" fill-opacity="0.75"/><circle cx="642.2" cy="1694.2" r="2.1" fill="#7a5a4c" fill-opacity="0.75"/><circle cx="641.8" cy="1730.3" r="1.9" fill="#7a5a4c" fill-opacity="0.75"/><circle cx="644.7" cy="1765.5" r="1.1" fill="#7a5a4c" fill-opacity="0.75"/><circle cx="632.2" cy="1715.1" r="2.2" fill="#7a5a4c" fill-opacity="0.75"/><circle cx="572.6" cy="1723.0" r="1.1" fill="#7a5a4c" fill-opacity="0.75"/><circle cx="651.8" cy="1685.9" r="2.0" fill="#7a5a4c" fill-opacity="0.75"/><circle cx="649.7" cy="1780.1" r="1.7" fill="#7a5a4c" fill-opacity="0.75"/><circle cx="608.7" cy="1690.0" r="1.4" fill="#7a5a4c" fill-opacity="0.75"/><circle cx="696.1" cy="1682.6" r="1.3" fill="#7a5a4c" fill-opacity="0.75"/><circle cx="668.9" cy="1697.6" r="1.4" fill="#7a5a4c" fill-opacity="0.75"/><circle cx="574.8" cy="1718.1" r="1.9" fill="#7a5a4c" fill-opacity="0.75"/><circle cx="655.7" cy="1781.9" r="1.4" fill="#7a5a4c" fill-opacity="0.75"/><circle cx="628.1" cy="1692.3" r="1.9" fill="#7a5a4c" fill-opacity="0.75"/><circle cx="661.7" cy="1708.0" r="1.6" fill="#7a5a4c" fill-opacity="0.75"/><circle cx="610.9" cy="1738.2" r="2.2" fill="#7a5a4c" fill-opacity="0.75"/><circle cx="605.4" cy="1687.6" r="2.1" fill="#7a5a4c" fill-opacity="0.75"/><circle cx="647.9" cy="1642.1" r="1.8" fill="#9a7450" fill-opacity="0.75"/><circle cx="706.9" cy="1678.4" r="2.3" fill="#9a7450" fill-opacity="0.75"/><circle cx="597.0" cy="1789.4" r="1.8" fill="#9a7450" fill-opacity="0.75"/><circle cx="568.2" cy="1693.4" r="1.3" fill="#9a7450" fill-opacity="0.75"/><circle cx="708.6" cy="1678.9" r="2.3" fill="#9a7450" fill-opacity="0.75"/><circle cx="711.9" cy="1680.8" r="2.0" fill="#9a7450" fill-opacity="0.75"/><circle cx="583.6" cy="1780.3" r="1.4" fill="#9a7450" fill-opacity="0.75"/><circle cx="613.1" cy="1796.0" r="2.5" fill="#9a7450" fill-opacity="0.75"/><circle cx="565.0" cy="1703.9" r="2.1" fill="#9a7450" fill-opacity="0.75"/><circle cx="569.1" cy="1708.6" r="2.2" fill="#9a7450" fill-opacity="0.75"/><circle cx="644.6" cy="1802.1" r="1.8" fill="#9a7450" fill-opacity="0.75"/><circle cx="612.1" cy="1654.0" r="1.5" fill="#9a7450" fill-opacity="0.75"/><circle cx="613.9" cy="1793.7" r="2.2" fill="#9a7450" fill-opacity="0.75"/><circle cx="598.9" cy="1656.5" r="2.5" fill="#9a7450" fill-opacity="0.75"/></g></g>
<clipPath id="cp22"><rect x="750.30" y="1629.60" width="184.60" height="184.00"/></clipPath>
<g clip-path="url(#cp22)"><rect x="750.3" y="1629.6" width="184.6" height="184.0" fill="#f1eaf1"/><polygon points="750.3,1629.6 772.3,1629.6 750.3,1649.6" fill="#201818"/><polygon points="934.9,1629.6 910.9,1629.6 934.9,1651.6" fill="#201818"/><polygon points="750.3,1813.6 764.3,1813.6 750.3,1801.6" fill="#8a8088" fill-opacity="0.35"/><polygon points="934.9,1813.6 920.9,1813.6 934.9,1801.6" fill="#8a8088" fill-opacity="0.35"/><circle cx="842.6" cy="1722.6" r="96.3" fill="url(#wbg)"/><g filter="url(#b3)"><path d="M 772.3 1773.1 A 88 88 0 0 1 790.3 1649.6" fill="none" stroke="#fbf6f8" stroke-width="6" stroke-opacity="0.75"/></g><circle cx="847.6" cy="1724.6" r="79" fill="#ead0c6"/><circle cx="847.6" cy="1724.6" r="79" fill="#fff" filter="url(#wtex)"/><g filter="url(#b1)"><circle cx="847.6" cy="1724.6" r="81" fill="none" stroke="#fffbee" stroke-width="3.6"/></g><g filter="url(#b1)"><circle cx="833.5" cy="1691.9" r="3.3" fill="#a88878" fill-opacity="0.35"/><circle cx="873.0" cy="1783.9" r="2.4" fill="#a88878" fill-opacity="0.35"/><circle cx="851.8" cy="1751.1" r="3.4" fill="#a88878" fill-opacity="0.35"/><circle cx="822.8" cy="1719.7" r="2.4" fill="#a88878" fill-opacity="0.35"/><circle cx="813.1" cy="1740.4" r="3.6" fill="#a88878" fill-opacity="0.35"/><circle cx="902.0" cy="1729.5" r="2.5" fill="#a88878" fill-opacity="0.35"/><circle cx="866.1" cy="1705.2" r="3.6" fill="#a88878" fill-opacity="0.35"/><circle cx="876.6" cy="1668.9" r="3.5" fill="#a88878" fill-opacity="0.35"/><circle cx="870.0" cy="1645.2" r="2.9" fill="#a88878" fill-opacity="0.35"/><circle cx="766.2" cy="1731.4" r="4.1" fill="#a88878" fill-opacity="0.35"/><circle cx="776.1" cy="1758.5" r="3.2" fill="#a88878" fill-opacity="0.35"/><circle cx="817.2" cy="1796.3" r="2.6" fill="#a88878" fill-opacity="0.35"/><circle cx="871.9" cy="1646.9" r="4.6" fill="#a88878" fill-opacity="0.35"/><circle cx="772.0" cy="1697.8" r="4.1" fill="#a88878" fill-opacity="0.35"/><circle cx="814.2" cy="1657.2" r="3.4" fill="#a88878" fill-opacity="0.35"/><circle cx="869.8" cy="1796.9" r="3.6" fill="#a88878" fill-opacity="0.35"/><circle cx="773.8" cy="1743.8" r="3.8" fill="#a88878" fill-opacity="0.35"/><circle cx="900.4" cy="1781.4" r="3.5" fill="#a88878" fill-opacity="0.35"/><circle cx="833.5" cy="1691.9" r="1.9" fill="#7a5a4c" fill-opacity="0.75"/><circle cx="873.0" cy="1783.9" r="1.4" fill="#7a5a4c" fill-opacity="0.75"/><circle cx="851.8" cy="1751.1" r="1.9" fill="#7a5a4c" fill-opacity="0.75"/><circle cx="822.8" cy="1719.7" r="1.3" fill="#7a5a4c" fill-opacity="0.75"/><circle cx="813.1" cy="1740.4" r="2.0" fill="#7a5a4c" fill-opacity="0.75"/><circle cx="902.0" cy="1729.5" r="1.4" fill="#7a5a4c" fill-opacity="0.75"/><circle cx="866.1" cy="1705.2" r="2.0" fill="#7a5a4c" fill-opacity="0.75"/><circle cx="876.6" cy="1668.9" r="1.9" fill="#7a5a4c" fill-opacity="0.75"/><circle cx="870.0" cy="1645.2" r="1.6" fill="#9a7450" fill-opacity="0.75"/><circle cx="766.2" cy="1731.4" r="2.3" fill="#9a7450" fill-opacity="0.75"/><circle cx="776.1" cy="1758.5" r="1.8" fill="#9a7450" fill-opacity="0.75"/><circle cx="817.2" cy="1796.3" r="1.5" fill="#9a7450" fill-opacity="0.75"/><circle cx="871.9" cy="1646.9" r="2.6" fill="#9a7450" fill-opacity="0.75"/><circle cx="772.0" cy="1697.8" r="2.3" fill="#9a7450" fill-opacity="0.75"/><circle cx="814.2" cy="1657.2" r="1.9" fill="#9a7450" fill-opacity="0.75"/><circle cx="869.8" cy="1796.9" r="2.0" fill="#9a7450" fill-opacity="0.75"/><circle cx="773.8" cy="1743.8" r="2.1" fill="#9a7450" fill-opacity="0.75"/><circle cx="900.4" cy="1781.4" r="1.9" fill="#9a7450" fill-opacity="0.75"/></g></g>
<clipPath id="cp23"><rect x="122.30" y="1822.50" width="185.20" height="183.00"/></clipPath>
<g clip-path="url(#cp23)"><rect x="122.3" y="1822.5" width="185.2" height="183.0" fill="#f1eaf1"/><polygon points="122.3,1822.5 144.3,1822.5 122.3,1842.5" fill="#201818"/><polygon points="307.5,1822.5 283.5,1822.5 307.5,1844.5" fill="#201818"/><polygon points="122.3,2005.5 136.3,2005.5 122.3,1993.5" fill="#8a8088" fill-opacity="0.35"/><polygon points="307.5,2005.5 293.5,2005.5 307.5,1993.5" fill="#8a8088" fill-opacity="0.35"/><circle cx="214.9" cy="1915.0" r="96.6" fill="url(#wbg)"/><g filter="url(#b3)"><path d="M 144.3 1965.2 A 88 88 0 0 1 162.3 1842.5" fill="none" stroke="#fbf6f8" stroke-width="6" stroke-opacity="0.75"/></g><circle cx="208.9" cy="1917.0" r="79" fill="#e2c8c0"/><circle cx="208.9" cy="1917.0" r="79" fill="#fff" filter="url(#wtex)"/><g filter="url(#b1)"><circle cx="208.9" cy="1917.0" r="81" fill="none" stroke="#fffbee" stroke-width="3.6"/></g></g>
<clipPath id="cp24"><rect x="320.20" y="1822.50" width="185.20" height="183.00"/></clipPath>
<g clip-path="url(#cp24)"><rect x="320.2" y="1822.5" width="185.2" height="183.0" fill="#f1eaf1"/><polygon points="320.2,1822.5 342.2,1822.5 320.2,1842.5" fill="#201818"/><polygon points="505.4,1822.5 481.4,1822.5 505.4,1844.5" fill="#201818"/><polygon points="320.2,2005.5 334.2,2005.5 320.2,1993.5" fill="#8a8088" fill-opacity="0.35"/><polygon points="505.4,2005.5 491.4,2005.5 505.4,1993.5" fill="#8a8088" fill-opacity="0.35"/><circle cx="412.8" cy="1915.0" r="96.6" fill="url(#wbg)"/><g filter="url(#b3)"><path d="M 342.2 1965.2 A 88 88 0 0 1 360.2 1842.5" fill="none" stroke="#fbf6f8" stroke-width="6" stroke-opacity="0.75"/></g><circle cx="406.8" cy="1917.0" r="79" fill="#e6cac0"/><circle cx="406.8" cy="1917.0" r="79" fill="#fff" filter="url(#wtex)"/><g filter="url(#b1)"><circle cx="406.8" cy="1917.0" r="81" fill="none" stroke="#fffbee" stroke-width="3.6"/></g></g>
<clipPath id="cp25"><rect x="551.80" y="1825.50" width="185.40" height="184.00"/></clipPath>
<g clip-path="url(#cp25)"><rect x="551.8" y="1825.5" width="185.4" height="184.0" fill="#f1eaf1"/><polygon points="551.8,1825.5 573.8,1825.5 551.8,1845.5" fill="#201818"/><polygon points="737.1999999999999,1825.5 713.1999999999999,1825.5 737.1999999999999,1847.5" fill="#201818"/><polygon points="551.8,2009.5 565.8,2009.5 551.8,1997.5" fill="#8a8088" fill-opacity="0.35"/><polygon points="737.1999999999999,2009.5 723.1999999999999,2009.5 737.1999999999999,1997.5" fill="#8a8088" fill-opacity="0.35"/><circle cx="644.5" cy="1918.5" r="96.7" fill="url(#wbg)"/><g filter="url(#b3)"><path d="M 573.8 1969.0 A 88 88 0 0 1 591.8 1845.5" fill="none" stroke="#fbf6f8" stroke-width="6" stroke-opacity="0.75"/></g><circle cx="642.5" cy="1920.5" r="79" fill="#e8cdc3"/><circle cx="642.5" cy="1920.5" r="79" fill="#fff" filter="url(#wtex)"/><g filter="url(#b1)"><circle cx="642.5" cy="1920.5" r="81" fill="none" stroke="#fffbee" stroke-width="3.6"/></g><g filter="url(#b1)"><circle cx="686.1" cy="1973.4" r="2.0" fill="#a88878" fill-opacity="0.35"/><circle cx="670.6" cy="1984.6" r="2.2" fill="#a88878" fill-opacity="0.35"/><circle cx="610.6" cy="1967.1" r="3.7" fill="#a88878" fill-opacity="0.35"/><circle cx="675.1" cy="1912.0" r="2.6" fill="#a88878" fill-opacity="0.35"/><circle cx="691.9" cy="1898.0" r="3.3" fill="#a88878" fill-opacity="0.35"/><circle cx="625.0" cy="1855.5" r="2.1" fill="#a88878" fill-opacity="0.35"/><circle cx="586.9" cy="1885.4" r="2.6" fill="#a88878" fill-opacity="0.35"/><circle cx="660.4" cy="1895.8" r="3.1" fill="#a88878" fill-opacity="0.35"/><circle cx="652.7" cy="1853.5" r="3.9" fill="#a88878" fill-opacity="0.35"/><circle cx="625.7" cy="1870.6" r="3.2" fill="#a88878" fill-opacity="0.35"/><circle cx="676.8" cy="1910.9" r="2.6" fill="#a88878" fill-opacity="0.35"/><circle cx="701.9" cy="1903.1" r="3.3" fill="#a88878" fill-opacity="0.35"/><circle cx="654.5" cy="1897.0" r="3.3" fill="#a88878" fill-opacity="0.35"/><circle cx="671.2" cy="1929.6" r="3.0" fill="#a88878" fill-opacity="0.35"/><circle cx="653.7" cy="1914.8" r="3.0" fill="#a88878" fill-opacity="0.35"/><circle cx="600.1" cy="1947.6" r="3.3" fill="#a88878" fill-opacity="0.35"/><circle cx="618.9" cy="1983.2" r="2.7" fill="#a88878" fill-opacity="0.35"/><circle cx="626.8" cy="1971.6" r="3.2" fill="#a88878" fill-opacity="0.35"/><circle cx="570.4" cy="1952.5" r="3.9" fill="#a88878" fill-opacity="0.35"/><circle cx="709.5" cy="1961.9" r="4.7" fill="#a88878" fill-opacity="0.35"/><circle cx="572.3" cy="1952.6" r="3.3" fill="#a88878" fill-opacity="0.35"/><circle cx="721.2" cy="1896.1" r="3.5" fill="#a88878" fill-opacity="0.35"/><circle cx="706.3" cy="1964.8" r="4.4" fill="#a88878" fill-opacity="0.35"/><circle cx="570.2" cy="1898.7" r="3.2" fill="#a88878" fill-opacity="0.35"/><circle cx="594.5" cy="1980.6" r="2.8" fill="#a88878" fill-opacity="0.35"/><circle cx="570.0" cy="1904.1" r="4.2" fill="#a88878" fill-opacity="0.35"/><circle cx="666.4" cy="1996.6" r="4.0" fill="#a88878" fill-opacity="0.35"/><circle cx="579.4" cy="1960.1" r="4.3" fill="#a88878" fill-opacity="0.35"/><circle cx="562.7" cy="1940.7" r="4.3" fill="#a88878" fill-opacity="0.35"/><circle cx="564.9" cy="1908.7" r="3.7" fill="#a88878" fill-opacity="0.35"/><circle cx="639.2" cy="1837.6" r="3.4" fill="#a88878" fill-opacity="0.35"/><circle cx="592.4" cy="1857.4" r="3.2" fill="#a88878" fill-opacity="0.35"/><circle cx="686.1" cy="1973.4" r="1.1" fill="#7a5a4c" fill-opacity="0.75"/><circle cx="670.6" cy="1984.6" r="1.2" fill="#7a5a4c" fill-opacity="0.75"/><circle cx="610.6" cy="1967.1" r="2.1" fill="#7a5a4c" fill-opacity="0.75"/><circle cx="675.1" cy="1912.0" r="1.5" fill="#7a5a4c" fill-opacity="0.75"/><circle cx="691.9" cy="1898.0" r="1.9" fill="#7a5a4c" fill-opacity="0.75"/><circle cx="625.0" cy="1855.5" r="1.2" fill="#7a5a4c" fill-opacity="0.75"/><circle cx="586.9" cy="1885.4" r="1.4" fill="#7a5a4c" fill-opacity="0.75"/><circle cx="660.4" cy="1895.8" r="1.7" fill="#7a5a4c" fill-opacity="0.75"/><circle cx="652.7" cy="1853.5" r="2.2" fill="#7a5a4c" fill-opacity="0.75"/><circle cx="625.7" cy="1870.6" r="1.8" fill="#7a5a4c" fill-opacity="0.75"/><circle cx="676.8" cy="1910.9" r="1.4" fill="#7a5a4c" fill-opacity="0.75"/><circle cx="701.9" cy="1903.1" r="1.8" fill="#7a5a4c" fill-opacity="0.75"/><circle cx="654.5" cy="1897.0" r="1.8" fill="#7a5a4c" fill-opacity="0.75"/><circle cx="671.2" cy="1929.6" r="1.7" fill="#7a5a4c" fill-opacity="0.75"/><circle cx="653.7" cy="1914.8" r="1.7" fill="#7a5a4c" fill-opacity="0.75"/><circle cx="600.1" cy="1947.6" r="1.8" fill="#7a5a4c" fill-opacity="0.75"/><circle cx="618.9" cy="1983.2" r="1.5" fill="#7a5a4c" fill-opacity="0.75"/><circle cx="626.8" cy="1971.6" r="1.8" fill="#7a5a4c" fill-opacity="0.75"/><circle cx="570.4" cy="1952.5" r="2.2" fill="#9a7450" fill-opacity="0.75"/><circle cx="709.5" cy="1961.9" r="2.6" fill="#9a7450" fill-opacity="0.75"/><circle cx="572.3" cy="1952.6" r="1.8" fill="#9a7450" fill-opacity="0.75"/><circle cx="721.2" cy="1896.1" r="2.0" fill="#9a7450" fill-opacity="0.75"/><circle cx="706.3" cy="1964.8" r="2.5" fill="#9a7450" fill-opacity="0.75"/><circle cx="570.2" cy="1898.7" r="1.8" fill="#9a7450" fill-opacity="0.75"/><circle cx="594.5" cy="1980.6" r="1.5" fill="#9a7450" fill-opacity="0.75"/><circle cx="570.0" cy="1904.1" r="2.3" fill="#9a7450" fill-opacity="0.75"/><circle cx="666.4" cy="1996.6" r="2.2" fill="#9a7450" fill-opacity="0.75"/><circle cx="579.4" cy="1960.1" r="2.4" fill="#9a7450" fill-opacity="0.75"/><circle cx="562.7" cy="1940.7" r="2.4" fill="#9a7450" fill-opacity="0.75"/><circle cx="564.9" cy="1908.7" r="2.1" fill="#9a7450" fill-opacity="0.75"/><circle cx="639.2" cy="1837.6" r="1.9" fill="#9a7450" fill-opacity="0.75"/><circle cx="592.4" cy="1857.4" r="1.8" fill="#9a7450" fill-opacity="0.75"/></g></g>
<clipPath id="cp26"><rect x="750.30" y="1825.50" width="184.60" height="184.00"/></clipPath>
<g clip-path="url(#cp26)"><rect x="750.3" y="1825.5" width="184.6" height="184.0" fill="#f1eaf1"/><polygon points="750.3,1825.5 772.3,1825.5 750.3,1845.5" fill="#201818"/><polygon points="934.9,1825.5 910.9,1825.5 934.9,1847.5" fill="#201818"/><polygon points="750.3,2009.5 764.3,2009.5 750.3,1997.5" fill="#8a8088" fill-opacity="0.35"/><polygon points="934.9,2009.5 920.9,2009.5 934.9,1997.5" fill="#8a8088" fill-opacity="0.35"/><circle cx="842.6" cy="1918.5" r="96.3" fill="url(#wbg)"/><g filter="url(#b3)"><path d="M 772.3 1969.0 A 88 88 0 0 1 790.3 1845.5" fill="none" stroke="#fbf6f8" stroke-width="6" stroke-opacity="0.75"/></g><circle cx="847.6" cy="1920.5" r="79" fill="#e4c8be"/><circle cx="847.6" cy="1920.5" r="79" fill="#fff" filter="url(#wtex)"/><g filter="url(#b1)"><circle cx="847.6" cy="1920.5" r="81" fill="none" stroke="#fffbee" stroke-width="3.6"/></g><g filter="url(#b1)"><circle cx="911.4" cy="1899.1" r="3.7" fill="#a88878" fill-opacity="0.35"/><circle cx="830.7" cy="1909.4" r="2.8" fill="#a88878" fill-opacity="0.35"/><circle cx="882.4" cy="1957.7" r="2.4" fill="#a88878" fill-opacity="0.35"/><circle cx="856.0" cy="1966.4" r="2.9" fill="#a88878" fill-opacity="0.35"/><circle cx="857.1" cy="1926.2" r="3.4" fill="#a88878" fill-opacity="0.35"/><circle cx="770.1" cy="1914.3" r="4.1" fill="#a88878" fill-opacity="0.35"/><circle cx="919.8" cy="1947.8" r="4.2" fill="#a88878" fill-opacity="0.35"/><circle cx="804.2" cy="1854.1" r="3.8" fill="#a88878" fill-opacity="0.35"/><circle cx="793.8" cy="1983.3" r="4.1" fill="#a88878" fill-opacity="0.35"/><circle cx="778.1" cy="1886.7" r="3.9" fill="#a88878" fill-opacity="0.35"/><circle cx="913.5" cy="1959.9" r="3.4" fill="#a88878" fill-opacity="0.35"/><circle cx="911.4" cy="1899.1" r="2.1" fill="#7a5a4c" fill-opacity="0.75"/><circle cx="830.7" cy="1909.4" r="1.6" fill="#7a5a4c" fill-opacity="0.75"/><circle cx="882.4" cy="1957.7" r="1.3" fill="#7a5a4c" fill-opacity="0.75"/><circle cx="856.0" cy="1966.4" r="1.6" fill="#7a5a4c" fill-opacity="0.75"/><circle cx="857.1" cy="1926.2" r="1.9" fill="#7a5a4c" fill-opacity="0.75"/><circle cx="770.1" cy="1914.3" r="2.3" fill="#9a7450" fill-opacity="0.75"/><circle cx="919.8" cy="1947.8" r="2.3" fill="#9a7450" fill-opacity="0.75"/><circle cx="804.2" cy="1854.1" r="2.1" fill="#9a7450" fill-opacity="0.75"/><circle cx="793.8" cy="1983.3" r="2.3" fill="#9a7450" fill-opacity="0.75"/><circle cx="778.1" cy="1886.7" r="2.2" fill="#9a7450" fill-opacity="0.75"/><circle cx="913.5" cy="1959.9" r="1.9" fill="#9a7450" fill-opacity="0.75"/></g></g>
<rect x="548.00" y="1419.50" width="388.00" height="2.20" fill="#c8c0c6" opacity="0.6"/>
<rect x="122.00" y="2010.00" width="385.00" height="4.00" fill="#c8bcc4" opacity="0.7"/>
<rect x="552.00" y="2013.00" width="383.00" height="3.00" fill="#d0c8ce" opacity="0.6"/>
<rect x="519.00" y="1758.00" width="2.60" height="10.00" fill="#9a9a9a" rx="1.2"/>
</svg></body></html>
